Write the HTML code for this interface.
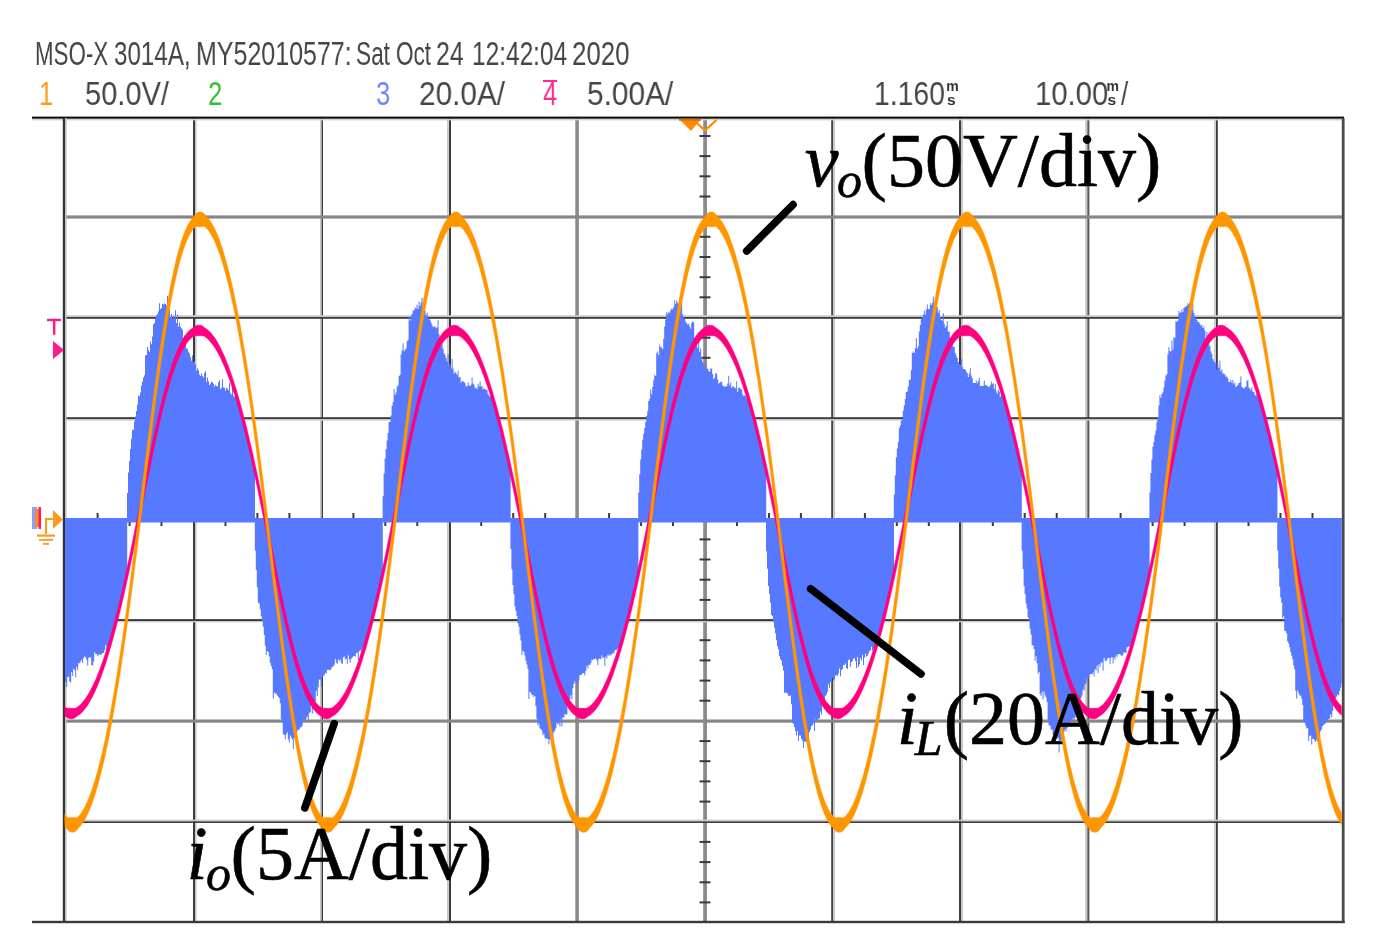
<!DOCTYPE html>
<html><head><meta charset="utf-8"><title>Scope capture</title>
<style>
html,body{margin:0;padding:0;background:#fff;}
body{width:1374px;height:951px;position:relative;overflow:hidden;font-family:"Liberation Sans",sans-serif;}
.hd{position:absolute;will-change:transform;white-space:nowrap;font-family:"Liberation Sans",sans-serif;font-size:34px;line-height:1;color:#454545;transform-origin:0 0;letter-spacing:0;}
svg{position:absolute;left:0;top:0;}
.lab{font-family:"Liberation Serif",serif;fill:#000;}
</style></head>
<body>
<div class="hd" style="left:34.73px;top:35.5px;transform:scaleX(0.6570)">MSO-X</div>
<div class="hd" style="left:114.39px;top:35.5px;transform:scaleX(0.7106)">3014A,</div>
<div class="hd" style="left:196.20px;top:35.5px;transform:scaleX(0.7350)">MY52010577:</div>
<div class="hd" style="left:355.97px;top:35.5px;transform:scaleX(0.6653)">Sat</div>
<div class="hd" style="left:395.58px;top:35.5px;transform:scaleX(0.6608)">Oct</div>
<div class="hd" style="left:436.14px;top:35.5px;transform:scaleX(0.7314)">24</div>
<div class="hd" style="left:471.54px;top:35.5px;transform:scaleX(0.7188)">12:42:04</div>
<div class="hd" style="left:572.28px;top:35.5px;transform:scaleX(0.7611)">2020</div>
<div class="hd" style="left:38.90px;top:75.8px;transform:scaleX(0.7500);color:#ff9a1a">1</div>
<div class="hd" style="left:85.09px;top:75.8px;transform:scaleX(0.8542)">50.0V/</div>
<div class="hd" style="left:207.88px;top:75.8px;transform:scaleX(0.7500);color:#2ec02e">2</div>
<div class="hd" style="left:375.75px;top:75.8px;transform:scaleX(0.7500);color:#6a86ff">3</div>
<div class="hd" style="left:419.25px;top:75.8px;transform:scaleX(0.8750)">20.0A/</div>
<div class="hd" style="left:543.17px;top:75.8px;transform:scaleX(0.7500);color:#ff2a90">4</div>
<div class="hd" style="left:586.94px;top:75.8px;transform:scaleX(0.8781)">5.00A/</div>
<div class="hd" style="left:874.40px;top:75.8px;transform:scaleX(0.8333)">1.160</div>
<div class="hd" style="left:1034.72px;top:75.8px;transform:scaleX(0.8605)">10.00</div>
<div class="hd" style="left:1121.42px;top:75.8px;transform:scaleX(0.7500)">/</div>

<svg width="1374" height="951" viewBox="0 0 1374 951">
<g id="grid">
<rect x="193" y="118" width="2" height="804" fill="#3c3c3c"/>
<rect x="195" y="118" width="1.6" height="804" fill="#c8c8c8"/>
<rect x="321.4" y="118" width="1.6" height="804" fill="#3c3c3c"/>
<rect x="320" y="118" width="1.4" height="804" fill="#c8c8c8"/>
<rect x="449" y="118" width="2" height="804" fill="#3c3c3c"/>
<rect x="447" y="118" width="1.8" height="804" fill="#c8c8c8"/>
<rect x="831.2" y="118" width="2" height="804" fill="#444"/>
<rect x="833.2" y="118" width="1.8" height="804" fill="#c8c8c8"/>
<rect x="959" y="118" width="2" height="804" fill="#3c3c3c"/>
<rect x="961" y="118" width="2" height="804" fill="#c8c8c8"/>
<rect x="1087.2" y="118" width="2.2" height="804" fill="#5a5a5a"/>
<rect x="1085.2" y="118" width="2" height="804" fill="#c8c8c8"/>
<rect x="1216" y="118" width="1.8" height="804" fill="#3c3c3c"/>
<rect x="1214" y="118" width="1.8" height="804" fill="#c8c8c8"/>
<rect x="575.3" y="118" width="3.6" height="804" fill="#8a8a8a"/>
<rect x="703.2" y="118" width="3.8" height="804" fill="#8c8c8c"/>
<rect x="64" y="215.4" width="1279" height="3.2" fill="#878787"/>
<rect x="64" y="317" width="1279" height="1.8" fill="#3c3c3c"/>
<rect x="64" y="315.2" width="1279" height="1.8" fill="#cacaca"/>
<rect x="64" y="417.2" width="1279" height="1.8" fill="#3c3c3c"/>
<rect x="64" y="419" width="1279" height="1.6" fill="#cacaca"/>
<rect x="64" y="518.6" width="1279" height="2" fill="#6a6a6a"/>
<rect x="64" y="619.1" width="1279" height="1.9" fill="#3c3c3c"/>
<rect x="64" y="621" width="1279" height="1.3" fill="#cacaca"/>
<rect x="64" y="719.5" width="1279" height="3.2" fill="#878787"/>
<rect x="64" y="821.2" width="1279" height="1.8" fill="#3c3c3c"/>
<rect x="64" y="819.6" width="1279" height="1.6" fill="#cacaca"/>
<rect x="32" y="116.6" width="1312" height="2.2" fill="#0c0c0c"/>
<rect x="32" y="118.8" width="1312" height="1.6" fill="#d0d0d0"/>
<rect x="62.8" y="118" width="2.2" height="805" fill="#333"/>
<rect x="65" y="118" width="1.6" height="805" fill="#c0c0c0"/>
<rect x="1341.8" y="118" width="2.8" height="805" fill="#4a4a4a"/>
<rect x="32" y="920.8" width="1312.6" height="2.4" fill="#3a3a3a"/>
<rect x="699.5" y="135" width="11" height="2" fill="#3a3a3a"/>
<rect x="699.5" y="155.1" width="11" height="2" fill="#3a3a3a"/>
<rect x="699.5" y="175.3" width="11" height="2" fill="#3a3a3a"/>
<rect x="699.5" y="195.5" width="11" height="2" fill="#3a3a3a"/>
<rect x="699.5" y="235.8" width="11" height="2" fill="#3a3a3a"/>
<rect x="699.5" y="256" width="11" height="2" fill="#3a3a3a"/>
<rect x="699.5" y="276.2" width="11" height="2" fill="#3a3a3a"/>
<rect x="699.5" y="296.3" width="11" height="2" fill="#3a3a3a"/>
<rect x="699.5" y="336.7" width="11" height="2" fill="#3a3a3a"/>
<rect x="699.5" y="356.8" width="11" height="2" fill="#3a3a3a"/>
<rect x="699.5" y="377" width="11" height="2" fill="#3a3a3a"/>
<rect x="699.5" y="397.2" width="11" height="2" fill="#3a3a3a"/>
<rect x="699.5" y="437.5" width="11" height="2" fill="#3a3a3a"/>
<rect x="699.5" y="457.7" width="11" height="2" fill="#3a3a3a"/>
<rect x="699.5" y="477.9" width="11" height="2" fill="#3a3a3a"/>
<rect x="699.5" y="498" width="11" height="2" fill="#3a3a3a"/>
<rect x="699.5" y="538.4" width="11" height="2" fill="#3a3a3a"/>
<rect x="699.5" y="558.5" width="11" height="2" fill="#3a3a3a"/>
<rect x="699.5" y="578.7" width="11" height="2" fill="#3a3a3a"/>
<rect x="699.5" y="598.9" width="11" height="2" fill="#3a3a3a"/>
<rect x="699.5" y="639.2" width="11" height="2" fill="#3a3a3a"/>
<rect x="699.5" y="659.4" width="11" height="2" fill="#3a3a3a"/>
<rect x="699.5" y="679.6" width="11" height="2" fill="#3a3a3a"/>
<rect x="699.5" y="699.7" width="11" height="2" fill="#3a3a3a"/>
<rect x="699.5" y="740.1" width="11" height="2" fill="#3a3a3a"/>
<rect x="699.5" y="760.2" width="11" height="2" fill="#3a3a3a"/>
<rect x="699.5" y="780.4" width="11" height="2" fill="#3a3a3a"/>
<rect x="699.5" y="800.6" width="11" height="2" fill="#3a3a3a"/>
<rect x="699.5" y="840.9" width="11" height="2" fill="#3a3a3a"/>
<rect x="699.5" y="861.1" width="11" height="2" fill="#3a3a3a"/>
<rect x="699.5" y="881.3" width="11" height="2" fill="#3a3a3a"/>
<rect x="699.5" y="901.4" width="11" height="2" fill="#3a3a3a"/>
<rect x="96.6" y="513" width="2" height="13" fill="#3a3a3a"/>
<rect x="128.6" y="513" width="2" height="13" fill="#3a3a3a"/>
<rect x="160.5" y="513" width="2" height="13" fill="#3a3a3a"/>
<rect x="224.5" y="513" width="2" height="13" fill="#3a3a3a"/>
<rect x="256.4" y="513" width="2" height="13" fill="#3a3a3a"/>
<rect x="288.4" y="513" width="2" height="13" fill="#3a3a3a"/>
<rect x="352.4" y="513" width="2" height="13" fill="#3a3a3a"/>
<rect x="384.3" y="513" width="2" height="13" fill="#3a3a3a"/>
<rect x="416.3" y="513" width="2" height="13" fill="#3a3a3a"/>
<rect x="480.2" y="513" width="2" height="13" fill="#3a3a3a"/>
<rect x="512.2" y="513" width="2" height="13" fill="#3a3a3a"/>
<rect x="544.2" y="513" width="2" height="13" fill="#3a3a3a"/>
<rect x="608.1" y="513" width="2" height="13" fill="#3a3a3a"/>
<rect x="640.1" y="513" width="2" height="13" fill="#3a3a3a"/>
<rect x="672" y="513" width="2" height="13" fill="#3a3a3a"/>
<rect x="736" y="513" width="2" height="13" fill="#3a3a3a"/>
<rect x="768" y="513" width="2" height="13" fill="#3a3a3a"/>
<rect x="799.9" y="513" width="2" height="13" fill="#3a3a3a"/>
<rect x="863.9" y="513" width="2" height="13" fill="#3a3a3a"/>
<rect x="895.8" y="513" width="2" height="13" fill="#3a3a3a"/>
<rect x="927.8" y="513" width="2" height="13" fill="#3a3a3a"/>
<rect x="991.8" y="513" width="2" height="13" fill="#3a3a3a"/>
<rect x="1023.7" y="513" width="2" height="13" fill="#3a3a3a"/>
<rect x="1055.7" y="513" width="2" height="13" fill="#3a3a3a"/>
<rect x="1119.6" y="513" width="2" height="13" fill="#3a3a3a"/>
<rect x="1151.6" y="513" width="2" height="13" fill="#3a3a3a"/>
<rect x="1183.6" y="513" width="2" height="13" fill="#3a3a3a"/>
<rect x="1247.5" y="513" width="2" height="13" fill="#3a3a3a"/>
<rect x="1279.5" y="513" width="2" height="13" fill="#3a3a3a"/>
<rect x="1311.5" y="513" width="2" height="13" fill="#3a3a3a"/>
</g>
<g id="blue" fill="#5679ff">
<path d="M65 522 L65 550.7 L65 550.7 L65 572.1 L65 572.1 L65 584.9 L65 584.9 L65 594 L65 594 L65 603.9 L65 603.9 L65 611.7 L65 611.7 L65 617.5 L65 617.5 L65 622.9 L65 622.9 L65 624 L65 624 L65 639.9 L65 639.9 L65 643.2 L65 643.2 L65 648.8 L65 648.8 L65 650.2 L65 650.2 L65 649.5 L65 649.5 L65 656.2 L65 656.2 L65 663.9 L65 663.9 L65 663.7 L65 663.7 L65 669.1 L65 669.1 L65 690.5 L65 690.5 L65 692.5 L65 692.5 L65 695.2 L65 695.2 L65 693.6 L65 693.6 L65 696.4 L65 696.4 L65 697.4 L65 697.4 L65 697 L65 697 L65 706.7 L65 706.7 L65 725.5 L65 725.5 L65 722.5 L65 722.5 L65 726.2 L65 726.2 L65 736.8 L65 736.8 L65 732.3 L65 732.3 L65 732.3 L65 732.3 L65 734.7 L65 734.7 L65 735 L65 735 L65 735.5 L65 735.5 L65 736.7 L65 736.7 L65 741 L65 741 L65 737.9 L65 737.9 L65 747.8 L65 747.8 L65 742.1 L65 742.1 L65 739.6 L65 739.6 L65 735.2 L65 735.2 L65 731.5 L65 731.5 L65 730.2 L65 730.2 L65 729 L65 729 L65 732.8 L65 732.8 L65 727.9 L65 727.9 L65 725.2 L65 725.2 L65 724.3 L65 724.3 L65 724.7 L65 724.7 L65 720.9 L65 720.9 L65 718.9 L65 718.9 L65 717.3 L65 717.3 L65 716.1 L65 716.1 L65 715.2 L65 715.2 L65 713.7 L65 713.7 L65 707.7 L65 707.7 L65 702.7 L65 702.7 L65 700.2 L65 700.2 L65 697.9 L65 697.9 L65 694.7 L65 694.7 L65 690.6 L65 690.6 L65 688.7 L65 688.7 L65 687.9 L65 687.9 L65 682.5 L65 682.5 L65 687.6 L65.2 687.6 L65.2 681.9 L66.2 681.9 L66.2 687 L67.2 687 L67.2 677.1 L68.2 677.1 L68.2 676.5 L69.2 676.5 L69.2 681.6 L70.2 681.6 L70.2 682.4 L71.2 682.4 L71.2 672.1 L72.2 672.1 L72.2 675.9 L73.2 675.9 L73.2 668.7 L74.2 668.7 L74.2 670 L75.2 670 L75.2 677.2 L76.2 677.2 L76.2 666.8 L77.2 666.8 L77.2 669.7 L78.2 669.7 L78.2 662.7 L79.2 662.7 L79.2 663.4 L80.2 663.4 L80.2 661.4 L81.2 661.4 L81.2 659.7 L82.2 659.7 L82.2 662.9 L83.2 662.9 L83.2 657.9 L84.2 657.9 L84.2 656.3 L85.2 656.3 L85.2 657.4 L86.2 657.4 L86.2 659.8 L87.2 659.8 L87.2 665.6 L88.2 665.6 L88.2 658.1 L89.2 658.1 L89.2 657 L90.2 657 L90.2 657.8 L91.2 657.8 L91.2 665.6 L92.2 665.6 L92.2 665 L93.2 665 L93.2 661.4 L94.2 661.4 L94.2 652.1 L95.2 652.1 L95.2 654.3 L96.2 654.3 L96.2 654 L97.2 654 L97.2 655.9 L98.2 655.9 L98.2 654.7 L99.2 654.7 L99.2 653.9 L100.2 653.9 L100.2 655 L101.2 655 L101.2 654.2 L102.2 654.2 L102.2 652.8 L103.2 652.8 L103.2 652.9 L104.2 652.9 L104.2 650.1 L105.2 650.1 L105.2 644.9 L106.2 644.9 L106.2 650.6 L107.2 650.6 L107.2 646.7 L108.2 646.7 L108.2 645.7 L109.2 645.7 L109.2 642.8 L110.2 642.8 L110.2 639.7 L111.2 639.7 L111.2 635.7 L112.2 635.7 L112.2 632.1 L113.2 632.1 L113.2 628.7 L114.2 628.7 L114.2 624.4 L115.2 624.4 L115.2 620.1 L116.2 620.1 L116.2 617.4 L117.2 617.4 L117.2 613.6 L118.2 613.6 L118.2 609.4 L119.2 609.4 L119.2 605 L120.2 605 L120.2 601.1 L121.2 601.1 L121.2 596.5 L122.2 596.5 L122.2 592.3 L123.2 592.3 L123.2 587.1 L124.2 587.1 L124.2 583.9 L125.2 583.9 L125.2 579.3 L126.2 579.3 L126.2 573.8 L127.2 573.8 L127.2 522 L127.2 518 L65 518 Z"/>
<path d="M127 522 L127 493 L128 493 L128 472.5 L129 472.5 L129 461.1 L130 461.1 L130 449 L131 449 L131 438.7 L132 438.7 L132 429.5 L133 429.5 L133 429.8 L134 429.8 L134 421.2 L135 421.2 L135 416.4 L136 416.4 L136 410.9 L137 410.9 L137 404.5 L138 404.5 L138 395.4 L139 395.4 L139 396.2 L140 396.2 L140 392.5 L141 392.5 L141 385.5 L142 385.5 L142 381.4 L143 381.4 L143 377.6 L144 377.6 L144 375.2 L145 375.2 L145 355.2 L146 355.2 L146 354.9 L147 354.9 L147 346.9 L148 346.9 L148 349.9 L149 349.9 L149 352.1 L150 352.1 L150 341.6 L151 341.6 L151 344.2 L152 344.2 L152 336.6 L153 336.6 L153 324.2 L154 324.2 L154 322.9 L155 322.9 L155 317.9 L156 317.9 L156 315.6 L157 315.6 L157 314 L158 314 L158 311.3 L159 311.3 L159 303.2 L160 303.2 L160 309.1 L161 309.1 L161 307.9 L162 307.9 L162 303.8 L163 303.8 L163 304.6 L164 304.6 L164 303.6 L165 303.6 L165 303.9 L166 303.9 L166 305.8 L167 305.8 L167 296.1 L168 296.1 L168 306.8 L169 306.8 L169 308.9 L170 308.9 L170 317 L171 317 L171 314.1 L172 314.1 L172 318.7 L173 318.7 L173 315.9 L174 315.9 L174 318.6 L175 318.6 L175 310.2 L176 310.2 L176 322.9 L177 322.9 L177 314.5 L178 314.5 L178 326.4 L179 326.4 L179 322.6 L180 322.6 L180 326.5 L181 326.5 L181 328.2 L182 328.2 L182 329.7 L183 329.7 L183 337.8 L184 337.8 L184 335.4 L185 335.4 L185 344.1 L186 344.1 L186 348.6 L187 348.6 L187 348.8 L188 348.8 L188 351.8 L189 351.8 L189 353.5 L190 353.5 L190 357 L191 357 L191 360.8 L192 360.8 L192 355.3 L193 355.3 L193 361.9 L194 361.9 L194 361.4 L195 361.4 L195 364.5 L196 364.5 L196 370.8 L197 370.8 L197 368.2 L198 368.2 L198 370.2 L199 370.2 L199 374.6 L200 374.6 L200 376.1 L201 376.1 L201 373.8 L202 373.8 L202 375.9 L203 375.9 L203 377.5 L204 377.5 L204 372.9 L205 372.9 L205 371.3 L206 371.3 L206 381.7 L207 381.7 L207 377.5 L208 377.5 L208 381.3 L209 381.3 L209 384.9 L210 384.9 L210 383.4 L211 383.4 L211 381.8 L212 381.8 L212 382.3 L213 382.3 L213 383.8 L214 383.8 L214 386.4 L215 386.4 L215 384.7 L216 384.7 L216 385.9 L217 385.9 L217 386.6 L218 386.6 L218 382.3 L219 382.3 L219 380 L220 380 L220 389.2 L221 389.2 L221 387.8 L222 387.8 L222 379.3 L223 379.3 L223 387.6 L224 387.6 L224 387.8 L225 387.8 L225 390.8 L226 390.8 L226 387.7 L227 387.7 L227 388.5 L228 388.5 L228 390.3 L229 390.3 L229 382.8 L230 382.8 L230 393.5 L231 393.5 L231 394.5 L232 394.5 L232 385.9 L233 385.9 L233 395.8 L234 395.8 L234 396.9 L235 396.9 L235 395.1 L236 395.1 L236 398 L237 398 L237 400.8 L238 400.8 L238 404.9 L239 404.9 L239 407.8 L240 407.8 L240 411.7 L241 411.7 L241 415.9 L242 415.9 L242 419.1 L243 419.1 L243 423.4 L244 423.4 L244 426.8 L245 426.8 L245 431 L246 431 L246 434.5 L247 434.5 L247 438.9 L248 438.9 L248 443 L249 443 L249 447.5 L250 447.5 L250 452.9 L251 452.9 L251 455.9 L252 455.9 L252 460.8 L253 460.8 L253 465.3 L254 465.3 L254 470.2 L255 470.2 L255 522 L255 522.6 L127 522.6 Z"/>
<path d="M254.8 522 L254.8 550.4 L255.8 550.4 L255.8 570 L256.8 570 L256.8 587.2 L257.8 587.2 L257.8 602.7 L258.8 602.7 L258.8 603.6 L259.8 603.6 L259.8 609.2 L260.8 609.2 L260.8 616.3 L261.8 616.3 L261.8 621.2 L262.8 621.2 L262.8 626.7 L263.8 626.7 L263.8 634.9 L264.8 634.9 L264.8 645.7 L265.8 645.7 L265.8 655.1 L266.8 655.1 L266.8 651 L267.8 651 L267.8 651.9 L268.8 651.9 L268.8 656.4 L269.8 656.4 L269.8 662.7 L270.8 662.7 L270.8 665.9 L271.8 665.9 L271.8 669.2 L272.8 669.2 L272.8 698.8 L273.8 698.8 L273.8 692.6 L274.8 692.6 L274.8 694 L275.8 694 L275.8 693.2 L276.8 693.2 L276.8 695.5 L277.8 695.5 L277.8 696.7 L278.8 696.7 L278.8 697.9 L279.8 697.9 L279.8 703.3 L280.8 703.3 L280.8 719 L281.8 719 L281.8 722.4 L282.8 722.4 L282.8 734.3 L283.8 734.3 L283.8 735.1 L284.8 735.1 L284.8 739.6 L285.8 739.6 L285.8 734.2 L286.8 734.2 L286.8 732.2 L287.8 732.2 L287.8 739.5 L288.8 739.5 L288.8 742.6 L289.8 742.6 L289.8 735.4 L290.8 735.4 L290.8 737.4 L291.8 737.4 L291.8 739.3 L292.8 739.3 L292.8 749.1 L293.8 749.1 L293.8 737.8 L294.8 737.8 L294.8 738.7 L295.8 738.7 L295.8 734.9 L296.8 734.9 L296.8 731.3 L297.8 731.3 L297.8 729.6 L298.8 729.6 L298.8 729.5 L299.8 729.5 L299.8 727.2 L300.8 727.2 L300.8 727.6 L301.8 727.6 L301.8 725.4 L302.8 725.4 L302.8 720.3 L303.8 720.3 L303.8 721.3 L304.8 721.3 L304.8 720.3 L305.8 720.3 L305.8 718.4 L306.8 718.4 L306.8 716.6 L307.8 716.6 L307.8 721.4 L308.8 721.4 L308.8 713.2 L309.8 713.2 L309.8 712.1 L310.8 712.1 L310.8 705.4 L311.8 705.4 L311.8 713.7 L312.8 713.7 L312.8 704.1 L313.8 704.1 L313.8 706.4 L314.8 706.4 L314.8 701.5 L315.8 701.5 L315.8 690.7 L316.8 690.7 L316.8 696.1 L317.8 696.1 L317.8 687.2 L318.8 687.2 L318.8 679.6 L319.8 679.6 L319.8 679.8 L320.8 679.8 L320.8 686.7 L321.8 686.7 L321.8 677.2 L322.8 677.2 L322.8 675.9 L323.8 675.9 L323.8 675.2 L324.8 675.2 L324.8 672.9 L325.8 672.9 L325.8 673.6 L326.8 673.6 L326.8 669.9 L327.8 669.9 L327.8 669.5 L328.8 669.5 L328.8 670.5 L329.8 670.5 L329.8 669.9 L330.8 669.9 L330.8 668.4 L331.8 668.4 L331.8 666.8 L332.8 666.8 L332.8 666.4 L333.8 666.4 L333.8 664.8 L334.8 664.8 L334.8 659.1 L335.8 659.1 L335.8 662.6 L336.8 662.6 L336.8 664.1 L337.8 664.1 L337.8 659.3 L338.8 659.3 L338.8 660.9 L339.8 660.9 L339.8 659.6 L340.8 659.6 L340.8 663.1 L341.8 663.1 L341.8 663.9 L342.8 663.9 L342.8 657.5 L343.8 657.5 L343.8 656.6 L344.8 656.6 L344.8 659.6 L345.8 659.6 L345.8 658.4 L346.8 658.4 L346.8 664.1 L347.8 664.1 L347.8 655.2 L348.8 655.2 L348.8 659.2 L349.8 659.2 L349.8 662.8 L350.8 662.8 L350.8 658.7 L351.8 658.7 L351.8 657.7 L352.8 657.7 L352.8 656.3 L353.8 656.3 L353.8 655.9 L354.8 655.9 L354.8 656.8 L355.8 656.8 L355.8 653.3 L356.8 653.3 L356.8 652.4 L357.8 652.4 L357.8 659.9 L358.8 659.9 L358.8 651.3 L359.8 651.3 L359.8 650 L360.8 650 L360.8 657.5 L361.8 657.5 L361.8 648.5 L362.8 648.5 L362.8 647.8 L363.8 647.8 L363.8 646.5 L364.8 646.5 L364.8 642.1 L365.8 642.1 L365.8 639.5 L366.8 639.5 L366.8 636.2 L367.8 636.2 L367.8 632.6 L368.8 632.6 L368.8 628.7 L369.8 628.7 L369.8 624.9 L370.8 624.9 L370.8 621.4 L371.8 621.4 L371.8 616.8 L372.8 616.8 L372.8 613.2 L373.8 613.2 L373.8 608.4 L374.8 608.4 L374.8 604.8 L375.8 604.8 L375.8 601.4 L376.8 601.4 L376.8 596.3 L377.8 596.3 L377.8 592.7 L378.8 592.7 L378.8 586.6 L379.8 586.6 L379.8 584.1 L380.8 584.1 L380.8 579.4 L381.8 579.4 L381.8 574.1 L382.8 574.1 L382.8 522 L382.8 518 L254.8 518 Z"/>
<path d="M382.6 522 L382.6 496.3 L383.6 496.3 L383.6 473.4 L384.6 473.4 L384.6 458.5 L385.6 458.5 L385.6 449.3 L386.6 449.3 L386.6 440.4 L387.6 440.4 L387.6 433.1 L388.6 433.1 L388.6 421.9 L389.6 421.9 L389.6 421.8 L390.6 421.8 L390.6 415.4 L391.6 415.4 L391.6 405.8 L392.6 405.8 L392.6 402.2 L393.6 402.2 L393.6 388.9 L394.6 388.9 L394.6 394.9 L395.6 394.9 L395.6 392.4 L396.6 392.4 L396.6 386.8 L397.6 386.8 L397.6 385.4 L398.6 385.4 L398.6 376.1 L399.6 376.1 L399.6 374.8 L400.6 374.8 L400.6 354.5 L401.6 354.5 L401.6 350.6 L402.6 350.6 L402.6 343.2 L403.6 343.2 L403.6 351.3 L404.6 351.3 L404.6 349.4 L405.6 349.4 L405.6 348.5 L406.6 348.5 L406.6 341.3 L407.6 341.3 L407.6 339.8 L408.6 339.8 L408.6 316.9 L409.6 316.9 L409.6 320.4 L410.6 320.4 L410.6 316 L411.6 316 L411.6 313.9 L412.6 313.9 L412.6 310.6 L413.6 310.6 L413.6 310.2 L414.6 310.2 L414.6 307.4 L415.6 307.4 L415.6 308.6 L416.6 308.6 L416.6 304.8 L417.6 304.8 L417.6 308.9 L418.6 308.9 L418.6 301.7 L419.6 301.7 L419.6 305.9 L420.6 305.9 L420.6 302.6 L421.6 302.6 L421.6 297.9 L422.6 297.9 L422.6 306.6 L423.6 306.6 L423.6 304.1 L424.6 304.1 L424.6 311.1 L425.6 311.1 L425.6 315.3 L426.6 315.3 L426.6 312.7 L427.6 312.7 L427.6 317.9 L428.6 317.9 L428.6 318.5 L429.6 318.5 L429.6 319.7 L430.6 319.7 L430.6 322.6 L431.6 322.6 L431.6 324.8 L432.6 324.8 L432.6 327.1 L433.6 327.1 L433.6 326.8 L434.6 326.8 L434.6 326.3 L435.6 326.3 L435.6 328.3 L436.6 328.3 L436.6 327.3 L437.6 327.3 L437.6 319.9 L438.6 319.9 L438.6 334.3 L439.6 334.3 L439.6 340.2 L440.6 340.2 L440.6 345.4 L441.6 345.4 L441.6 339.8 L442.6 339.8 L442.6 348.7 L443.6 348.7 L443.6 352.9 L444.6 352.9 L444.6 354.9 L445.6 354.9 L445.6 358.1 L446.6 358.1 L446.6 361.4 L447.6 361.4 L447.6 353.9 L448.6 353.9 L448.6 365.1 L449.6 365.1 L449.6 364.2 L450.6 364.2 L450.6 368.4 L451.6 368.4 L451.6 359 L452.6 359 L452.6 368.6 L453.6 368.6 L453.6 373.6 L454.6 373.6 L454.6 371.8 L455.6 371.8 L455.6 373.1 L456.6 373.1 L456.6 374.9 L457.6 374.9 L457.6 371 L458.6 371 L458.6 377.5 L459.6 377.5 L459.6 376.7 L460.6 376.7 L460.6 382.8 L461.6 382.8 L461.6 381.1 L462.6 381.1 L462.6 381.5 L463.6 381.5 L463.6 382 L464.6 382 L464.6 383.3 L465.6 383.3 L465.6 386.6 L466.6 386.6 L466.6 386.2 L467.6 386.2 L467.6 382.3 L468.6 382.3 L468.6 385.2 L469.6 385.2 L469.6 386.1 L470.6 386.1 L470.6 384.4 L471.6 384.4 L471.6 377.4 L472.6 377.4 L472.6 383.4 L473.6 383.4 L473.6 384.7 L474.6 384.7 L474.6 388.3 L475.6 388.3 L475.6 387.6 L476.6 387.6 L476.6 388.9 L477.6 388.9 L477.6 383.8 L478.6 383.8 L478.6 386.6 L479.6 386.6 L479.6 381.5 L480.6 381.5 L480.6 386.4 L481.6 386.4 L481.6 386.3 L482.6 386.3 L482.6 389.4 L483.6 389.4 L483.6 387.9 L484.6 387.9 L484.6 389.2 L485.6 389.2 L485.6 390.1 L486.6 390.1 L486.6 389.7 L487.6 389.7 L487.6 393.9 L488.6 393.9 L488.6 395.6 L489.6 395.6 L489.6 397 L490.6 397 L490.6 396 L491.6 396 L491.6 397.5 L492.6 397.5 L492.6 401.6 L493.6 401.6 L493.6 404.3 L494.6 404.3 L494.6 408.2 L495.6 408.2 L495.6 412 L496.6 412 L496.6 416.6 L497.6 416.6 L497.6 419.6 L498.6 419.6 L498.6 423.3 L499.6 423.3 L499.6 426.8 L500.6 426.8 L500.6 431.8 L501.6 431.8 L501.6 435.7 L502.6 435.7 L502.6 438.8 L503.6 438.8 L503.6 442.9 L504.6 442.9 L504.6 447.1 L505.6 447.1 L505.6 451.2 L506.6 451.2 L506.6 456.9 L507.6 456.9 L507.6 461.7 L508.6 461.7 L508.6 464.6 L509.6 464.6 L509.6 469.4 L510.6 469.4 L510.6 522 L510.6 522.6 L382.6 522.6 Z"/>
<path d="M510.4 522 L510.4 548.9 L511.4 548.9 L511.4 569.6 L512.4 569.6 L512.4 585.1 L513.4 585.1 L513.4 594.1 L514.4 594.1 L514.4 606.2 L515.4 606.2 L515.4 610.7 L516.4 610.7 L516.4 616.1 L517.4 616.1 L517.4 623.2 L518.4 623.2 L518.4 626.6 L519.4 626.6 L519.4 634.5 L520.4 634.5 L520.4 640.5 L521.4 640.5 L521.4 655.3 L522.4 655.3 L522.4 650.7 L523.4 650.7 L523.4 652.1 L524.4 652.1 L524.4 655.5 L525.4 655.5 L525.4 660.7 L526.4 660.7 L526.4 664.5 L527.4 664.5 L527.4 668.7 L528.4 668.7 L528.4 699 L529.4 699 L529.4 691.7 L530.4 691.7 L530.4 692.7 L531.4 692.7 L531.4 695.3 L532.4 695.3 L532.4 694.9 L533.4 694.9 L533.4 697 L534.4 697 L534.4 696 L535.4 696 L535.4 706 L536.4 706 L536.4 718.8 L537.4 718.8 L537.4 725.6 L538.4 725.6 L538.4 723.5 L539.4 723.5 L539.4 728.2 L540.4 728.2 L540.4 729.1 L541.4 729.1 L541.4 730.6 L542.4 730.6 L542.4 735.3 L543.4 735.3 L543.4 733.6 L544.4 733.6 L544.4 737.8 L545.4 737.8 L545.4 738.5 L546.4 738.5 L546.4 739.1 L547.4 739.1 L547.4 739.1 L548.4 739.1 L548.4 744.2 L549.4 744.2 L549.4 739.3 L550.4 739.3 L550.4 739.4 L551.4 739.4 L551.4 745.4 L552.4 745.4 L552.4 741.7 L553.4 741.7 L553.4 732.2 L554.4 732.2 L554.4 730.6 L555.4 730.6 L555.4 728.2 L556.4 728.2 L556.4 722.5 L557.4 722.5 L557.4 724.6 L558.4 724.6 L558.4 722.8 L559.4 722.8 L559.4 726.2 L560.4 726.2 L560.4 719.6 L561.4 719.6 L561.4 726.4 L562.4 726.4 L562.4 717.2 L563.4 717.2 L563.4 717.7 L564.4 717.7 L564.4 714.3 L565.4 714.3 L565.4 714.5 L566.4 714.5 L566.4 714.4 L567.4 714.4 L567.4 703.5 L568.4 703.5 L568.4 700.2 L569.4 700.2 L569.4 699.3 L570.4 699.3 L570.4 695.3 L571.4 695.3 L571.4 699.6 L572.4 699.6 L572.4 688.2 L573.4 688.2 L573.4 683.9 L574.4 683.9 L574.4 681.2 L575.4 681.2 L575.4 683 L576.4 683 L576.4 684 L577.4 684 L577.4 676.3 L578.4 676.3 L578.4 680.4 L579.4 680.4 L579.4 675.3 L580.4 675.3 L580.4 675.1 L581.4 675.1 L581.4 674.3 L582.4 674.3 L582.4 673.1 L583.4 673.1 L583.4 673.1 L584.4 673.1 L584.4 675.4 L585.4 675.4 L585.4 670.7 L586.4 670.7 L586.4 666.1 L587.4 666.1 L587.4 668.4 L588.4 668.4 L588.4 664.8 L589.4 664.8 L589.4 664.9 L590.4 664.9 L590.4 663 L591.4 663 L591.4 659.6 L592.4 659.6 L592.4 660.3 L593.4 660.3 L593.4 659 L594.4 659 L594.4 659 L595.4 659 L595.4 658.2 L596.4 658.2 L596.4 660.5 L597.4 660.5 L597.4 665.3 L598.4 665.3 L598.4 659 L599.4 659 L599.4 658.4 L600.4 658.4 L600.4 659.2 L601.4 659.2 L601.4 655.4 L602.4 655.4 L602.4 658 L603.4 658 L603.4 657.6 L604.4 657.6 L604.4 666 L605.4 666 L605.4 656.6 L606.4 656.6 L606.4 658.5 L607.4 658.5 L607.4 654.4 L608.4 654.4 L608.4 656 L609.4 656 L609.4 654.2 L610.4 654.2 L610.4 655.5 L611.4 655.5 L611.4 654.3 L612.4 654.3 L612.4 652.8 L613.4 652.8 L613.4 653.8 L614.4 653.8 L614.4 650.4 L615.4 650.4 L615.4 649.8 L616.4 649.8 L616.4 650.1 L617.4 650.1 L617.4 647.9 L618.4 647.9 L618.4 647.7 L619.4 647.7 L619.4 646.6 L620.4 646.6 L620.4 642.7 L621.4 642.7 L621.4 639.8 L622.4 639.8 L622.4 635.1 L623.4 635.1 L623.4 632.7 L624.4 632.7 L624.4 629.1 L625.4 629.1 L625.4 625.3 L626.4 625.3 L626.4 621.4 L627.4 621.4 L627.4 616.5 L628.4 616.5 L628.4 613.5 L629.4 613.5 L629.4 609.1 L630.4 609.1 L630.4 604.9 L631.4 604.9 L631.4 601.4 L632.4 601.4 L632.4 597.2 L633.4 597.2 L633.4 592.1 L634.4 592.1 L634.4 587.3 L635.4 587.3 L635.4 583.7 L636.4 583.7 L636.4 579.1 L637.4 579.1 L637.4 574.7 L638.4 574.7 L638.4 522 L638.4 518 L510.4 518 Z"/>
<path d="M638.2 522 L638.2 492.5 L639.2 492.5 L639.2 474.2 L640.2 474.2 L640.2 459.5 L641.2 459.5 L641.2 449.4 L642.2 449.4 L642.2 439.8 L643.2 439.8 L643.2 434.1 L644.2 434.1 L644.2 428 L645.2 428 L645.2 422 L646.2 422 L646.2 415.7 L647.2 415.7 L647.2 411.2 L648.2 411.2 L648.2 401.1 L649.2 401.1 L649.2 398.7 L650.2 398.7 L650.2 389.6 L651.2 389.6 L651.2 394.3 L652.2 394.3 L652.2 387 L653.2 387 L653.2 380.3 L654.2 380.3 L654.2 374.8 L655.2 374.8 L655.2 376 L656.2 376 L656.2 353.2 L657.2 353.2 L657.2 351.4 L658.2 351.4 L658.2 355.3 L659.2 355.3 L659.2 344.4 L660.2 344.4 L660.2 346.9 L661.2 346.9 L661.2 347.5 L662.2 347.5 L662.2 349.2 L663.2 349.2 L663.2 338.8 L664.2 338.8 L664.2 326.4 L665.2 326.4 L665.2 319.4 L666.2 319.4 L666.2 312.2 L667.2 312.2 L667.2 314.2 L668.2 314.2 L668.2 311.8 L669.2 311.8 L669.2 312.7 L670.2 312.7 L670.2 310.1 L671.2 310.1 L671.2 308.5 L672.2 308.5 L672.2 309.3 L673.2 309.3 L673.2 307 L674.2 307 L674.2 300.3 L675.2 300.3 L675.2 303.9 L676.2 303.9 L676.2 300.4 L677.2 300.4 L677.2 302.7 L678.2 302.7 L678.2 304.2 L679.2 304.2 L679.2 309.6 L680.2 309.6 L680.2 302.9 L681.2 302.9 L681.2 302.5 L682.2 302.5 L682.2 314.3 L683.2 314.3 L683.2 317.7 L684.2 317.7 L684.2 319 L685.2 319 L685.2 321.8 L686.2 321.8 L686.2 323 L687.2 323 L687.2 324.4 L688.2 324.4 L688.2 323.7 L689.2 323.7 L689.2 326.6 L690.2 326.6 L690.2 328.7 L691.2 328.7 L691.2 323 L692.2 323 L692.2 321.2 L693.2 321.2 L693.2 322.4 L694.2 322.4 L694.2 338 L695.2 338 L695.2 341.9 L696.2 341.9 L696.2 344.5 L697.2 344.5 L697.2 347.8 L698.2 347.8 L698.2 339.2 L699.2 339.2 L699.2 352.1 L700.2 352.1 L700.2 348.4 L701.2 348.4 L701.2 357.1 L702.2 357.1 L702.2 362.1 L703.2 362.1 L703.2 364.3 L704.2 364.3 L704.2 363.9 L705.2 363.9 L705.2 367.3 L706.2 367.3 L706.2 367.7 L707.2 367.7 L707.2 368.9 L708.2 368.9 L708.2 370.8 L709.2 370.8 L709.2 371.9 L710.2 371.9 L710.2 368.4 L711.2 368.4 L711.2 368.7 L712.2 368.7 L712.2 373.9 L713.2 373.9 L713.2 379.2 L714.2 379.2 L714.2 377.4 L715.2 377.4 L715.2 372.9 L716.2 372.9 L716.2 374 L717.2 374 L717.2 379.5 L718.2 379.5 L718.2 383.4 L719.2 383.4 L719.2 382.8 L720.2 382.8 L720.2 381.9 L721.2 381.9 L721.2 381.5 L722.2 381.5 L722.2 385.5 L723.2 385.5 L723.2 386.3 L724.2 386.3 L724.2 386.8 L725.2 386.8 L725.2 386.3 L726.2 386.3 L726.2 386.2 L727.2 386.2 L727.2 383.4 L728.2 383.4 L728.2 375.7 L729.2 375.7 L729.2 385.6 L730.2 385.6 L730.2 382.4 L731.2 382.4 L731.2 387.8 L732.2 387.8 L732.2 386.2 L733.2 386.2 L733.2 386.7 L734.2 386.7 L734.2 387.4 L735.2 387.4 L735.2 388.3 L736.2 388.3 L736.2 381.3 L737.2 381.3 L737.2 392.1 L738.2 392.1 L738.2 387.7 L739.2 387.7 L739.2 387.4 L740.2 387.4 L740.2 389.1 L741.2 389.1 L741.2 389.7 L742.2 389.7 L742.2 394.3 L743.2 394.3 L743.2 396.1 L744.2 396.1 L744.2 395.2 L745.2 395.2 L745.2 395.9 L746.2 395.9 L746.2 398.7 L747.2 398.7 L747.2 397.9 L748.2 397.9 L748.2 401.6 L749.2 401.6 L749.2 404.4 L750.2 404.4 L750.2 407.9 L751.2 407.9 L751.2 411.7 L752.2 411.7 L752.2 416.2 L753.2 416.2 L753.2 419.3 L754.2 419.3 L754.2 422.5 L755.2 422.5 L755.2 427 L756.2 427 L756.2 430.6 L757.2 430.6 L757.2 434.8 L758.2 434.8 L758.2 438.5 L759.2 438.5 L759.2 443 L760.2 443 L760.2 446.8 L761.2 446.8 L761.2 451.8 L762.2 451.8 L762.2 455.8 L763.2 455.8 L763.2 460.3 L764.2 460.3 L764.2 465.8 L765.2 465.8 L765.2 469 L766.2 469 L766.2 522 L766.2 522.6 L638.2 522.6 Z"/>
<path d="M766 522 L766 551.3 L767 551.3 L767 568.7 L768 568.7 L768 586.1 L769 586.1 L769 594.1 L770 594.1 L770 602.7 L771 602.7 L771 615 L772 615 L772 615.9 L773 615.9 L773 622 L774 622 L774 627.8 L775 627.8 L775 633.6 L776 633.6 L776 640.3 L777 640.3 L777 646.1 L778 646.1 L778 649.6 L779 649.6 L779 655.9 L780 655.9 L780 659.1 L781 659.1 L781 660.8 L782 660.8 L782 665.7 L783 665.7 L783 670.8 L784 670.8 L784 693 L785 693 L785 692.3 L786 692.3 L786 693.1 L787 693.1 L787 693.7 L788 693.7 L788 695.8 L789 695.8 L789 696.1 L790 696.1 L790 695.4 L791 695.4 L791 704.2 L792 704.2 L792 722.8 L793 722.8 L793 724 L794 724 L794 727.2 L795 727.2 L795 731.3 L796 731.3 L796 735.5 L797 735.5 L797 731.2 L798 731.2 L798 740.9 L799 740.9 L799 735.5 L800 735.5 L800 735.6 L801 735.6 L801 739.1 L802 739.1 L802 740.5 L803 740.5 L803 748 L804 748 L804 741.5 L805 741.5 L805 741.8 L806 741.8 L806 741.5 L807 741.5 L807 739.4 L808 739.4 L808 737.9 L809 737.9 L809 732.1 L810 732.1 L810 729.4 L811 729.4 L811 725.8 L812 725.8 L812 725.6 L813 725.6 L813 723 L814 723 L814 730.9 L815 730.9 L815 719.4 L816 719.4 L816 720.7 L817 720.7 L817 720.4 L818 720.4 L818 718.8 L819 718.8 L819 718.6 L820 718.6 L820 711.6 L821 711.6 L821 714.7 L822 714.7 L822 705.8 L823 705.8 L823 704.1 L824 704.1 L824 702.4 L825 702.4 L825 696.1 L826 696.1 L826 694.5 L827 694.5 L827 691.7 L828 691.7 L828 684.2 L829 684.2 L829 687.7 L830 687.7 L830 682.1 L831 682.1 L831 681.9 L832 681.9 L832 677.8 L833 677.8 L833 680.7 L834 680.7 L834 679.4 L835 679.4 L835 675.4 L836 675.4 L836 675.2 L837 675.2 L837 676 L838 676 L838 673.5 L839 673.5 L839 668.5 L840 668.5 L840 676.3 L841 676.3 L841 670.1 L842 670.1 L842 669 L843 669 L843 664.9 L844 664.9 L844 665.1 L845 665.1 L845 663.5 L846 663.5 L846 668 L847 668 L847 669 L848 669 L848 660.1 L849 660.1 L849 659.5 L850 659.5 L850 667 L851 667 L851 662 L852 662 L852 660.9 L853 660.9 L853 658.6 L854 658.6 L854 658.3 L855 658.3 L855 661.3 L856 661.3 L856 668.1 L857 668.1 L857 656.9 L858 656.9 L858 666.9 L859 666.9 L859 664.2 L860 664.2 L860 658 L861 658 L861 660.5 L862 660.5 L862 654.7 L863 654.7 L863 665.1 L864 665.1 L864 657.7 L865 657.7 L865 653.7 L866 653.7 L866 656.8 L867 656.8 L867 655.7 L868 655.7 L868 653.6 L869 653.6 L869 651 L870 651 L870 650.5 L871 650.5 L871 646.7 L872 646.7 L872 650.4 L873 650.4 L873 648.2 L874 648.2 L874 646.9 L875 646.9 L875 645.6 L876 645.6 L876 642.5 L877 642.5 L877 638.7 L878 638.7 L878 634.5 L879 634.5 L879 631.5 L880 631.5 L880 628.9 L881 628.9 L881 624.8 L882 624.8 L882 621.3 L883 621.3 L883 616.7 L884 616.7 L884 612 L885 612 L885 609.1 L886 609.1 L886 605.6 L887 605.6 L887 601.3 L888 601.3 L888 596.9 L889 596.9 L889 592.5 L890 592.5 L890 588 L891 588 L891 583.2 L892 583.2 L892 579.5 L893 579.5 L893 574.5 L894 574.5 L894 522 L894 518 L766 518 Z"/>
<path d="M893.8 522 L893.8 494.6 L894.8 494.6 L894.8 475.2 L895.8 475.2 L895.8 457.3 L896.8 457.3 L896.8 448.5 L897.8 448.5 L897.8 442 L898.8 442 L898.8 428.3 L899.8 428.3 L899.8 425.4 L900.8 425.4 L900.8 420.9 L901.8 420.9 L901.8 419.5 L902.8 419.5 L902.8 410.5 L903.8 410.5 L903.8 405.2 L904.8 405.2 L904.8 398.9 L905.8 398.9 L905.8 391.9 L906.8 391.9 L906.8 391.4 L907.8 391.4 L907.8 386.5 L908.8 386.5 L908.8 380 L909.8 380 L909.8 379.6 L910.8 379.6 L910.8 370 L911.8 370 L911.8 352.9 L912.8 352.9 L912.8 351.4 L913.8 351.4 L913.8 353.1 L914.8 353.1 L914.8 348.2 L915.8 348.2 L915.8 338.1 L916.8 338.1 L916.8 348.5 L917.8 348.5 L917.8 346.3 L918.8 346.3 L918.8 331.6 L919.8 331.6 L919.8 325.1 L920.8 325.1 L920.8 318.7 L921.8 318.7 L921.8 317.4 L922.8 317.4 L922.8 314.7 L923.8 314.7 L923.8 310.7 L924.8 310.7 L924.8 314.4 L925.8 314.4 L925.8 309.4 L926.8 309.4 L926.8 304.4 L927.8 304.4 L927.8 309.1 L928.8 309.1 L928.8 309.3 L929.8 309.3 L929.8 303.3 L930.8 303.3 L930.8 305.3 L931.8 305.3 L931.8 302.9 L932.8 302.9 L932.8 296.6 L933.8 296.6 L933.8 302.8 L934.8 302.8 L934.8 308.9 L935.8 308.9 L935.8 307.1 L936.8 307.1 L936.8 306.9 L937.8 306.9 L937.8 312.8 L938.8 312.8 L938.8 309.8 L939.8 309.8 L939.8 316.9 L940.8 316.9 L940.8 319.9 L941.8 319.9 L941.8 320.8 L942.8 320.8 L942.8 313.2 L943.8 313.2 L943.8 323.7 L944.8 323.7 L944.8 327.8 L945.8 327.8 L945.8 326 L946.8 326 L946.8 321.1 L947.8 321.1 L947.8 332.1 L948.8 332.1 L948.8 331.2 L949.8 331.2 L949.8 338.3 L950.8 338.3 L950.8 338.8 L951.8 338.8 L951.8 342.4 L952.8 342.4 L952.8 346.8 L953.8 346.8 L953.8 347 L954.8 347 L954.8 353 L955.8 353 L955.8 355.5 L956.8 355.5 L956.8 358.1 L957.8 358.1 L957.8 362.1 L958.8 362.1 L958.8 364.3 L959.8 364.3 L959.8 365.1 L960.8 365.1 L960.8 358.7 L961.8 358.7 L961.8 367.2 L962.8 367.2 L962.8 368.9 L963.8 368.9 L963.8 368.9 L964.8 368.9 L964.8 369.8 L965.8 369.8 L965.8 371.4 L966.8 371.4 L966.8 372.9 L967.8 372.9 L967.8 376.9 L968.8 376.9 L968.8 373.6 L969.8 373.6 L969.8 367.9 L970.8 367.9 L970.8 375.4 L971.8 375.4 L971.8 378.3 L972.8 378.3 L972.8 382.9 L973.8 382.9 L973.8 382.9 L974.8 382.9 L974.8 382.9 L975.8 382.9 L975.8 380.6 L976.8 380.6 L976.8 383.3 L977.8 383.3 L977.8 381 L978.8 381 L978.8 377.4 L979.8 377.4 L979.8 386.3 L980.8 386.3 L980.8 385.7 L981.8 385.7 L981.8 386.1 L982.8 386.1 L982.8 385.7 L983.8 385.7 L983.8 380.5 L984.8 380.5 L984.8 385.3 L985.8 385.3 L985.8 385 L986.8 385 L986.8 385.9 L987.8 385.9 L987.8 386.7 L988.8 386.7 L988.8 387 L989.8 387 L989.8 385.2 L990.8 385.2 L990.8 381.5 L991.8 381.5 L991.8 384.2 L992.8 384.2 L992.8 383 L993.8 383 L993.8 388.8 L994.8 388.8 L994.8 384 L995.8 384 L995.8 391.2 L996.8 391.2 L996.8 393.4 L997.8 393.4 L997.8 389.8 L998.8 389.8 L998.8 391.5 L999.8 391.5 L999.8 396.7 L1000.8 396.7 L1000.8 388.7 L1001.8 388.7 L1001.8 396.9 L1002.8 396.9 L1002.8 398.7 L1003.8 398.7 L1003.8 402.3 L1004.8 402.3 L1004.8 404.2 L1005.8 404.2 L1005.8 407.9 L1006.8 407.9 L1006.8 412.7 L1007.8 412.7 L1007.8 415.8 L1008.8 415.8 L1008.8 419.3 L1009.8 419.3 L1009.8 422.4 L1010.8 422.4 L1010.8 426.8 L1011.8 426.8 L1011.8 430.7 L1012.8 430.7 L1012.8 434.7 L1013.8 434.7 L1013.8 438.5 L1014.8 438.5 L1014.8 442.8 L1015.8 442.8 L1015.8 447.2 L1016.8 447.2 L1016.8 451.6 L1017.8 451.6 L1017.8 456.9 L1018.8 456.9 L1018.8 460.2 L1019.8 460.2 L1019.8 464.4 L1020.8 464.4 L1020.8 469.4 L1021.8 469.4 L1021.8 522 L1021.8 522.6 L893.8 522.6 Z"/>
<path d="M1021.6 522 L1021.6 550.6 L1022.6 550.6 L1022.6 569.1 L1023.6 569.1 L1023.6 586.2 L1024.6 586.2 L1024.6 594.1 L1025.6 594.1 L1025.6 603.4 L1026.6 603.4 L1026.6 608.4 L1027.6 608.4 L1027.6 617.2 L1028.6 617.2 L1028.6 620.2 L1029.6 620.2 L1029.6 628.7 L1030.6 628.7 L1030.6 634.4 L1031.6 634.4 L1031.6 644.9 L1032.6 644.9 L1032.6 645.7 L1033.6 645.7 L1033.6 649.1 L1034.6 649.1 L1034.6 660.7 L1035.6 660.7 L1035.6 656.3 L1036.6 656.3 L1036.6 663.2 L1037.6 663.2 L1037.6 673.8 L1038.6 673.8 L1038.6 671.7 L1039.6 671.7 L1039.6 694.1 L1040.6 694.1 L1040.6 696.1 L1041.6 696.1 L1041.6 691.8 L1042.6 691.8 L1042.6 699.4 L1043.6 699.4 L1043.6 691.4 L1044.6 691.4 L1044.6 695.6 L1045.6 695.6 L1045.6 697.5 L1046.6 697.5 L1046.6 702 L1047.6 702 L1047.6 719.9 L1048.6 719.9 L1048.6 725.2 L1049.6 725.2 L1049.6 725.8 L1050.6 725.8 L1050.6 729.5 L1051.6 729.5 L1051.6 729.5 L1052.6 729.5 L1052.6 734.8 L1053.6 734.8 L1053.6 734.7 L1054.6 734.7 L1054.6 732.6 L1055.6 732.6 L1055.6 735.9 L1056.6 735.9 L1056.6 738.4 L1057.6 738.4 L1057.6 737.7 L1058.6 737.7 L1058.6 752.6 L1059.6 752.6 L1059.6 740.6 L1060.6 740.6 L1060.6 743.1 L1061.6 743.1 L1061.6 739.3 L1062.6 739.3 L1062.6 735.2 L1063.6 735.2 L1063.6 732.1 L1064.6 732.1 L1064.6 729.3 L1065.6 729.3 L1065.6 731.2 L1066.6 731.2 L1066.6 728 L1067.6 728 L1067.6 726.5 L1068.6 726.5 L1068.6 723.4 L1069.6 723.4 L1069.6 720.7 L1070.6 720.7 L1070.6 720 L1071.6 720 L1071.6 720.6 L1072.6 720.6 L1072.6 718.2 L1073.6 718.2 L1073.6 722.1 L1074.6 722.1 L1074.6 717.6 L1075.6 717.6 L1075.6 713.3 L1076.6 713.3 L1076.6 713.5 L1077.6 713.5 L1077.6 707.2 L1078.6 707.2 L1078.6 698.3 L1079.6 698.3 L1079.6 701.5 L1080.6 701.5 L1080.6 697.9 L1081.6 697.9 L1081.6 695.2 L1082.6 695.2 L1082.6 689.5 L1083.6 689.5 L1083.6 690.7 L1084.6 690.7 L1084.6 684.8 L1085.6 684.8 L1085.6 682.9 L1086.6 682.9 L1086.6 678.8 L1087.6 678.8 L1087.6 679.3 L1088.6 679.3 L1088.6 676.3 L1089.6 676.3 L1089.6 673.9 L1090.6 673.9 L1090.6 673.9 L1091.6 673.9 L1091.6 674.2 L1092.6 674.2 L1092.6 672.5 L1093.6 672.5 L1093.6 676.6 L1094.6 676.6 L1094.6 668.9 L1095.6 668.9 L1095.6 670.8 L1096.6 670.8 L1096.6 665.8 L1097.6 665.8 L1097.6 673.2 L1098.6 673.2 L1098.6 664.3 L1099.6 664.3 L1099.6 666.7 L1100.6 666.7 L1100.6 662.5 L1101.6 662.5 L1101.6 662.5 L1102.6 662.5 L1102.6 670.8 L1103.6 670.8 L1103.6 657.7 L1104.6 657.7 L1104.6 660.4 L1105.6 660.4 L1105.6 661.5 L1106.6 661.5 L1106.6 659.6 L1107.6 659.6 L1107.6 657.8 L1108.6 657.8 L1108.6 657.9 L1109.6 657.9 L1109.6 664.3 L1110.6 664.3 L1110.6 657.5 L1111.6 657.5 L1111.6 657.2 L1112.6 657.2 L1112.6 663.5 L1113.6 663.5 L1113.6 657.4 L1114.6 657.4 L1114.6 659.7 L1115.6 659.7 L1115.6 655.6 L1116.6 655.6 L1116.6 657.2 L1117.6 657.2 L1117.6 654 L1118.6 654 L1118.6 653.9 L1119.6 653.9 L1119.6 654.3 L1120.6 654.3 L1120.6 655.5 L1121.6 655.5 L1121.6 656.2 L1122.6 656.2 L1122.6 654.6 L1123.6 654.6 L1123.6 652.1 L1124.6 652.1 L1124.6 652.9 L1125.6 652.9 L1125.6 652.8 L1126.6 652.8 L1126.6 647.4 L1127.6 647.4 L1127.6 647.1 L1128.6 647.1 L1128.6 646.3 L1129.6 646.3 L1129.6 646.1 L1130.6 646.1 L1130.6 646 L1131.6 646 L1131.6 642.7 L1132.6 642.7 L1132.6 639.4 L1133.6 639.4 L1133.6 635.7 L1134.6 635.7 L1134.6 630.2 L1135.6 630.2 L1135.6 628.1 L1136.6 628.1 L1136.6 625.3 L1137.6 625.3 L1137.6 621.4 L1138.6 621.4 L1138.6 617.3 L1139.6 617.3 L1139.6 612.4 L1140.6 612.4 L1140.6 608.3 L1141.6 608.3 L1141.6 603.6 L1142.6 603.6 L1142.6 600.7 L1143.6 600.7 L1143.6 595.8 L1144.6 595.8 L1144.6 592.5 L1145.6 592.5 L1145.6 587 L1146.6 587 L1146.6 584 L1147.6 584 L1147.6 578.7 L1148.6 578.7 L1148.6 575 L1149.6 575 L1149.6 522 L1149.6 518 L1021.6 518 Z"/>
<path d="M1149.4 522 L1149.4 492.6 L1150.4 492.6 L1150.4 472.9 L1151.4 472.9 L1151.4 459.6 L1152.4 459.6 L1152.4 446.7 L1153.4 446.7 L1153.4 441.7 L1154.4 441.7 L1154.4 435.1 L1155.4 435.1 L1155.4 430.5 L1156.4 430.5 L1156.4 422 L1157.4 422 L1157.4 417.6 L1158.4 417.6 L1158.4 405.4 L1159.4 405.4 L1159.4 395.2 L1160.4 395.2 L1160.4 397.7 L1161.4 397.7 L1161.4 394 L1162.4 394 L1162.4 392.2 L1163.4 392.2 L1163.4 387.3 L1164.4 387.3 L1164.4 380.4 L1165.4 380.4 L1165.4 375.7 L1166.4 375.7 L1166.4 374.2 L1167.4 374.2 L1167.4 354.2 L1168.4 354.2 L1168.4 347.3 L1169.4 347.3 L1169.4 351.1 L1170.4 351.1 L1170.4 351.6 L1171.4 351.6 L1171.4 340.3 L1172.4 340.3 L1172.4 349.4 L1173.4 349.4 L1173.4 337.3 L1174.4 337.3 L1174.4 338.1 L1175.4 338.1 L1175.4 321.3 L1176.4 321.3 L1176.4 321.8 L1177.4 321.8 L1177.4 320.4 L1178.4 320.4 L1178.4 311 L1179.4 311 L1179.4 313.1 L1180.4 313.1 L1180.4 312.2 L1181.4 312.2 L1181.4 309.5 L1182.4 309.5 L1182.4 311.9 L1183.4 311.9 L1183.4 308 L1184.4 308 L1184.4 307 L1185.4 307 L1185.4 306.5 L1186.4 306.5 L1186.4 306 L1187.4 306 L1187.4 303.2 L1188.4 303.2 L1188.4 304.3 L1189.4 304.3 L1189.4 302.2 L1190.4 302.2 L1190.4 309.6 L1191.4 309.6 L1191.4 310.6 L1192.4 310.6 L1192.4 304.1 L1193.4 304.1 L1193.4 313.1 L1194.4 313.1 L1194.4 316.2 L1195.4 316.2 L1195.4 318.3 L1196.4 318.3 L1196.4 319.9 L1197.4 319.9 L1197.4 322.1 L1198.4 322.1 L1198.4 322.1 L1199.4 322.1 L1199.4 324 L1200.4 324 L1200.4 325.8 L1201.4 325.8 L1201.4 324.7 L1202.4 324.7 L1202.4 328.1 L1203.4 328.1 L1203.4 326.4 L1204.4 326.4 L1204.4 330.4 L1205.4 330.4 L1205.4 339.2 L1206.4 339.2 L1206.4 332 L1207.4 332 L1207.4 345.1 L1208.4 345.1 L1208.4 343.7 L1209.4 343.7 L1209.4 346.3 L1210.4 346.3 L1210.4 351.3 L1211.4 351.3 L1211.4 354 L1212.4 354 L1212.4 358.9 L1213.4 358.9 L1213.4 361.2 L1214.4 361.2 L1214.4 362 L1215.4 362 L1215.4 363.5 L1216.4 363.5 L1216.4 369.7 L1217.4 369.7 L1217.4 364.3 L1218.4 364.3 L1218.4 367.8 L1219.4 367.8 L1219.4 360.7 L1220.4 360.7 L1220.4 371.6 L1221.4 371.6 L1221.4 369.3 L1222.4 369.3 L1222.4 373.5 L1223.4 373.5 L1223.4 373.4 L1224.4 373.4 L1224.4 374.5 L1225.4 374.5 L1225.4 376.8 L1226.4 376.8 L1226.4 376.5 L1227.4 376.5 L1227.4 378.6 L1228.4 378.6 L1228.4 381.9 L1229.4 381.9 L1229.4 381.9 L1230.4 381.9 L1230.4 379.9 L1231.4 379.9 L1231.4 382.7 L1232.4 382.7 L1232.4 380 L1233.4 380 L1233.4 384.4 L1234.4 384.4 L1234.4 382.6 L1235.4 382.6 L1235.4 387 L1236.4 387 L1236.4 386 L1237.4 386 L1237.4 384.7 L1238.4 384.7 L1238.4 383.1 L1239.4 383.1 L1239.4 382.6 L1240.4 382.6 L1240.4 376.3 L1241.4 376.3 L1241.4 387 L1242.4 387 L1242.4 387.8 L1243.4 387.8 L1243.4 388.6 L1244.4 388.6 L1244.4 387.5 L1245.4 387.5 L1245.4 386.4 L1246.4 386.4 L1246.4 381.1 L1247.4 381.1 L1247.4 380 L1248.4 380 L1248.4 387.5 L1249.4 387.5 L1249.4 388.5 L1250.4 388.5 L1250.4 390.2 L1251.4 390.2 L1251.4 387.6 L1252.4 387.6 L1252.4 391.7 L1253.4 391.7 L1253.4 392 L1254.4 392 L1254.4 394.6 L1255.4 394.6 L1255.4 395.8 L1256.4 395.8 L1256.4 394.2 L1257.4 394.2 L1257.4 397.2 L1258.4 397.2 L1258.4 397.7 L1259.4 397.7 L1259.4 401.2 L1260.4 401.2 L1260.4 404.6 L1261.4 404.6 L1261.4 408.1 L1262.4 408.1 L1262.4 411.7 L1263.4 411.7 L1263.4 415.7 L1264.4 415.7 L1264.4 418.8 L1265.4 418.8 L1265.4 422.7 L1266.4 422.7 L1266.4 426.6 L1267.4 426.6 L1267.4 431.2 L1268.4 431.2 L1268.4 434.4 L1269.4 434.4 L1269.4 439.7 L1270.4 439.7 L1270.4 442.9 L1271.4 442.9 L1271.4 447.5 L1272.4 447.5 L1272.4 452 L1273.4 452 L1273.4 456 L1274.4 456 L1274.4 460.2 L1275.4 460.2 L1275.4 466.4 L1276.4 466.4 L1276.4 470.1 L1277.4 470.1 L1277.4 522 L1277.4 522.6 L1149.4 522.6 Z"/>
<path d="M1277.2 522 L1277.2 550.4 L1278.2 550.4 L1278.2 568.4 L1279.2 568.4 L1279.2 586.8 L1280.2 586.8 L1280.2 597.6 L1281.2 597.6 L1281.2 602.8 L1282.2 602.8 L1282.2 618.1 L1283.2 618.1 L1283.2 616.2 L1284.2 616.2 L1284.2 630.8 L1285.2 630.8 L1285.2 631.3 L1286.2 631.3 L1286.2 633.5 L1287.2 633.5 L1287.2 641.6 L1288.2 641.6 L1288.2 643.5 L1289.2 643.5 L1289.2 647.3 L1290.2 647.3 L1290.2 652.2 L1291.2 652.2 L1291.2 655.7 L1292.2 655.7 L1292.2 659.3 L1293.2 659.3 L1293.2 665.6 L1294.2 665.6 L1294.2 669.5 L1295.2 669.5 L1295.2 690.7 L1296.2 690.7 L1296.2 698.8 L1297.2 698.8 L1297.2 690.6 L1298.2 690.6 L1298.2 692.9 L1299.2 692.9 L1299.2 695.5 L1300.2 695.5 L1300.2 695.6 L1301.2 695.6 L1301.2 698.6 L1302.2 698.6 L1302.2 704.9 L1303.2 704.9 L1303.2 722.1 L1304.2 722.1 L1304.2 722.8 L1305.2 722.8 L1305.2 725.5 L1306.2 725.5 L1306.2 728.4 L1307.2 728.4 L1307.2 728 L1308.2 728 L1308.2 741 L1309.2 741 L1309.2 736.1 L1310.2 736.1 L1310.2 735.4 L1311.2 735.4 L1311.2 744.6 L1312.2 744.6 L1312.2 738.7 L1313.2 738.7 L1313.2 738.9 L1314.2 738.9 L1314.2 740.5 L1315.2 740.5 L1315.2 742.1 L1316.2 742.1 L1316.2 739.8 L1317.2 739.8 L1317.2 741.6 L1318.2 741.6 L1318.2 735.8 L1319.2 735.8 L1319.2 736.8 L1320.2 736.8 L1320.2 731 L1321.2 731 L1321.2 729.1 L1322.2 729.1 L1322.2 726.1 L1323.2 726.1 L1323.2 724.8 L1324.2 724.8 L1324.2 723.9 L1325.2 723.9 L1325.2 723.1 L1326.2 723.1 L1326.2 721.8 L1327.2 721.8 L1327.2 720.6 L1328.2 720.6 L1328.2 719.1 L1329.2 719.1 L1329.2 718.6 L1330.2 718.6 L1330.2 714.3 L1331.2 714.3 L1331.2 717.4 L1332.2 717.4 L1332.2 711 L1333.2 711 L1333.2 705.9 L1334.2 705.9 L1334.2 700.7 L1335.2 700.7 L1335.2 698.3 L1336.2 698.3 L1336.2 696.4 L1337.2 696.4 L1337.2 694.4 L1338.2 694.4 L1338.2 695.2 L1339.2 695.2 L1339.2 691 L1340.2 691 L1340.2 687.7 L1341.2 687.7 L1341.2 683.3 L1341.8 683.3 L1341.8 684.7 L1341.8 684.7 L1341.8 679.1 L1341.8 679.1 L1341.8 676.9 L1341.8 676.9 L1341.8 677.8 L1341.8 677.8 L1341.8 673.3 L1341.8 673.3 L1341.8 674.3 L1341.8 674.3 L1341.8 675.7 L1341.8 675.7 L1341.8 669.9 L1341.8 669.9 L1341.8 676.3 L1341.8 676.3 L1341.8 669.6 L1341.8 669.6 L1341.8 678 L1341.8 678 L1341.8 667.4 L1341.8 667.4 L1341.8 667.6 L1341.8 667.6 L1341.8 663.4 L1341.8 663.4 L1341.8 664.2 L1341.8 664.2 L1341.8 662.8 L1341.8 662.8 L1341.8 661.3 L1341.8 661.3 L1341.8 666.8 L1341.8 666.8 L1341.8 661.6 L1341.8 661.6 L1341.8 659.7 L1341.8 659.7 L1341.8 660 L1341.8 660 L1341.8 661 L1341.8 661 L1341.8 659.1 L1341.8 659.1 L1341.8 656.1 L1341.8 656.1 L1341.8 659.3 L1341.8 659.3 L1341.8 658.1 L1341.8 658.1 L1341.8 660 L1341.8 660 L1341.8 656.5 L1341.8 656.5 L1341.8 654.5 L1341.8 654.5 L1341.8 660.9 L1341.8 660.9 L1341.8 658.5 L1341.8 658.5 L1341.8 656.3 L1341.8 656.3 L1341.8 664.9 L1341.8 664.9 L1341.8 659.4 L1341.8 659.4 L1341.8 655.2 L1341.8 655.2 L1341.8 654.2 L1341.8 654.2 L1341.8 654.3 L1341.8 654.3 L1341.8 655.7 L1341.8 655.7 L1341.8 650.8 L1341.8 650.8 L1341.8 654.2 L1341.8 654.2 L1341.8 651.6 L1341.8 651.6 L1341.8 650.5 L1341.8 650.5 L1341.8 648.1 L1341.8 648.1 L1341.8 648 L1341.8 648 L1341.8 645.8 L1341.8 645.8 L1341.8 643.2 L1341.8 643.2 L1341.8 638.5 L1341.8 638.5 L1341.8 636 L1341.8 636 L1341.8 631.3 L1341.8 631.3 L1341.8 628.8 L1341.8 628.8 L1341.8 625.1 L1341.8 625.1 L1341.8 621 L1341.8 621 L1341.8 617 L1341.8 617 L1341.8 613.7 L1341.8 613.7 L1341.8 609.7 L1341.8 609.7 L1341.8 604.9 L1341.8 604.9 L1341.8 600.7 L1341.8 600.7 L1341.8 596.9 L1341.8 596.9 L1341.8 591.8 L1341.8 591.8 L1341.8 587 L1341.8 587 L1341.8 582.4 L1341.8 582.4 L1341.8 579.1 L1341.8 579.1 L1341.8 574.1 L1341.8 574.1 L1341.8 522 L1341.8 518 L1277.2 518 Z"/>
</g>
<path fill="#ff0080" fill-opacity="0.45" d="M64.5 706.3 L65.5 707 L66.5 707.6 L67.5 707.8 L68.5 707.7 L69.5 707.7 L70.5 707.7 L71.5 707.7 L72.5 707.7 L73.5 707.7 L74.5 707.8 L75.5 707.7 L76.5 707.1 L77.5 706.4 L78.5 705.7 L79.5 704.8 L80.5 703.8 L81.5 702.8 L82.5 701.6 L83.5 700.4 L84.5 699.1 L85.5 697.7 L86.5 696.2 L87.5 694.6 L88.5 692.9 L89.5 691.1 L90.5 689.2 L91.5 687.3 L92.5 685.3 L93.5 683.2 L94.5 681 L95.5 678.7 L96.5 676.3 L97.5 673.9 L98.5 671.3 L99.5 668.7 L100.5 666 L101.5 663.2 L102.5 660.3 L103.5 657.4 L104.5 654.3 L105.5 651.2 L106.5 648 L107.5 644.7 L108.5 641.4 L109.5 637.9 L110.5 634.4 L111.5 630.8 L112.5 627.1 L113.5 623.3 L114.5 619.5 L115.5 615.6 L116.5 611.6 L117.5 607.5 L118.5 603.4 L119.5 599.2 L120.5 594.9 L121.5 590.6 L122.5 586.2 L123.5 581.7 L124.5 577.1 L125.5 572.6 L126.5 567.9 L127.5 563.2 L128.5 558.5 L129.5 553.7 L130.5 548.8 L131.5 543.9 L132.5 539 L133.5 534.1 L134.5 529.1 L135.5 524.1 L136.5 519.1 L137.5 514 L138.5 509 L139.5 503.9 L140.5 498.9 L141.5 493.8 L142.5 488.8 L143.5 483.7 L144.5 478.7 L145.5 473.7 L146.5 468.7 L147.5 463.7 L148.5 458.8 L149.5 453.9 L150.5 449.1 L151.5 444.3 L152.5 439.5 L153.5 434.9 L154.5 430.2 L155.5 425.7 L156.5 421.2 L157.5 416.7 L158.5 412.4 L159.5 408.1 L160.5 404 L161.5 399.9 L162.5 395.9 L163.5 392 L164.5 388.2 L165.5 384.5 L166.5 380.9 L167.5 377.4 L168.5 374 L169.5 370.7 L170.5 367.6 L171.5 364.5 L172.5 361.6 L173.5 358.8 L174.5 356.1 L175.5 353.5 L176.5 351 L177.5 348.7 L178.5 346.5 L179.5 344.4 L180.5 342.4 L181.5 340.5 L182.5 338.8 L183.5 337.2 L184.5 335.7 L185.5 334.3 L186.5 333 L187.5 331.8 L188.5 330.8 L189.5 329.9 L190.5 329 L191.5 328.3 L192.5 327.7 L193.5 326.8 L194.5 326 L195.5 325.4 L196.5 325 L197.5 324.8 L198.5 324.7 L199.5 324.7 L200.5 324.8 L201.5 325.1 L202.5 325.6 L203.5 326.3 L204.5 327.1 L205.5 327.8 L206.5 328.4 L207.5 329.2 L208.5 330 L209.5 330.9 L210.5 331.9 L211.5 333 L212.5 334.2 L213.5 335.4 L214.5 336.8 L215.5 338.3 L216.5 339.8 L217.5 341.4 L218.5 343.2 L219.5 345 L220.5 346.9 L221.5 348.8 L222.5 350.9 L223.5 353.1 L224.5 355.3 L225.5 357.7 L226.5 360.1 L227.5 362.6 L228.5 365.2 L229.5 367.8 L230.5 370.6 L231.5 373.4 L232.5 376.3 L233.5 379.3 L234.5 382.4 L235.5 385.5 L236.5 388.8 L237.5 392.1 L238.5 395.5 L239.5 398.9 L240.5 402.5 L241.5 406.1 L242.5 409.8 L243.5 413.6 L244.5 417.4 L245.5 421.3 L246.5 425.3 L247.5 429.3 L248.5 433.4 L249.5 437.6 L250.5 441.9 L251.5 446.2 L252.5 450.6 L253.5 455 L254.5 459.5 L255.5 464 L256.5 468.6 L257.5 473.3 L258.5 478 L259.5 482.8 L260.5 487.6 L261.5 492.4 L262.5 497.3 L263.5 502.2 L264.5 507.1 L265.5 512.1 L266.5 517.1 L267.5 522.1 L268.5 527.1 L269.5 532.2 L270.5 537.2 L271.5 542.3 L272.5 547.3 L273.5 552.4 L274.5 557.4 L275.5 562.4 L276.5 567.4 L277.5 572.4 L278.5 577.3 L279.5 582.2 L280.5 587.1 L281.5 591.9 L282.5 596.7 L283.5 601.4 L284.5 606 L285.5 610.6 L286.5 615.1 L287.5 619.5 L288.5 623.8 L289.5 628.1 L290.5 632.3 L291.5 636.3 L292.5 640.3 L293.5 644.2 L294.5 648 L295.5 651.7 L296.5 655.2 L297.5 658.7 L298.5 662.1 L299.5 665.3 L300.5 668.4 L301.5 671.5 L302.5 674.4 L303.5 677.1 L304.5 679.8 L305.5 682.4 L306.5 684.8 L307.5 687.1 L308.5 689.3 L309.5 691.4 L310.5 693.4 L311.5 695.2 L312.5 696.9 L313.5 698.6 L314.5 700.1 L315.5 701.4 L316.5 702.7 L317.5 703.8 L318.5 704.8 L319.5 705.8 L320.5 706.6 L321.5 707.3 L322.5 707.8 L323.5 707.8 L324.5 707.7 L325.5 707.7 L326.5 707.7 L327.5 707.7 L328.5 707.7 L329.5 707.8 L330.5 707.8 L331.5 707.5 L332.5 706.9 L333.5 706.1 L334.5 705.3 L335.5 704.4 L336.5 703.4 L337.5 702.3 L338.5 701.2 L339.5 699.9 L340.5 698.5 L341.5 697.1 L342.5 695.5 L343.5 693.9 L344.5 692.2 L345.5 690.4 L346.5 688.5 L347.5 686.5 L348.5 684.4 L349.5 682.3 L350.5 680.1 L351.5 677.7 L352.5 675.3 L353.5 672.8 L354.5 670.3 L355.5 667.6 L356.5 664.9 L357.5 662.1 L358.5 659.2 L359.5 656.2 L360.5 653.1 L361.5 650 L362.5 646.7 L363.5 643.4 L364.5 640 L365.5 636.5 L366.5 633 L367.5 629.3 L368.5 625.6 L369.5 621.8 L370.5 617.9 L371.5 614 L372.5 610 L373.5 605.9 L374.5 601.7 L375.5 597.5 L376.5 593.2 L377.5 588.8 L378.5 584.4 L379.5 579.9 L380.5 575.3 L381.5 570.7 L382.5 566 L383.5 561.3 L384.5 556.5 L385.5 551.7 L386.5 546.9 L387.5 542 L388.5 537.1 L389.5 532.1 L390.5 527.1 L391.5 522.1 L392.5 517.1 L393.5 512 L394.5 507 L395.5 501.9 L396.5 496.9 L397.5 491.8 L398.5 486.8 L399.5 481.7 L400.5 476.7 L401.5 471.7 L402.5 466.7 L403.5 461.8 L404.5 456.9 L405.5 452 L406.5 447.2 L407.5 442.4 L408.5 437.7 L409.5 433 L410.5 428.4 L411.5 423.9 L412.5 419.4 L413.5 415 L414.5 410.7 L415.5 406.5 L416.5 402.3 L417.5 398.3 L418.5 394.3 L419.5 390.4 L420.5 386.7 L421.5 383 L422.5 379.5 L423.5 376 L424.5 372.7 L425.5 369.4 L426.5 366.3 L427.5 363.3 L428.5 360.4 L429.5 357.7 L430.5 355 L431.5 352.5 L432.5 350.1 L433.5 347.8 L434.5 345.6 L435.5 343.6 L436.5 341.6 L437.5 339.8 L438.5 338.2 L439.5 336.6 L440.5 335.1 L441.5 333.8 L442.5 332.5 L443.5 331.4 L444.5 330.4 L445.5 329.5 L446.5 328.7 L447.5 328 L448.5 327.4 L449.5 326.5 L450.5 325.8 L451.5 325.2 L452.5 324.9 L453.5 324.7 L454.5 324.7 L455.5 324.7 L456.5 324.9 L457.5 325.3 L458.5 325.8 L459.5 326.6 L460.5 327.5 L461.5 328.1 L462.5 328.7 L463.5 329.5 L464.5 330.3 L465.5 331.3 L466.5 332.3 L467.5 333.4 L468.5 334.7 L469.5 336 L470.5 337.4 L471.5 338.9 L472.5 340.4 L473.5 342.1 L474.5 343.9 L475.5 345.7 L476.5 347.6 L477.5 349.7 L478.5 351.8 L479.5 354 L480.5 356.2 L481.5 358.6 L482.5 361.1 L483.5 363.6 L484.5 366.2 L485.5 368.9 L486.5 371.7 L487.5 374.6 L488.5 377.5 L489.5 380.5 L490.5 383.6 L491.5 386.8 L492.5 390.1 L493.5 393.4 L494.5 396.9 L495.5 400.3 L496.5 403.9 L497.5 407.6 L498.5 411.3 L499.5 415.1 L500.5 418.9 L501.5 422.9 L502.5 426.9 L503.5 431 L504.5 435.1 L505.5 439.3 L506.5 443.6 L507.5 447.9 L508.5 452.3 L509.5 456.8 L510.5 461.3 L511.5 465.9 L512.5 470.5 L513.5 475.2 L514.5 479.9 L515.5 484.7 L516.5 489.5 L517.5 494.3 L518.5 499.2 L519.5 504.2 L520.5 509.1 L521.5 514.1 L522.5 519.1 L523.5 524.1 L524.5 529.1 L525.5 534.2 L526.5 539.3 L527.5 544.3 L528.5 549.4 L529.5 554.4 L530.5 559.4 L531.5 564.4 L532.5 569.4 L533.5 574.4 L534.5 579.3 L535.5 584.2 L536.5 589 L537.5 593.8 L538.5 598.5 L539.5 603.2 L540.5 607.8 L541.5 612.4 L542.5 616.8 L543.5 621.2 L544.5 625.5 L545.5 629.8 L546.5 633.9 L547.5 637.9 L548.5 641.9 L549.5 645.7 L550.5 649.5 L551.5 653.1 L552.5 656.6 L553.5 660.1 L554.5 663.4 L555.5 666.6 L556.5 669.7 L557.5 672.6 L558.5 675.5 L559.5 678.2 L560.5 680.8 L561.5 683.3 L562.5 685.7 L563.5 688 L564.5 690.2 L565.5 692.2 L566.5 694.1 L567.5 695.9 L568.5 697.6 L569.5 699.2 L570.5 700.6 L571.5 701.9 L572.5 703.1 L573.5 704.2 L574.5 705.2 L575.5 706.1 L576.5 706.9 L577.5 707.5 L578.5 707.8 L579.5 707.7 L580.5 707.7 L581.5 707.7 L582.5 707.7 L583.5 707.7 L584.5 707.7 L585.5 707.8 L586.5 707.8 L587.5 707.2 L588.5 706.6 L589.5 705.8 L590.5 705 L591.5 704 L592.5 703 L593.5 701.9 L594.5 700.7 L595.5 699.4 L596.5 698 L597.5 696.5 L598.5 694.9 L599.5 693.2 L600.5 691.5 L601.5 689.6 L602.5 687.7 L603.5 685.7 L604.5 683.6 L605.5 681.4 L606.5 679.1 L607.5 676.8 L608.5 674.4 L609.5 671.8 L610.5 669.2 L611.5 666.5 L612.5 663.8 L613.5 660.9 L614.5 658 L615.5 655 L616.5 651.9 L617.5 648.7 L618.5 645.4 L619.5 642 L620.5 638.6 L621.5 635.1 L622.5 631.5 L623.5 627.8 L624.5 624.1 L625.5 620.3 L626.5 616.4 L627.5 612.4 L628.5 608.3 L629.5 604.2 L630.5 600 L631.5 595.8 L632.5 591.4 L633.5 587 L634.5 582.6 L635.5 578.1 L636.5 573.5 L637.5 568.8 L638.5 564.2 L639.5 559.4 L640.5 554.6 L641.5 549.8 L642.5 544.9 L643.5 540 L644.5 535.1 L645.5 530.1 L646.5 525.1 L647.5 520.1 L648.5 515.1 L649.5 510 L650.5 505 L651.5 499.9 L652.5 494.8 L653.5 489.8 L654.5 484.7 L655.5 479.7 L656.5 474.7 L657.5 469.7 L658.5 464.7 L659.5 459.8 L660.5 454.9 L661.5 450.1 L662.5 445.2 L663.5 440.5 L664.5 435.8 L665.5 431.1 L666.5 426.6 L667.5 422.1 L668.5 417.6 L669.5 413.3 L670.5 409 L671.5 404.8 L672.5 400.7 L673.5 396.7 L674.5 392.7 L675.5 388.9 L676.5 385.2 L677.5 381.6 L678.5 378.1 L679.5 374.7 L680.5 371.4 L681.5 368.2 L682.5 365.1 L683.5 362.2 L684.5 359.3 L685.5 356.6 L686.5 354 L687.5 351.5 L688.5 349.2 L689.5 346.9 L690.5 344.8 L691.5 342.8 L692.5 340.9 L693.5 339.2 L694.5 337.5 L695.5 336 L696.5 334.6 L697.5 333.3 L698.5 332.1 L699.5 331 L700.5 330 L701.5 329.2 L702.5 328.4 L703.5 327.8 L704.5 327 L705.5 326.2 L706.5 325.5 L707.5 325.1 L708.5 324.8 L709.5 324.7 L710.5 324.7 L711.5 324.8 L712.5 325.1 L713.5 325.5 L714.5 326.1 L715.5 326.9 L716.5 327.7 L717.5 328.3 L718.5 329 L719.5 329.8 L720.5 330.7 L721.5 331.7 L722.5 332.7 L723.5 333.9 L724.5 335.2 L725.5 336.5 L726.5 338 L727.5 339.5 L728.5 341.1 L729.5 342.8 L730.5 344.6 L731.5 346.5 L732.5 348.4 L733.5 350.5 L734.5 352.6 L735.5 354.9 L736.5 357.2 L737.5 359.6 L738.5 362.1 L739.5 364.6 L740.5 367.3 L741.5 370 L742.5 372.8 L743.5 375.7 L744.5 378.7 L745.5 381.8 L746.5 384.9 L747.5 388.1 L748.5 391.4 L749.5 394.8 L750.5 398.2 L751.5 401.8 L752.5 405.4 L753.5 409 L754.5 412.8 L755.5 416.6 L756.5 420.5 L757.5 424.5 L758.5 428.5 L759.5 432.6 L760.5 436.8 L761.5 441 L762.5 445.3 L763.5 449.7 L764.5 454.1 L765.5 458.6 L766.5 463.1 L767.5 467.7 L768.5 472.4 L769.5 477.1 L770.5 481.8 L771.5 486.6 L772.5 491.4 L773.5 496.3 L774.5 501.2 L775.5 506.1 L776.5 511.1 L777.5 516.1 L778.5 521.1 L779.5 526.1 L780.5 531.2 L781.5 536.2 L782.5 541.3 L783.5 546.3 L784.5 551.4 L785.5 556.4 L786.5 561.4 L787.5 566.4 L788.5 571.4 L789.5 576.4 L790.5 581.3 L791.5 586.1 L792.5 590.9 L793.5 595.7 L794.5 600.4 L795.5 605.1 L796.5 609.7 L797.5 614.2 L798.5 618.6 L799.5 623 L800.5 627.2 L801.5 631.4 L802.5 635.5 L803.5 639.5 L804.5 643.4 L805.5 647.2 L806.5 650.9 L807.5 654.5 L808.5 658 L809.5 661.4 L810.5 664.7 L811.5 667.8 L812.5 670.9 L813.5 673.8 L814.5 676.6 L815.5 679.3 L816.5 681.9 L817.5 684.3 L818.5 686.7 L819.5 688.9 L820.5 691 L821.5 693 L822.5 694.8 L823.5 696.6 L824.5 698.2 L825.5 699.8 L826.5 701.2 L827.5 702.4 L828.5 703.6 L829.5 704.7 L830.5 705.6 L831.5 706.4 L832.5 707.1 L833.5 707.7 L834.5 707.8 L835.5 707.7 L836.5 707.7 L837.5 707.7 L838.5 707.7 L839.5 707.7 L840.5 707.7 L841.5 707.8 L842.5 707.6 L843.5 707 L844.5 706.3 L845.5 705.5 L846.5 704.6 L847.5 703.6 L848.5 702.6 L849.5 701.4 L850.5 700.1 L851.5 698.8 L852.5 697.4 L853.5 695.8 L854.5 694.2 L855.5 692.5 L856.5 690.7 L857.5 688.9 L858.5 686.9 L859.5 684.9 L860.5 682.7 L861.5 680.5 L862.5 678.2 L863.5 675.8 L864.5 673.4 L865.5 670.8 L866.5 668.2 L867.5 665.4 L868.5 662.6 L869.5 659.8 L870.5 656.8 L871.5 653.7 L872.5 650.6 L873.5 647.4 L874.5 644.1 L875.5 640.7 L876.5 637.2 L877.5 633.7 L878.5 630.1 L879.5 626.4 L880.5 622.6 L881.5 618.7 L882.5 614.8 L883.5 610.8 L884.5 606.7 L885.5 602.6 L886.5 598.3 L887.5 594 L888.5 589.7 L889.5 585.3 L890.5 580.8 L891.5 576.2 L892.5 571.6 L893.5 567 L894.5 562.3 L895.5 557.5 L896.5 552.7 L897.5 547.9 L898.5 543 L899.5 538 L900.5 533.1 L901.5 528.1 L902.5 523.1 L903.5 518.1 L904.5 513 L905.5 508 L906.5 502.9 L907.5 497.9 L908.5 492.8 L909.5 487.8 L910.5 482.7 L911.5 477.7 L912.5 472.7 L913.5 467.7 L914.5 462.8 L915.5 457.8 L916.5 453 L917.5 448.1 L918.5 443.3 L919.5 438.6 L920.5 433.9 L921.5 429.3 L922.5 424.8 L923.5 420.3 L924.5 415.9 L925.5 411.5 L926.5 407.3 L927.5 403.1 L928.5 399.1 L929.5 395.1 L930.5 391.2 L931.5 387.4 L932.5 383.7 L933.5 380.2 L934.5 376.7 L935.5 373.3 L936.5 370.1 L937.5 366.9 L938.5 363.9 L939.5 361 L940.5 358.2 L941.5 355.5 L942.5 353 L943.5 350.6 L944.5 348.2 L945.5 346 L946.5 344 L947.5 342 L948.5 340.2 L949.5 338.5 L950.5 336.9 L951.5 335.4 L952.5 334 L953.5 332.8 L954.5 331.6 L955.5 330.6 L956.5 329.7 L957.5 328.9 L958.5 328.2 L959.5 327.6 L960.5 326.6 L961.5 325.9 L962.5 325.3 L963.5 324.9 L964.5 324.7 L965.5 324.7 L966.5 324.7 L967.5 324.9 L968.5 325.2 L969.5 325.7 L970.5 326.4 L971.5 327.3 L972.5 327.9 L973.5 328.6 L974.5 329.3 L975.5 330.2 L976.5 331.1 L977.5 332.1 L978.5 333.2 L979.5 334.4 L980.5 335.7 L981.5 337.1 L982.5 338.6 L983.5 340.1 L984.5 341.8 L985.5 343.5 L986.5 345.3 L987.5 347.2 L988.5 349.3 L989.5 351.3 L990.5 353.5 L991.5 355.8 L992.5 358.1 L993.5 360.6 L994.5 363.1 L995.5 365.7 L996.5 368.4 L997.5 371.1 L998.5 374 L999.5 376.9 L1000.5 379.9 L1001.5 383 L1002.5 386.2 L1003.5 389.4 L1004.5 392.8 L1005.5 396.2 L1006.5 399.6 L1007.5 403.2 L1008.5 406.8 L1009.5 410.5 L1010.5 414.3 L1011.5 418.2 L1012.5 422.1 L1013.5 426.1 L1014.5 430.1 L1015.5 434.3 L1016.5 438.5 L1017.5 442.7 L1018.5 447.1 L1019.5 451.4 L1020.5 455.9 L1021.5 460.4 L1022.5 465 L1023.5 469.6 L1024.5 474.2 L1025.5 479 L1026.5 483.7 L1027.5 488.5 L1028.5 493.4 L1029.5 498.2 L1030.5 503.2 L1031.5 508.1 L1032.5 513.1 L1033.5 518.1 L1034.5 523.1 L1035.5 528.1 L1036.5 533.2 L1037.5 538.2 L1038.5 543.3 L1039.5 548.3 L1040.5 553.4 L1041.5 558.4 L1042.5 563.4 L1043.5 568.4 L1044.5 573.4 L1045.5 578.3 L1046.5 583.2 L1047.5 588.1 L1048.5 592.9 L1049.5 597.6 L1050.5 602.3 L1051.5 606.9 L1052.5 611.5 L1053.5 616 L1054.5 620.4 L1055.5 624.7 L1056.5 628.9 L1057.5 633.1 L1058.5 637.1 L1059.5 641.1 L1060.5 645 L1061.5 648.7 L1062.5 652.4 L1063.5 655.9 L1064.5 659.4 L1065.5 662.7 L1066.5 665.9 L1067.5 669.1 L1068.5 672 L1069.5 674.9 L1070.5 677.7 L1071.5 680.3 L1072.5 682.9 L1073.5 685.3 L1074.5 687.6 L1075.5 689.7 L1076.5 691.8 L1077.5 693.7 L1078.5 695.6 L1079.5 697.3 L1080.5 698.9 L1081.5 700.3 L1082.5 701.7 L1083.5 702.9 L1084.5 704 L1085.5 705 L1086.5 705.9 L1087.5 706.7 L1088.5 707.4 L1089.5 707.8 L1090.5 707.8 L1091.5 707.7 L1092.5 707.7 L1093.5 707.7 L1094.5 707.7 L1095.5 707.7 L1096.5 707.8 L1097.5 707.8 L1098.5 707.4 L1099.5 706.7 L1100.5 706 L1101.5 705.2 L1102.5 704.2 L1103.5 703.2 L1104.5 702.1 L1105.5 700.9 L1106.5 699.6 L1107.5 698.2 L1108.5 696.8 L1109.5 695.2 L1110.5 693.6 L1111.5 691.8 L1112.5 690 L1113.5 688.1 L1114.5 686.1 L1115.5 684 L1116.5 681.8 L1117.5 679.6 L1118.5 677.3 L1119.5 674.8 L1120.5 672.3 L1121.5 669.8 L1122.5 667.1 L1123.5 664.3 L1124.5 661.5 L1125.5 658.6 L1126.5 655.6 L1127.5 652.5 L1128.5 649.3 L1129.5 646.1 L1130.5 642.7 L1131.5 639.3 L1132.5 635.8 L1133.5 632.2 L1134.5 628.6 L1135.5 624.9 L1136.5 621 L1137.5 617.2 L1138.5 613.2 L1139.5 609.2 L1140.5 605.1 L1141.5 600.9 L1142.5 596.6 L1143.5 592.3 L1144.5 587.9 L1145.5 583.5 L1146.5 579 L1147.5 574.4 L1148.5 569.8 L1149.5 565.1 L1150.5 560.4 L1151.5 555.6 L1152.5 550.8 L1153.5 545.9 L1154.5 541 L1155.5 536.1 L1156.5 531.1 L1157.5 526.1 L1158.5 521.1 L1159.5 516.1 L1160.5 511 L1161.5 506 L1162.5 500.9 L1163.5 495.8 L1164.5 490.8 L1165.5 485.7 L1166.5 480.7 L1167.5 475.7 L1168.5 470.7 L1169.5 465.7 L1170.5 460.8 L1171.5 455.9 L1172.5 451 L1173.5 446.2 L1174.5 441.4 L1175.5 436.7 L1176.5 432.1 L1177.5 427.5 L1178.5 423 L1179.5 418.5 L1180.5 414.1 L1181.5 409.8 L1182.5 405.6 L1183.5 401.5 L1184.5 397.5 L1185.5 393.5 L1186.5 389.7 L1187.5 385.9 L1188.5 382.3 L1189.5 378.8 L1190.5 375.3 L1191.5 372 L1192.5 368.8 L1193.5 365.7 L1194.5 362.7 L1195.5 359.9 L1196.5 357.1 L1197.5 354.5 L1198.5 352 L1199.5 349.6 L1200.5 347.3 L1201.5 345.2 L1202.5 343.2 L1203.5 341.3 L1204.5 339.5 L1205.5 337.8 L1206.5 336.3 L1207.5 334.8 L1208.5 333.5 L1209.5 332.3 L1210.5 331.2 L1211.5 330.2 L1212.5 329.3 L1213.5 328.6 L1214.5 327.9 L1215.5 327.2 L1216.5 326.3 L1217.5 325.6 L1218.5 325.2 L1219.5 324.8 L1220.5 324.7 L1221.5 324.7 L1222.5 324.8 L1223.5 325 L1224.5 325.4 L1225.5 326 L1226.5 326.7 L1227.5 327.6 L1228.5 328.2 L1229.5 328.9 L1230.5 329.6 L1231.5 330.5 L1232.5 331.5 L1233.5 332.5 L1234.5 333.7 L1235.5 334.9 L1236.5 336.2 L1237.5 337.7 L1238.5 339.2 L1239.5 340.8 L1240.5 342.5 L1241.5 344.2 L1242.5 346.1 L1243.5 348 L1244.5 350.1 L1245.5 352.2 L1246.5 354.4 L1247.5 356.7 L1248.5 359.1 L1249.5 361.6 L1250.5 364.1 L1251.5 366.7 L1252.5 369.5 L1253.5 372.3 L1254.5 375.1 L1255.5 378.1 L1256.5 381.2 L1257.5 384.3 L1258.5 387.5 L1259.5 390.8 L1260.5 394.1 L1261.5 397.5 L1262.5 401.1 L1263.5 404.6 L1264.5 408.3 L1265.5 412 L1266.5 415.8 L1267.5 419.7 L1268.5 423.7 L1269.5 427.7 L1270.5 431.8 L1271.5 435.9 L1272.5 440.2 L1273.5 444.5 L1274.5 448.8 L1275.5 453.2 L1276.5 457.7 L1277.5 462.2 L1278.5 466.8 L1279.5 471.4 L1280.5 476.1 L1281.5 480.9 L1282.5 485.6 L1283.5 490.5 L1284.5 495.3 L1285.5 500.2 L1286.5 505.1 L1287.5 510.1 L1288.5 515.1 L1289.5 520.1 L1290.5 525.1 L1291.5 530.2 L1292.5 535.2 L1293.5 540.3 L1294.5 545.3 L1295.5 550.4 L1296.5 555.4 L1297.5 560.4 L1298.5 565.4 L1299.5 570.4 L1300.5 575.4 L1301.5 580.3 L1302.5 585.2 L1303.5 590 L1304.5 594.8 L1305.5 599.5 L1306.5 604.1 L1307.5 608.7 L1308.5 613.3 L1309.5 617.7 L1310.5 622.1 L1311.5 626.4 L1312.5 630.6 L1313.5 634.7 L1314.5 638.7 L1315.5 642.7 L1316.5 646.5 L1317.5 650.2 L1318.5 653.8 L1319.5 657.3 L1320.5 660.7 L1321.5 664 L1322.5 667.2 L1323.5 670.3 L1324.5 673.2 L1325.5 676 L1326.5 678.8 L1327.5 681.4 L1328.5 683.8 L1329.5 686.2 L1330.5 688.4 L1331.5 690.6 L1332.5 692.6 L1333.5 694.5 L1334.5 696.3 L1335.5 697.9 L1336.5 699.5 L1337.5 700.9 L1338.5 702.2 L1339.5 703.4 L1340.5 704.4 L1341.5 705.4 L1341.8 715.7 L1340.8 715 L1339.8 714.2 L1338.8 713.3 L1337.8 712.2 L1336.8 711.1 L1335.8 709.8 L1334.8 708.4 L1333.8 706.9 L1332.8 705.3 L1331.8 703.5 L1330.8 701.7 L1329.8 699.7 L1328.8 697.6 L1327.8 695.4 L1326.8 693.1 L1325.8 690.6 L1324.8 688.1 L1323.8 685.4 L1322.8 682.6 L1321.8 679.6 L1320.8 676.6 L1319.8 673.4 L1318.8 670.2 L1317.8 666.8 L1316.8 663.3 L1315.8 659.7 L1314.8 656 L1313.8 652.2 L1312.8 648.3 L1311.8 644.3 L1310.8 640.2 L1309.8 636.1 L1308.8 631.8 L1307.8 627.5 L1306.8 623.1 L1305.8 618.6 L1304.8 614 L1303.8 609.4 L1302.8 604.7 L1301.8 600 L1300.8 595.2 L1299.8 590.3 L1298.8 585.4 L1297.8 580.5 L1296.8 575.5 L1295.8 570.6 L1294.8 565.6 L1293.8 560.5 L1292.8 555.5 L1291.8 550.4 L1290.8 545.4 L1289.8 540.3 L1288.8 535.3 L1287.8 530.2 L1286.8 525.2 L1285.8 520.1 L1284.8 515.1 L1283.8 510.2 L1282.8 505.2 L1281.8 500.3 L1280.8 495.4 L1279.8 490.6 L1278.8 485.8 L1277.8 481 L1276.8 476.3 L1275.8 471.7 L1274.8 467.1 L1273.8 462.5 L1272.8 458.1 L1271.8 453.7 L1270.8 449.3 L1269.8 445 L1268.8 440.8 L1267.8 436.7 L1266.8 432.6 L1265.8 428.6 L1264.8 424.7 L1263.8 420.8 L1262.8 417.1 L1261.8 413.4 L1260.8 409.8 L1259.8 406.3 L1258.8 402.8 L1257.8 399.4 L1256.8 396.1 L1255.8 392.9 L1254.8 389.8 L1253.8 386.8 L1252.8 383.8 L1251.8 380.9 L1250.8 378.1 L1249.8 375.4 L1248.8 372.8 L1247.8 370.3 L1246.8 367.8 L1245.8 365.4 L1244.8 363.2 L1243.8 361 L1242.8 358.8 L1241.8 356.8 L1240.8 354.9 L1239.8 353 L1238.8 351.2 L1237.8 349.5 L1236.8 347.9 L1235.8 346.4 L1234.8 345 L1233.8 343.7 L1232.8 342.4 L1231.8 341.3 L1230.8 340.2 L1229.8 339.2 L1228.8 338.4 L1227.8 337.6 L1226.8 336.9 L1225.8 336.3 L1224.8 336.2 L1223.8 336.3 L1222.8 336.3 L1221.8 336.3 L1220.8 336.3 L1219.8 336.3 L1218.8 336.3 L1217.8 336.2 L1216.8 336.3 L1215.8 337 L1214.8 337.7 L1213.8 338.5 L1212.8 339.5 L1211.8 340.6 L1210.8 341.8 L1209.8 343 L1208.8 344.5 L1207.8 346 L1206.8 347.7 L1205.8 349.4 L1204.8 351.3 L1203.8 353.3 L1202.8 355.4 L1201.8 357.7 L1200.8 360 L1199.8 362.5 L1198.8 365.1 L1197.8 367.8 L1196.8 370.6 L1195.8 373.6 L1194.8 376.6 L1193.8 379.8 L1192.8 383.1 L1191.8 386.5 L1190.8 390 L1189.8 393.6 L1188.8 397.3 L1187.8 401.1 L1186.8 405.1 L1185.8 409.1 L1184.8 413.2 L1183.8 417.4 L1182.8 421.7 L1181.8 426.1 L1180.8 430.5 L1179.8 435 L1178.8 439.6 L1177.8 444.3 L1176.8 449 L1175.8 453.8 L1174.8 458.6 L1173.8 463.5 L1172.8 468.4 L1171.8 473.3 L1170.8 478.3 L1169.8 483.3 L1168.8 488.3 L1167.8 493.4 L1166.8 498.4 L1165.8 503.5 L1164.8 508.5 L1163.8 513.6 L1162.8 518.6 L1161.8 523.7 L1160.8 528.7 L1159.8 533.7 L1158.8 538.6 L1157.8 543.5 L1156.8 548.4 L1155.8 553.3 L1154.8 558.1 L1153.8 562.9 L1152.8 567.6 L1151.8 572.3 L1150.8 577 L1149.8 581.6 L1148.8 586.1 L1147.8 590.6 L1146.8 595 L1145.8 599.3 L1144.8 603.6 L1143.8 607.8 L1142.8 612 L1141.8 616.1 L1140.8 620.1 L1139.8 624.1 L1138.8 628 L1137.8 631.8 L1136.8 635.5 L1135.8 639.2 L1134.8 642.8 L1133.8 646.3 L1132.8 649.7 L1131.8 653.1 L1130.8 656.4 L1129.8 659.6 L1128.8 662.7 L1127.8 665.7 L1126.8 668.7 L1125.8 671.6 L1124.8 674.4 L1123.8 677.1 L1122.8 679.8 L1121.8 682.3 L1120.8 684.8 L1119.8 687.2 L1118.8 689.5 L1117.8 691.7 L1116.8 693.8 L1115.8 695.9 L1114.8 697.8 L1113.8 699.7 L1112.8 701.5 L1111.8 703.1 L1110.8 704.7 L1109.8 706.2 L1108.8 707.7 L1107.8 709 L1106.8 710.3 L1105.8 711.4 L1104.8 712.5 L1103.8 713.4 L1102.8 714.3 L1101.8 715.1 L1100.8 715.8 L1099.8 716.4 L1098.8 717.2 L1097.8 718 L1096.8 718.6 L1095.8 719 L1094.8 719.2 L1093.8 719.3 L1092.8 719.3 L1091.8 719.2 L1090.8 718.9 L1089.8 718.4 L1088.8 717.7 L1087.8 716.9 L1086.8 716.1 L1085.8 715.5 L1084.8 714.7 L1083.8 713.8 L1082.8 712.9 L1081.8 711.8 L1080.8 710.6 L1079.8 709.2 L1078.8 707.8 L1077.8 706.2 L1076.8 704.6 L1075.8 702.8 L1074.8 700.9 L1073.8 698.9 L1072.8 696.8 L1071.8 694.5 L1070.8 692.1 L1069.8 689.6 L1068.8 687 L1067.8 684.3 L1066.8 681.4 L1065.8 678.4 L1064.8 675.3 L1063.8 672.1 L1062.8 668.8 L1061.8 665.4 L1060.8 661.9 L1059.8 658.3 L1058.8 654.5 L1057.8 650.7 L1056.8 646.7 L1055.8 642.7 L1054.8 638.6 L1053.8 634.4 L1052.8 630.1 L1051.8 625.7 L1050.8 621.3 L1049.8 616.8 L1048.8 612.2 L1047.8 607.5 L1046.8 602.8 L1045.8 598 L1044.8 593.2 L1043.8 588.4 L1042.8 583.5 L1041.8 578.5 L1040.8 573.6 L1039.8 568.6 L1038.8 563.5 L1037.8 558.5 L1036.8 553.5 L1035.8 548.4 L1034.8 543.3 L1033.8 538.3 L1032.8 533.2 L1031.8 528.2 L1030.8 523.2 L1029.8 518.1 L1028.8 513.1 L1027.8 508.2 L1026.8 503.2 L1025.8 498.3 L1024.8 493.5 L1023.8 488.6 L1022.8 483.9 L1021.8 479.1 L1020.8 474.5 L1019.8 469.8 L1018.8 465.3 L1017.8 460.7 L1016.8 456.3 L1015.8 451.9 L1014.8 447.6 L1013.8 443.3 L1012.8 439.2 L1011.8 435 L1010.8 431 L1009.8 427 L1008.8 423.1 L1007.8 419.3 L1006.8 415.6 L1005.8 411.9 L1004.8 408.4 L1003.8 404.9 L1002.8 401.4 L1001.8 398.1 L1000.8 394.8 L999.8 391.7 L998.8 388.6 L997.8 385.6 L996.8 382.7 L995.8 379.8 L994.8 377.1 L993.8 374.4 L992.8 371.8 L991.8 369.3 L990.8 366.9 L989.8 364.5 L988.8 362.3 L987.8 360.1 L986.8 358 L985.8 356 L984.8 354.1 L983.8 352.3 L982.8 350.5 L981.8 348.9 L980.8 347.3 L979.8 345.8 L978.8 344.4 L977.8 343.2 L976.8 342 L975.8 340.8 L974.8 339.8 L973.8 338.9 L972.8 338 L971.8 337.3 L970.8 336.7 L969.8 336.2 L968.8 336.2 L967.8 336.3 L966.8 336.3 L965.8 336.3 L964.8 336.3 L963.8 336.3 L962.8 336.2 L961.8 336.2 L960.8 336.6 L959.8 337.2 L958.8 338 L957.8 338.9 L956.8 339.9 L955.8 341 L954.8 342.3 L953.8 343.6 L952.8 345.1 L951.8 346.7 L950.8 348.4 L949.8 350.2 L948.8 352.1 L947.8 354.2 L946.8 356.3 L945.8 358.6 L944.8 361 L943.8 363.5 L942.8 366.2 L941.8 368.9 L940.8 371.8 L939.8 374.8 L938.8 377.9 L937.8 381.1 L936.8 384.4 L935.8 387.9 L934.8 391.4 L933.8 395.1 L932.8 398.8 L931.8 402.7 L930.8 406.7 L929.8 410.7 L928.8 414.9 L927.8 419.1 L926.8 423.4 L925.8 427.8 L924.8 432.3 L923.8 436.9 L922.8 441.5 L921.8 446.2 L920.8 450.9 L919.8 455.7 L918.8 460.5 L917.8 465.4 L916.8 470.4 L915.8 475.3 L914.8 480.3 L913.8 485.3 L912.8 490.4 L911.8 495.4 L910.8 500.5 L909.8 505.5 L908.8 510.6 L907.8 515.6 L906.8 520.6 L905.8 525.7 L904.8 530.7 L903.8 535.6 L902.8 540.6 L901.8 545.5 L900.8 550.4 L899.8 555.2 L898.8 560 L897.8 564.8 L896.8 569.5 L895.8 574.2 L894.8 578.8 L893.8 583.4 L892.8 587.9 L891.8 592.3 L890.8 596.7 L889.8 601.1 L888.8 605.3 L887.8 609.5 L886.8 613.6 L885.8 617.7 L884.8 621.7 L883.8 625.6 L882.8 629.5 L881.8 633.3 L880.8 637 L879.8 640.6 L878.8 644.2 L877.8 647.7 L876.8 651.1 L875.8 654.4 L874.8 657.7 L873.8 660.8 L872.8 663.9 L871.8 666.9 L870.8 669.9 L869.8 672.7 L868.8 675.5 L867.8 678.2 L866.8 680.8 L865.8 683.3 L864.8 685.7 L863.8 688.1 L862.8 690.4 L861.8 692.6 L860.8 694.6 L859.8 696.7 L858.8 698.6 L857.8 700.4 L856.8 702.1 L855.8 703.8 L854.8 705.4 L853.8 706.8 L852.8 708.2 L851.8 709.5 L850.8 710.7 L849.8 711.9 L848.8 712.9 L847.8 713.8 L846.8 714.6 L845.8 715.4 L844.8 716 L843.8 716.7 L842.8 717.5 L841.8 718.2 L840.8 718.8 L839.8 719.1 L838.8 719.3 L837.8 719.3 L836.8 719.3 L835.8 719.1 L834.8 718.7 L833.8 718.1 L832.8 717.4 L831.8 716.5 L830.8 715.9 L829.8 715.2 L828.8 714.4 L827.8 713.5 L826.8 712.4 L825.8 711.3 L824.8 710 L823.8 708.7 L822.8 707.2 L821.8 705.6 L820.8 703.9 L819.8 702.1 L818.8 700.1 L817.8 698.1 L816.8 695.9 L815.8 693.6 L814.8 691.1 L813.8 688.6 L812.8 685.9 L811.8 683.1 L810.8 680.2 L809.8 677.2 L808.8 674.1 L807.8 670.8 L806.8 667.5 L805.8 664 L804.8 660.4 L803.8 656.8 L802.8 653 L801.8 649.1 L800.8 645.1 L799.8 641.1 L798.8 636.9 L797.8 632.7 L796.8 628.4 L795.8 623.9 L794.8 619.5 L793.8 614.9 L792.8 610.3 L791.8 605.6 L790.8 600.9 L789.8 596.1 L788.8 591.3 L787.8 586.4 L786.8 581.5 L785.8 576.5 L784.8 571.6 L783.8 566.6 L782.8 561.5 L781.8 556.5 L780.8 551.4 L779.8 546.4 L778.8 541.3 L777.8 536.3 L776.8 531.2 L775.8 526.2 L774.8 521.1 L773.8 516.1 L772.8 511.2 L771.8 506.2 L770.8 501.3 L769.8 496.4 L768.8 491.5 L767.8 486.7 L766.8 482 L765.8 477.3 L764.8 472.6 L763.8 468 L762.8 463.4 L761.8 459 L760.8 454.5 L759.8 450.2 L758.8 445.9 L757.8 441.7 L756.8 437.5 L755.8 433.4 L754.8 429.4 L753.8 425.5 L752.8 421.6 L751.8 417.8 L750.8 414.1 L749.8 410.5 L748.8 407 L747.8 403.5 L746.8 400.1 L745.8 396.8 L744.8 393.6 L743.8 390.4 L742.8 387.4 L741.8 384.4 L740.8 381.5 L739.8 378.7 L738.8 376 L737.8 373.3 L736.8 370.8 L735.8 368.3 L734.8 365.9 L733.8 363.6 L732.8 361.4 L731.8 359.3 L730.8 357.2 L729.8 355.2 L728.8 353.4 L727.8 351.6 L726.8 349.9 L725.8 348.2 L724.8 346.7 L723.8 345.3 L722.8 343.9 L721.8 342.7 L720.8 341.5 L719.8 340.4 L718.8 339.4 L717.8 338.5 L716.8 337.7 L715.8 337 L714.8 336.4 L713.8 336.2 L712.8 336.3 L711.8 336.3 L710.8 336.3 L709.8 336.3 L708.8 336.3 L707.8 336.3 L706.8 336.2 L705.8 336.2 L704.8 336.8 L703.8 337.5 L702.8 338.4 L701.8 339.3 L700.8 340.4 L699.8 341.5 L698.8 342.8 L697.8 344.2 L696.8 345.7 L695.8 347.3 L694.8 349.1 L693.8 350.9 L692.8 352.9 L691.8 355 L690.8 357.2 L689.8 359.6 L688.8 362 L687.8 364.6 L686.8 367.3 L685.8 370.1 L684.8 373 L683.8 376 L682.8 379.2 L681.8 382.4 L680.8 385.8 L679.8 389.3 L678.8 392.9 L677.8 396.6 L676.8 400.4 L675.8 404.3 L674.8 408.3 L673.8 412.4 L672.8 416.5 L671.8 420.8 L670.8 425.2 L669.8 429.6 L668.8 434.1 L667.8 438.7 L666.8 443.3 L665.8 448 L664.8 452.8 L663.8 457.6 L662.8 462.5 L661.8 467.4 L660.8 472.3 L659.8 477.3 L658.8 482.3 L657.8 487.3 L656.8 492.4 L655.8 497.4 L654.8 502.5 L653.8 507.5 L652.8 512.6 L651.8 517.6 L650.8 522.7 L649.8 527.7 L648.8 532.7 L647.8 537.6 L646.8 542.6 L645.8 547.5 L644.8 552.3 L643.8 557.2 L642.8 562 L641.8 566.7 L640.8 571.4 L639.8 576 L638.8 580.6 L637.8 585.2 L636.8 589.7 L635.8 594.1 L634.8 598.5 L633.8 602.8 L632.8 607 L631.8 611.2 L630.8 615.3 L629.8 619.3 L628.8 623.3 L627.8 627.2 L626.8 631 L625.8 634.8 L624.8 638.4 L623.8 642.1 L622.8 645.6 L621.8 649 L620.8 652.4 L619.8 655.7 L618.8 658.9 L617.8 662.1 L616.8 665.1 L615.8 668.1 L614.8 671 L613.8 673.8 L612.8 676.6 L611.8 679.2 L610.8 681.8 L609.8 684.3 L608.8 686.7 L607.8 689 L606.8 691.3 L605.8 693.4 L604.8 695.5 L603.8 697.4 L602.8 699.3 L601.8 701.1 L600.8 702.8 L599.8 704.4 L598.8 706 L597.8 707.4 L596.8 708.8 L595.8 710 L594.8 711.2 L593.8 712.3 L592.8 713.3 L591.8 714.1 L590.8 714.9 L589.8 715.7 L588.8 716.3 L587.8 717 L586.8 717.8 L585.8 718.5 L584.8 718.9 L583.8 719.2 L582.8 719.3 L581.8 719.3 L580.8 719.2 L579.8 718.9 L578.8 718.5 L577.8 717.9 L576.8 717 L575.8 716.2 L574.8 715.6 L573.8 714.9 L572.8 714 L571.8 713.1 L570.8 712 L569.8 710.8 L568.8 709.5 L567.8 708.1 L566.8 706.6 L565.8 704.9 L564.8 703.2 L563.8 701.3 L562.8 699.3 L561.8 697.2 L560.8 695 L559.8 692.6 L558.8 690.1 L557.8 687.5 L556.8 684.8 L555.8 682 L554.8 679 L553.8 676 L552.8 672.8 L551.8 669.5 L550.8 666.1 L549.8 662.6 L548.8 659 L547.8 655.3 L546.8 651.5 L545.8 647.5 L544.8 643.5 L543.8 639.4 L542.8 635.2 L541.8 631 L540.8 626.6 L539.8 622.2 L538.8 617.7 L537.8 613.1 L536.8 608.4 L535.8 603.8 L534.8 599 L533.8 594.2 L532.8 589.3 L531.8 584.4 L530.8 579.5 L529.8 574.6 L528.8 569.6 L527.8 564.5 L526.8 559.5 L525.8 554.5 L524.8 549.4 L523.8 544.4 L522.8 539.3 L521.8 534.2 L520.8 529.2 L519.8 524.2 L518.8 519.1 L517.8 514.1 L516.8 509.2 L515.8 504.2 L514.8 499.3 L513.8 494.4 L512.8 489.6 L511.8 484.8 L510.8 480.1 L509.8 475.4 L508.8 470.7 L507.8 466.2 L506.8 461.6 L505.8 457.2 L504.8 452.8 L503.8 448.4 L502.8 444.2 L501.8 440 L500.8 435.9 L499.8 431.8 L498.8 427.8 L497.8 423.9 L496.8 420.1 L495.8 416.3 L494.8 412.7 L493.8 409.1 L492.8 405.6 L491.8 402.1 L490.8 398.8 L489.8 395.5 L488.8 392.3 L487.8 389.2 L486.8 386.2 L485.8 383.2 L484.8 380.4 L483.8 377.6 L482.8 374.9 L481.8 372.3 L480.8 369.8 L479.8 367.3 L478.8 365 L477.8 362.7 L476.8 360.5 L475.8 358.4 L474.8 356.4 L473.8 354.5 L472.8 352.6 L471.8 350.9 L470.8 349.2 L469.8 347.6 L468.8 346.1 L467.8 344.7 L466.8 343.4 L465.8 342.2 L464.8 341.1 L463.8 340 L462.8 339.1 L461.8 338.2 L460.8 337.5 L459.8 336.8 L458.8 336.2 L457.8 336.2 L456.8 336.3 L455.8 336.3 L454.8 336.3 L453.8 336.3 L452.8 336.3 L451.8 336.3 L450.8 336.2 L449.8 336.5 L448.8 337.1 L447.8 337.9 L446.8 338.7 L445.8 339.7 L444.8 340.8 L443.8 342 L442.8 343.3 L441.8 344.8 L440.8 346.3 L439.8 348 L438.8 349.8 L437.8 351.7 L436.8 353.7 L435.8 355.9 L434.8 358.1 L433.8 360.5 L432.8 363 L431.8 365.6 L430.8 368.4 L429.8 371.2 L428.8 374.2 L427.8 377.3 L426.8 380.5 L425.8 383.8 L424.8 387.2 L423.8 390.7 L422.8 394.3 L421.8 398.1 L420.8 401.9 L419.8 405.9 L418.8 409.9 L417.8 414 L416.8 418.2 L415.8 422.6 L414.8 426.9 L413.8 431.4 L412.8 435.9 L411.8 440.5 L410.8 445.2 L409.8 449.9 L408.8 454.7 L407.8 459.6 L406.8 464.5 L405.8 469.4 L404.8 474.3 L403.8 479.3 L402.8 484.3 L401.8 489.3 L400.8 494.4 L399.8 499.4 L398.8 504.5 L397.8 509.6 L396.8 514.6 L395.8 519.6 L394.8 524.7 L393.8 529.7 L392.8 534.6 L391.8 539.6 L390.8 544.5 L389.8 549.4 L388.8 554.3 L387.8 559.1 L386.8 563.9 L385.8 568.6 L384.8 573.3 L383.8 577.9 L382.8 582.5 L381.8 587 L380.8 591.4 L379.8 595.8 L378.8 600.2 L377.8 604.5 L376.8 608.7 L375.8 612.8 L374.8 616.9 L373.8 620.9 L372.8 624.9 L371.8 628.7 L370.8 632.5 L369.8 636.2 L368.8 639.9 L367.8 643.5 L366.8 647 L365.8 650.4 L364.8 653.7 L363.8 657 L362.8 660.2 L361.8 663.3 L360.8 666.3 L359.8 669.3 L358.8 672.2 L357.8 674.9 L356.8 677.7 L355.8 680.3 L354.8 682.8 L353.8 685.3 L352.8 687.6 L351.8 689.9 L350.8 692.1 L349.8 694.2 L348.8 696.3 L347.8 698.2 L346.8 700 L345.8 701.8 L344.8 703.5 L343.8 705.1 L342.8 706.5 L341.8 708 L340.8 709.3 L339.8 710.5 L338.8 711.6 L337.8 712.7 L336.8 713.6 L335.8 714.5 L334.8 715.2 L333.8 715.9 L332.8 716.5 L331.8 717.4 L330.8 718.1 L329.8 718.7 L328.8 719 L327.8 719.3 L326.8 719.3 L325.8 719.3 L324.8 719.1 L323.8 718.8 L322.8 718.3 L321.8 717.6 L320.8 716.7 L319.8 716 L318.8 715.3 L317.8 714.5 L316.8 713.6 L315.8 712.6 L314.8 711.5 L313.8 710.3 L312.8 708.9 L311.8 707.5 L310.8 705.9 L309.8 704.2 L308.8 702.4 L307.8 700.5 L306.8 698.5 L305.8 696.3 L304.8 694 L303.8 691.6 L302.8 689.1 L301.8 686.5 L300.8 683.7 L299.8 680.8 L298.8 677.8 L297.8 674.7 L296.8 671.5 L295.8 668.2 L294.8 664.7 L293.8 661.2 L292.8 657.5 L291.8 653.8 L290.8 649.9 L289.8 645.9 L288.8 641.9 L287.8 637.8 L286.8 633.5 L285.8 629.2 L284.8 624.8 L283.8 620.4 L282.8 615.8 L281.8 611.2 L280.8 606.6 L279.8 601.9 L278.8 597.1 L277.8 592.3 L276.8 587.4 L275.8 582.5 L274.8 577.5 L273.8 572.6 L272.8 567.6 L271.8 562.5 L270.8 557.5 L269.8 552.5 L268.8 547.4 L267.8 542.3 L266.8 537.3 L265.8 532.2 L264.8 527.2 L263.8 522.2 L262.8 517.1 L261.8 512.2 L260.8 507.2 L259.8 502.3 L258.8 497.4 L257.8 492.5 L256.8 487.7 L255.8 482.9 L254.8 478.2 L253.8 473.5 L252.8 468.9 L251.8 464.3 L250.8 459.9 L249.8 455.4 L248.8 451 L247.8 446.7 L246.8 442.5 L245.8 438.3 L244.8 434.2 L243.8 430.2 L242.8 426.3 L241.8 422.4 L240.8 418.6 L239.8 414.9 L238.8 411.2 L237.8 407.7 L236.8 404.2 L235.8 400.8 L234.8 397.4 L233.8 394.2 L232.8 391.1 L231.8 388 L230.8 385 L229.8 382.1 L228.8 379.3 L227.8 376.5 L226.8 373.9 L225.8 371.3 L224.8 368.8 L223.8 366.4 L222.8 364.1 L221.8 361.8 L220.8 359.7 L219.8 357.6 L218.8 355.6 L217.8 353.7 L216.8 351.9 L215.8 350.2 L214.8 348.5 L213.8 347 L212.8 345.5 L211.8 344.2 L210.8 342.9 L209.8 341.7 L208.8 340.6 L207.8 339.6 L206.8 338.7 L205.8 337.9 L204.8 337.2 L203.8 336.6 L202.8 336.2 L201.8 336.2 L200.8 336.3 L199.8 336.3 L198.8 336.3 L197.8 336.3 L196.8 336.3 L195.8 336.2 L194.8 336.2 L193.8 336.7 L192.8 337.4 L191.8 338.2 L190.8 339.1 L189.8 340.1 L188.8 341.3 L187.8 342.5 L186.8 343.9 L185.8 345.4 L184.8 347 L183.8 348.7 L182.8 350.6 L181.8 352.5 L180.8 354.6 L179.8 356.8 L178.8 359.1 L177.8 361.5 L176.8 364.1 L175.8 366.7 L174.8 369.5 L173.8 372.4 L172.8 375.4 L171.8 378.5 L170.8 381.8 L169.8 385.1 L168.8 388.6 L167.8 392.1 L166.8 395.8 L165.8 399.6 L164.8 403.5 L163.8 407.5 L162.8 411.5 L161.8 415.7 L160.8 420 L159.8 424.3 L158.8 428.7 L157.8 433.2 L156.8 437.8 L155.8 442.4 L154.8 447.1 L153.8 451.9 L152.8 456.7 L151.8 461.5 L150.8 466.4 L149.8 471.3 L148.8 476.3 L147.8 481.3 L146.8 486.3 L145.8 491.4 L144.8 496.4 L143.8 501.5 L142.8 506.5 L141.8 511.6 L140.8 516.6 L139.8 521.6 L138.8 526.7 L137.8 531.7 L136.8 536.6 L135.8 541.6 L134.8 546.5 L133.8 551.4 L132.8 556.2 L131.8 561 L130.8 565.8 L129.8 570.5 L128.8 575.1 L127.8 579.7 L126.8 584.3 L125.8 588.8 L124.8 593.2 L123.8 597.6 L122.8 601.9 L121.8 606.2 L120.8 610.3 L119.8 614.5 L118.8 618.5 L117.8 622.5 L116.8 626.4 L115.8 630.3 L114.8 634 L113.8 637.7 L112.8 641.3 L111.8 644.9 L110.8 648.4 L109.8 651.7 L108.8 655.1 L107.8 658.3 L106.8 661.5 L105.8 664.5 L104.8 667.5 L103.8 670.4 L102.8 673.3 L101.8 676 L100.8 678.7 L99.8 681.3 L98.8 683.8 L97.8 686.2 L96.8 688.6 L95.8 690.8 L94.8 693 L93.8 695.1 L92.8 697 L91.8 698.9 L90.8 700.8 L89.8 702.5 L88.8 704.1 L87.8 705.7 L86.8 707.1 L85.8 708.5 L84.8 709.8 L83.8 711 L82.8 712.1 L81.8 713.1 L80.8 714 L79.8 714.8 L78.8 715.5 L77.8 716.1 L76.8 716.9 L75.8 717.7 L74.8 718.4 L73.8 718.8 L72.8 719.2 L71.8 719.3 L70.8 719.3 L69.8 719.2 L68.8 719 L67.8 718.6 L66.8 718 L65.8 717.2 L64.8 716.4 Z"/>
<path id="pink" fill="#ff0080" d="M64.5 706.8 L65.5 707.5 L66.5 708.1 L67.5 708.2 L68.5 708.2 L69.5 708.2 L70.5 708.2 L71.5 708.2 L72.5 708.2 L73.5 708.2 L74.5 708.2 L75.5 708.2 L76.5 707.6 L77.5 707 L78.5 706.2 L79.5 705.4 L80.5 704.5 L81.5 703.5 L82.5 702.3 L83.5 701.1 L84.5 699.8 L85.5 698.4 L86.5 697 L87.5 695.4 L88.5 693.8 L89.5 692 L90.5 690.2 L91.5 688.3 L92.5 686.3 L93.5 684.3 L94.5 682.1 L95.5 679.9 L96.5 677.5 L97.5 675.1 L98.5 672.6 L99.5 670.1 L100.5 667.4 L101.5 664.6 L102.5 661.8 L103.5 658.9 L104.5 655.9 L105.5 652.8 L106.5 649.7 L107.5 646.4 L108.5 643.1 L109.5 639.7 L110.5 636.2 L111.5 632.6 L112.5 629 L113.5 625.3 L114.5 621.5 L115.5 617.6 L116.5 613.6 L117.5 609.6 L118.5 605.5 L119.5 601.3 L120.5 597.1 L121.5 592.8 L122.5 588.4 L123.5 584 L124.5 579.5 L125.5 574.9 L126.5 570.3 L127.5 565.6 L128.5 560.9 L129.5 556.1 L130.5 551.3 L131.5 546.4 L132.5 541.5 L133.5 536.6 L134.5 531.6 L135.5 526.6 L136.5 521.6 L137.5 516.6 L138.5 511.6 L139.5 506.5 L140.5 501.5 L141.5 496.4 L142.5 491.3 L143.5 486.3 L144.5 481.2 L145.5 476.2 L146.5 471.2 L147.5 466.3 L148.5 461.3 L149.5 456.4 L150.5 451.5 L151.5 446.7 L152.5 441.9 L153.5 437.2 L154.5 432.6 L155.5 428 L156.5 423.4 L157.5 419 L158.5 414.6 L159.5 410.3 L160.5 406.1 L161.5 401.9 L162.5 397.9 L163.5 393.9 L164.5 390.1 L165.5 386.3 L166.5 382.7 L167.5 379.1 L168.5 375.7 L169.5 372.4 L170.5 369.2 L171.5 366.1 L172.5 363.1 L173.5 360.2 L174.5 357.4 L175.5 354.8 L176.5 352.3 L177.5 349.9 L178.5 347.6 L179.5 345.5 L180.5 343.4 L181.5 341.5 L182.5 339.7 L183.5 338 L184.5 336.5 L185.5 335 L186.5 333.7 L187.5 332.5 L188.5 331.4 L189.5 330.5 L190.5 329.6 L191.5 328.8 L192.5 328.2 L193.5 327.4 L194.5 326.6 L195.5 325.9 L196.5 325.5 L197.5 325.2 L198.5 325.2 L199.5 325.2 L200.5 325.3 L201.5 325.6 L202.5 326.1 L203.5 326.8 L204.5 327.7 L205.5 328.3 L206.5 329 L207.5 329.7 L208.5 330.6 L209.5 331.5 L210.5 332.5 L211.5 333.7 L212.5 334.9 L213.5 336.2 L214.5 337.6 L215.5 339.1 L216.5 340.6 L217.5 342.3 L218.5 344.1 L219.5 345.9 L220.5 347.9 L221.5 349.9 L222.5 352 L223.5 354.2 L224.5 356.5 L225.5 358.9 L226.5 361.4 L227.5 363.9 L228.5 366.5 L229.5 369.2 L230.5 372 L231.5 374.9 L232.5 377.8 L233.5 380.9 L234.5 384 L235.5 387.2 L236.5 390.5 L237.5 393.8 L238.5 397.2 L239.5 400.7 L240.5 404.3 L241.5 408 L242.5 411.7 L243.5 415.5 L244.5 419.4 L245.5 423.3 L246.5 427.3 L247.5 431.4 L248.5 435.6 L249.5 439.8 L250.5 444.1 L251.5 448.4 L252.5 452.8 L253.5 457.3 L254.5 461.8 L255.5 466.4 L256.5 471 L257.5 475.7 L258.5 480.4 L259.5 485.2 L260.5 490 L261.5 494.9 L262.5 499.8 L263.5 504.7 L264.5 509.6 L265.5 514.6 L266.5 519.6 L267.5 524.7 L268.5 529.7 L269.5 534.7 L270.5 539.8 L271.5 544.8 L272.5 549.9 L273.5 554.9 L274.5 560 L275.5 565 L276.5 570 L277.5 574.9 L278.5 579.8 L279.5 584.7 L280.5 589.5 L281.5 594.3 L282.5 599.1 L283.5 603.7 L284.5 608.3 L285.5 612.9 L286.5 617.3 L287.5 621.7 L288.5 626 L289.5 630.2 L290.5 634.3 L291.5 638.4 L292.5 642.3 L293.5 646.1 L294.5 649.9 L295.5 653.5 L296.5 657 L297.5 660.4 L298.5 663.7 L299.5 666.9 L300.5 670 L301.5 673 L302.5 675.8 L303.5 678.5 L304.5 681.1 L305.5 683.6 L306.5 686 L307.5 688.3 L308.5 690.4 L309.5 692.4 L310.5 694.3 L311.5 696.1 L312.5 697.8 L313.5 699.4 L314.5 700.8 L315.5 702.1 L316.5 703.4 L317.5 704.5 L318.5 705.5 L319.5 706.4 L320.5 707.1 L321.5 707.8 L322.5 708.3 L323.5 708.2 L324.5 708.2 L325.5 708.2 L326.5 708.2 L327.5 708.2 L328.5 708.2 L329.5 708.2 L330.5 708.3 L331.5 708 L332.5 707.4 L333.5 706.7 L334.5 705.9 L335.5 705.1 L336.5 704.1 L337.5 703 L338.5 701.9 L339.5 700.6 L340.5 699.3 L341.5 697.9 L342.5 696.4 L343.5 694.8 L344.5 693.1 L345.5 691.3 L346.5 689.5 L347.5 687.5 L348.5 685.5 L349.5 683.4 L350.5 681.2 L351.5 678.9 L352.5 676.6 L353.5 674.1 L354.5 671.6 L355.5 669 L356.5 666.3 L357.5 663.5 L358.5 660.7 L359.5 657.7 L360.5 654.7 L361.5 651.6 L362.5 648.4 L363.5 645.1 L364.5 641.7 L365.5 638.3 L366.5 634.8 L367.5 631.2 L368.5 627.5 L369.5 623.8 L370.5 619.9 L371.5 616 L372.5 612 L373.5 608 L374.5 603.8 L375.5 599.6 L376.5 595.4 L377.5 591 L378.5 586.6 L379.5 582.2 L380.5 577.6 L381.5 573.1 L382.5 568.4 L383.5 563.7 L384.5 559 L385.5 554.2 L386.5 549.4 L387.5 544.5 L388.5 539.6 L389.5 534.6 L390.5 529.6 L391.5 524.6 L392.5 519.6 L393.5 514.6 L394.5 509.5 L395.5 504.5 L396.5 499.4 L397.5 494.4 L398.5 489.3 L399.5 484.3 L400.5 479.2 L401.5 474.2 L402.5 469.2 L403.5 464.3 L404.5 459.3 L405.5 454.5 L406.5 449.6 L407.5 444.8 L408.5 440.1 L409.5 435.4 L410.5 430.7 L411.5 426.1 L412.5 421.6 L413.5 417.2 L414.5 412.9 L415.5 408.6 L416.5 404.4 L417.5 400.3 L418.5 396.3 L419.5 392.4 L420.5 388.6 L421.5 384.9 L422.5 381.3 L423.5 377.8 L424.5 374.4 L425.5 371.1 L426.5 367.9 L427.5 364.8 L428.5 361.9 L429.5 359.1 L430.5 356.4 L431.5 353.8 L432.5 351.3 L433.5 349 L434.5 346.7 L435.5 344.6 L436.5 342.6 L437.5 340.8 L438.5 339 L439.5 337.4 L440.5 335.9 L441.5 334.5 L442.5 333.2 L443.5 332.1 L444.5 331 L445.5 330.1 L446.5 329.3 L447.5 328.6 L448.5 328 L449.5 327.1 L450.5 326.3 L451.5 325.7 L452.5 325.4 L453.5 325.2 L454.5 325.2 L455.5 325.2 L456.5 325.4 L457.5 325.8 L458.5 326.4 L459.5 327.2 L460.5 328 L461.5 328.6 L462.5 329.3 L463.5 330.1 L464.5 331 L465.5 331.9 L466.5 333 L467.5 334.1 L468.5 335.4 L469.5 336.7 L470.5 338.2 L471.5 339.7 L472.5 341.3 L473.5 343 L474.5 344.8 L475.5 346.7 L476.5 348.7 L477.5 350.7 L478.5 352.9 L479.5 355.1 L480.5 357.5 L481.5 359.9 L482.5 362.4 L483.5 364.9 L484.5 367.6 L485.5 370.3 L486.5 373.2 L487.5 376.1 L488.5 379.1 L489.5 382.1 L490.5 385.3 L491.5 388.5 L492.5 391.8 L493.5 395.2 L494.5 398.6 L495.5 402.2 L496.5 405.8 L497.5 409.5 L498.5 413.2 L499.5 417 L500.5 420.9 L501.5 424.9 L502.5 429 L503.5 433.1 L504.5 437.2 L505.5 441.5 L506.5 445.8 L507.5 450.2 L508.5 454.6 L509.5 459.1 L510.5 463.6 L511.5 468.2 L512.5 472.9 L513.5 477.6 L514.5 482.3 L515.5 487.1 L516.5 491.9 L517.5 496.8 L518.5 501.7 L519.5 506.7 L520.5 511.6 L521.5 516.6 L522.5 521.6 L523.5 526.7 L524.5 531.7 L525.5 536.8 L526.5 541.8 L527.5 546.9 L528.5 551.9 L529.5 557 L530.5 562 L531.5 567 L532.5 571.9 L533.5 576.9 L534.5 581.8 L535.5 586.6 L536.5 591.5 L537.5 596.2 L538.5 600.9 L539.5 605.6 L540.5 610.1 L541.5 614.7 L542.5 619.1 L543.5 623.4 L544.5 627.7 L545.5 631.9 L546.5 636 L547.5 640 L548.5 643.9 L549.5 647.7 L550.5 651.3 L551.5 654.9 L552.5 658.4 L553.5 661.8 L554.5 665 L555.5 668.2 L556.5 671.2 L557.5 674.1 L558.5 676.9 L559.5 679.6 L560.5 682.1 L561.5 684.6 L562.5 686.9 L563.5 689.1 L564.5 691.2 L565.5 693.2 L566.5 695.1 L567.5 696.8 L568.5 698.4 L569.5 700 L570.5 701.4 L571.5 702.6 L572.5 703.8 L573.5 704.9 L574.5 705.8 L575.5 706.7 L576.5 707.4 L577.5 708 L578.5 708.2 L579.5 708.2 L580.5 708.2 L581.5 708.2 L582.5 708.2 L583.5 708.2 L584.5 708.2 L585.5 708.2 L586.5 708.3 L587.5 707.8 L588.5 707.1 L589.5 706.4 L590.5 705.6 L591.5 704.7 L592.5 703.7 L593.5 702.6 L594.5 701.4 L595.5 700.1 L596.5 698.7 L597.5 697.3 L598.5 695.7 L599.5 694.1 L600.5 692.4 L601.5 690.6 L602.5 688.7 L603.5 686.7 L604.5 684.7 L605.5 682.5 L606.5 680.3 L607.5 678 L608.5 675.6 L609.5 673.1 L610.5 670.6 L611.5 667.9 L612.5 665.2 L613.5 662.4 L614.5 659.5 L615.5 656.5 L616.5 653.5 L617.5 650.3 L618.5 647.1 L619.5 643.8 L620.5 640.4 L621.5 636.9 L622.5 633.4 L623.5 629.7 L624.5 626 L625.5 622.2 L626.5 618.4 L627.5 614.4 L628.5 610.4 L629.5 606.3 L630.5 602.2 L631.5 597.9 L632.5 593.6 L633.5 589.3 L634.5 584.9 L635.5 580.4 L636.5 575.8 L637.5 571.2 L638.5 566.5 L639.5 561.8 L640.5 557.1 L641.5 552.3 L642.5 547.4 L643.5 542.5 L644.5 537.6 L645.5 532.6 L646.5 527.6 L647.5 522.6 L648.5 517.6 L649.5 512.6 L650.5 507.5 L651.5 502.5 L652.5 497.4 L653.5 492.3 L654.5 487.3 L655.5 482.3 L656.5 477.2 L657.5 472.2 L658.5 467.2 L659.5 462.3 L660.5 457.4 L661.5 452.5 L662.5 447.7 L663.5 442.9 L664.5 438.2 L665.5 433.5 L666.5 428.9 L667.5 424.3 L668.5 419.9 L669.5 415.5 L670.5 411.1 L671.5 406.9 L672.5 402.8 L673.5 398.7 L674.5 394.7 L675.5 390.9 L676.5 387.1 L677.5 383.4 L678.5 379.8 L679.5 376.4 L680.5 373 L681.5 369.8 L682.5 366.7 L683.5 363.7 L684.5 360.8 L685.5 358 L686.5 355.3 L687.5 352.8 L688.5 350.4 L689.5 348.1 L690.5 345.9 L691.5 343.8 L692.5 341.9 L693.5 340.1 L694.5 338.4 L695.5 336.8 L696.5 335.3 L697.5 334 L698.5 332.8 L699.5 331.7 L700.5 330.7 L701.5 329.8 L702.5 329 L703.5 328.3 L704.5 327.6 L705.5 326.7 L706.5 326 L707.5 325.6 L708.5 325.3 L709.5 325.2 L710.5 325.2 L711.5 325.3 L712.5 325.5 L713.5 326 L714.5 326.7 L715.5 327.5 L716.5 328.2 L717.5 328.9 L718.5 329.6 L719.5 330.4 L720.5 331.3 L721.5 332.3 L722.5 333.4 L723.5 334.6 L724.5 335.9 L725.5 337.3 L726.5 338.8 L727.5 340.3 L728.5 342 L729.5 343.7 L730.5 345.6 L731.5 347.5 L732.5 349.5 L733.5 351.6 L734.5 353.8 L735.5 356.1 L736.5 358.4 L737.5 360.9 L738.5 363.4 L739.5 366 L740.5 368.7 L741.5 371.5 L742.5 374.3 L743.5 377.3 L744.5 380.3 L745.5 383.4 L746.5 386.5 L747.5 389.8 L748.5 393.1 L749.5 396.5 L750.5 400 L751.5 403.6 L752.5 407.2 L753.5 410.9 L754.5 414.7 L755.5 418.6 L756.5 422.5 L757.5 426.5 L758.5 430.6 L759.5 434.7 L760.5 438.9 L761.5 443.2 L762.5 447.5 L763.5 451.9 L764.5 456.4 L765.5 460.9 L766.5 465.5 L767.5 470.1 L768.5 474.7 L769.5 479.5 L770.5 484.2 L771.5 489 L772.5 493.9 L773.5 498.8 L774.5 503.7 L775.5 508.6 L776.5 513.6 L777.5 518.6 L778.5 523.6 L779.5 528.7 L780.5 533.7 L781.5 538.8 L782.5 543.8 L783.5 548.9 L784.5 553.9 L785.5 559 L786.5 564 L787.5 569 L788.5 573.9 L789.5 578.9 L790.5 583.7 L791.5 588.6 L792.5 593.4 L793.5 598.1 L794.5 602.8 L795.5 607.4 L796.5 612 L797.5 616.4 L798.5 620.8 L799.5 625.2 L800.5 629.4 L801.5 633.5 L802.5 637.6 L803.5 641.5 L804.5 645.4 L805.5 649.1 L806.5 652.8 L807.5 656.3 L808.5 659.8 L809.5 663.1 L810.5 666.3 L811.5 669.4 L812.5 672.4 L813.5 675.2 L814.5 678 L815.5 680.6 L816.5 683.1 L817.5 685.5 L818.5 687.8 L819.5 690 L820.5 692 L821.5 694 L822.5 695.8 L823.5 697.5 L824.5 699.1 L825.5 700.5 L826.5 701.9 L827.5 703.1 L828.5 704.3 L829.5 705.3 L830.5 706.2 L831.5 707 L832.5 707.7 L833.5 708.2 L834.5 708.2 L835.5 708.2 L836.5 708.2 L837.5 708.2 L838.5 708.2 L839.5 708.2 L840.5 708.2 L841.5 708.2 L842.5 708.1 L843.5 707.5 L844.5 706.9 L845.5 706.1 L846.5 705.2 L847.5 704.3 L848.5 703.2 L849.5 702.1 L850.5 700.9 L851.5 699.6 L852.5 698.1 L853.5 696.7 L854.5 695.1 L855.5 693.4 L856.5 691.7 L857.5 689.8 L858.5 687.9 L859.5 685.9 L860.5 683.8 L861.5 681.7 L862.5 679.4 L863.5 677.1 L864.5 674.6 L865.5 672.1 L866.5 669.5 L867.5 666.9 L868.5 664.1 L869.5 661.2 L870.5 658.3 L871.5 655.3 L872.5 652.2 L873.5 649 L874.5 645.8 L875.5 642.4 L876.5 639 L877.5 635.5 L878.5 631.9 L879.5 628.3 L880.5 624.5 L881.5 620.7 L882.5 616.8 L883.5 612.8 L884.5 608.8 L885.5 604.7 L886.5 600.5 L887.5 596.2 L888.5 591.9 L889.5 587.5 L890.5 583.1 L891.5 578.6 L892.5 574 L893.5 569.3 L894.5 564.7 L895.5 559.9 L896.5 555.1 L897.5 550.3 L898.5 545.5 L899.5 540.5 L900.5 535.6 L901.5 530.6 L902.5 525.6 L903.5 520.6 L904.5 515.6 L905.5 510.6 L906.5 505.5 L907.5 500.4 L908.5 495.4 L909.5 490.3 L910.5 485.3 L911.5 480.2 L912.5 475.2 L913.5 470.2 L914.5 465.3 L915.5 460.3 L916.5 455.4 L917.5 450.6 L918.5 445.8 L919.5 441 L920.5 436.3 L921.5 431.6 L922.5 427.1 L923.5 422.5 L924.5 418.1 L925.5 413.7 L926.5 409.4 L927.5 405.2 L928.5 401.1 L929.5 397.1 L930.5 393.2 L931.5 389.3 L932.5 385.6 L933.5 382 L934.5 378.4 L935.5 375 L936.5 371.7 L937.5 368.5 L938.5 365.4 L939.5 362.5 L940.5 359.6 L941.5 356.9 L942.5 354.3 L943.5 351.8 L944.5 349.4 L945.5 347.2 L946.5 345 L947.5 343 L948.5 341.1 L949.5 339.4 L950.5 337.7 L951.5 336.2 L952.5 334.8 L953.5 333.5 L954.5 332.3 L955.5 331.2 L956.5 330.3 L957.5 329.4 L958.5 328.7 L959.5 328.1 L960.5 327.2 L961.5 326.4 L962.5 325.8 L963.5 325.4 L964.5 325.2 L965.5 325.2 L966.5 325.2 L967.5 325.4 L968.5 325.7 L969.5 326.3 L970.5 327 L971.5 327.9 L972.5 328.5 L973.5 329.1 L974.5 329.9 L975.5 330.8 L976.5 331.7 L977.5 332.8 L978.5 333.9 L979.5 335.1 L980.5 336.4 L981.5 337.9 L982.5 339.4 L983.5 341 L984.5 342.7 L985.5 344.4 L986.5 346.3 L987.5 348.3 L988.5 350.3 L989.5 352.5 L990.5 354.7 L991.5 357 L992.5 359.4 L993.5 361.9 L994.5 364.4 L995.5 367.1 L996.5 369.8 L997.5 372.6 L998.5 375.5 L999.5 378.4 L1000.5 381.5 L1001.5 384.6 L1002.5 387.8 L1003.5 391.1 L1004.5 394.5 L1005.5 397.9 L1006.5 401.4 L1007.5 405 L1008.5 408.7 L1009.5 412.5 L1010.5 416.3 L1011.5 420.2 L1012.5 424.1 L1013.5 428.1 L1014.5 432.2 L1015.5 436.4 L1016.5 440.6 L1017.5 444.9 L1018.5 449.3 L1019.5 453.7 L1020.5 458.2 L1021.5 462.7 L1022.5 467.3 L1023.5 471.9 L1024.5 476.6 L1025.5 481.4 L1026.5 486.1 L1027.5 491 L1028.5 495.8 L1029.5 500.7 L1030.5 505.7 L1031.5 510.6 L1032.5 515.6 L1033.5 520.6 L1034.5 525.7 L1035.5 530.7 L1036.5 535.8 L1037.5 540.8 L1038.5 545.9 L1039.5 550.9 L1040.5 555.9 L1041.5 561 L1042.5 566 L1043.5 571 L1044.5 575.9 L1045.5 580.8 L1046.5 585.7 L1047.5 590.5 L1048.5 595.3 L1049.5 600 L1050.5 604.6 L1051.5 609.2 L1052.5 613.8 L1053.5 618.2 L1054.5 622.6 L1055.5 626.9 L1056.5 631.1 L1057.5 635.2 L1058.5 639.2 L1059.5 643.1 L1060.5 646.9 L1061.5 650.6 L1062.5 654.2 L1063.5 657.7 L1064.5 661.1 L1065.5 664.4 L1066.5 667.6 L1067.5 670.6 L1068.5 673.5 L1069.5 676.4 L1070.5 679.1 L1071.5 681.6 L1072.5 684.1 L1073.5 686.5 L1074.5 688.7 L1075.5 690.8 L1076.5 692.8 L1077.5 694.7 L1078.5 696.5 L1079.5 698.1 L1080.5 699.7 L1081.5 701.1 L1082.5 702.4 L1083.5 703.6 L1084.5 704.7 L1085.5 705.7 L1086.5 706.5 L1087.5 707.3 L1088.5 707.9 L1089.5 708.3 L1090.5 708.2 L1091.5 708.2 L1092.5 708.2 L1093.5 708.2 L1094.5 708.2 L1095.5 708.2 L1096.5 708.2 L1097.5 708.3 L1098.5 707.9 L1099.5 707.3 L1100.5 706.6 L1101.5 705.8 L1102.5 704.9 L1103.5 703.9 L1104.5 702.8 L1105.5 701.6 L1106.5 700.4 L1107.5 699 L1108.5 697.6 L1109.5 696 L1110.5 694.4 L1111.5 692.7 L1112.5 691 L1113.5 689.1 L1114.5 687.1 L1115.5 685.1 L1116.5 683 L1117.5 680.8 L1118.5 678.5 L1119.5 676.1 L1120.5 673.6 L1121.5 671.1 L1122.5 668.5 L1123.5 665.8 L1124.5 663 L1125.5 660.1 L1126.5 657.1 L1127.5 654.1 L1128.5 650.9 L1129.5 647.7 L1130.5 644.4 L1131.5 641.1 L1132.5 637.6 L1133.5 634.1 L1134.5 630.5 L1135.5 626.8 L1136.5 623 L1137.5 619.2 L1138.5 615.2 L1139.5 611.2 L1140.5 607.2 L1141.5 603 L1142.5 598.8 L1143.5 594.5 L1144.5 590.2 L1145.5 585.7 L1146.5 581.3 L1147.5 576.7 L1148.5 572.1 L1149.5 567.5 L1150.5 562.8 L1151.5 558 L1152.5 553.2 L1153.5 548.4 L1154.5 543.5 L1155.5 538.6 L1156.5 533.6 L1157.5 528.6 L1158.5 523.6 L1159.5 518.6 L1160.5 513.6 L1161.5 508.5 L1162.5 503.5 L1163.5 498.4 L1164.5 493.4 L1165.5 488.3 L1166.5 483.3 L1167.5 478.2 L1168.5 473.2 L1169.5 468.2 L1170.5 463.3 L1171.5 458.4 L1172.5 453.5 L1173.5 448.6 L1174.5 443.8 L1175.5 439.1 L1176.5 434.4 L1177.5 429.8 L1178.5 425.2 L1179.5 420.8 L1180.5 416.3 L1181.5 412 L1182.5 407.8 L1183.5 403.6 L1184.5 399.5 L1185.5 395.5 L1186.5 391.6 L1187.5 387.8 L1188.5 384.1 L1189.5 380.5 L1190.5 377.1 L1191.5 373.7 L1192.5 370.4 L1193.5 367.3 L1194.5 364.2 L1195.5 361.3 L1196.5 358.5 L1197.5 355.8 L1198.5 353.3 L1199.5 350.8 L1200.5 348.5 L1201.5 346.3 L1202.5 344.2 L1203.5 342.2 L1204.5 340.4 L1205.5 338.7 L1206.5 337.1 L1207.5 335.6 L1208.5 334.2 L1209.5 333 L1210.5 331.9 L1211.5 330.9 L1212.5 329.9 L1213.5 329.1 L1214.5 328.4 L1215.5 327.8 L1216.5 326.9 L1217.5 326.2 L1218.5 325.6 L1219.5 325.3 L1220.5 325.2 L1221.5 325.2 L1222.5 325.2 L1223.5 325.5 L1224.5 325.9 L1225.5 326.5 L1226.5 327.3 L1227.5 328.1 L1228.5 328.7 L1229.5 329.4 L1230.5 330.2 L1231.5 331.1 L1232.5 332.1 L1233.5 333.2 L1234.5 334.4 L1235.5 335.6 L1236.5 337 L1237.5 338.5 L1238.5 340 L1239.5 341.6 L1240.5 343.4 L1241.5 345.2 L1242.5 347.1 L1243.5 349.1 L1244.5 351.2 L1245.5 353.3 L1246.5 355.6 L1247.5 357.9 L1248.5 360.4 L1249.5 362.9 L1250.5 365.5 L1251.5 368.1 L1252.5 370.9 L1253.5 373.7 L1254.5 376.7 L1255.5 379.7 L1256.5 382.7 L1257.5 385.9 L1258.5 389.1 L1259.5 392.5 L1260.5 395.9 L1261.5 399.3 L1262.5 402.9 L1263.5 406.5 L1264.5 410.2 L1265.5 414 L1266.5 417.8 L1267.5 421.7 L1268.5 425.7 L1269.5 429.8 L1270.5 433.9 L1271.5 438.1 L1272.5 442.3 L1273.5 446.7 L1274.5 451 L1275.5 455.5 L1276.5 460 L1277.5 464.5 L1278.5 469.1 L1279.5 473.8 L1280.5 478.5 L1281.5 483.3 L1282.5 488.1 L1283.5 492.9 L1284.5 497.8 L1285.5 502.7 L1286.5 507.7 L1287.5 512.6 L1288.5 517.6 L1289.5 522.6 L1290.5 527.7 L1291.5 532.7 L1292.5 537.8 L1293.5 542.8 L1294.5 547.9 L1295.5 552.9 L1296.5 558 L1297.5 563 L1298.5 568 L1299.5 572.9 L1300.5 577.9 L1301.5 582.8 L1302.5 587.6 L1303.5 592.4 L1304.5 597.2 L1305.5 601.9 L1306.5 606.5 L1307.5 611.1 L1308.5 615.5 L1309.5 620 L1310.5 624.3 L1311.5 628.5 L1312.5 632.7 L1313.5 636.8 L1314.5 640.7 L1315.5 644.6 L1316.5 648.4 L1317.5 652.1 L1318.5 655.6 L1319.5 659.1 L1320.5 662.4 L1321.5 665.7 L1322.5 668.8 L1323.5 671.8 L1324.5 674.7 L1325.5 677.5 L1326.5 680.1 L1327.5 682.6 L1328.5 685.1 L1329.5 687.4 L1330.5 689.6 L1331.5 691.6 L1332.5 693.6 L1333.5 695.4 L1334.5 697.1 L1335.5 698.7 L1336.5 700.2 L1337.5 701.6 L1338.5 702.9 L1339.5 704.1 L1340.5 705.1 L1341.5 706 L1341.8 715.2 L1340.8 714.4 L1339.8 713.6 L1338.8 712.6 L1337.8 711.5 L1336.8 710.3 L1335.8 709 L1334.8 707.6 L1333.8 706.1 L1332.8 704.4 L1331.8 702.6 L1330.8 700.7 L1329.8 698.7 L1328.8 696.5 L1327.8 694.2 L1326.8 691.8 L1325.8 689.3 L1324.8 686.7 L1323.8 683.9 L1322.8 681.1 L1321.8 678.1 L1320.8 675 L1319.8 671.8 L1318.8 668.5 L1317.8 665 L1316.8 661.5 L1315.8 657.8 L1314.8 654.1 L1313.8 650.2 L1312.8 646.3 L1311.8 642.3 L1310.8 638.1 L1309.8 633.9 L1308.8 629.6 L1307.8 625.2 L1306.8 620.8 L1305.8 616.3 L1304.8 611.7 L1303.8 607 L1302.8 602.3 L1301.8 597.5 L1300.8 592.7 L1299.8 587.8 L1298.8 582.9 L1297.8 578 L1296.8 573 L1295.8 568 L1294.8 563 L1293.8 558 L1292.8 552.9 L1291.8 547.9 L1290.8 542.8 L1289.8 537.7 L1288.8 532.7 L1287.8 527.6 L1286.8 522.6 L1285.8 517.6 L1284.8 512.6 L1283.8 507.6 L1282.8 502.7 L1281.8 497.8 L1280.8 493 L1279.8 488.1 L1278.8 483.4 L1277.8 478.6 L1276.8 474 L1275.8 469.3 L1274.8 464.8 L1273.8 460.3 L1272.8 455.8 L1271.8 451.4 L1270.8 447.1 L1269.8 442.9 L1268.8 438.7 L1267.8 434.6 L1266.8 430.6 L1265.8 426.6 L1264.8 422.7 L1263.8 418.9 L1262.8 415.2 L1261.8 411.5 L1260.8 408 L1259.8 404.5 L1258.8 401.1 L1257.8 397.7 L1256.8 394.5 L1255.8 391.3 L1254.8 388.2 L1253.8 385.2 L1252.8 382.3 L1251.8 379.5 L1250.8 376.7 L1249.8 374.1 L1248.8 371.5 L1247.8 369 L1246.8 366.6 L1245.8 364.3 L1244.8 362 L1243.8 359.8 L1242.8 357.8 L1241.8 355.8 L1240.8 353.9 L1239.8 352.1 L1238.8 350.3 L1237.8 348.7 L1236.8 347.1 L1235.8 345.6 L1234.8 344.2 L1233.8 342.9 L1232.8 341.7 L1231.8 340.6 L1230.8 339.6 L1229.8 338.6 L1228.8 337.8 L1227.8 337 L1226.8 336.4 L1225.8 335.8 L1224.8 335.8 L1223.8 335.8 L1222.8 335.8 L1221.8 335.8 L1220.8 335.8 L1219.8 335.8 L1218.8 335.8 L1217.8 335.8 L1216.8 335.8 L1215.8 336.4 L1214.8 337.1 L1213.8 337.9 L1212.8 338.8 L1211.8 339.9 L1210.8 341 L1209.8 342.3 L1208.8 343.7 L1207.8 345.2 L1206.8 346.8 L1205.8 348.5 L1204.8 350.3 L1203.8 352.3 L1202.8 354.3 L1201.8 356.5 L1200.8 358.8 L1199.8 361.2 L1198.8 363.8 L1197.8 366.4 L1196.8 369.2 L1195.8 372.1 L1194.8 375.1 L1193.8 378.2 L1192.8 381.4 L1191.8 384.7 L1190.8 388.2 L1189.8 391.8 L1188.8 395.4 L1187.8 399.2 L1186.8 403.1 L1185.8 407 L1184.8 411.1 L1183.8 415.2 L1182.8 419.5 L1181.8 423.8 L1180.8 428.2 L1179.8 432.7 L1178.8 437.3 L1177.8 441.9 L1176.8 446.6 L1175.8 451.3 L1174.8 456.1 L1173.8 461 L1172.8 465.9 L1171.8 470.8 L1170.8 475.8 L1169.8 480.8 L1168.8 485.8 L1167.8 490.8 L1166.8 495.9 L1165.8 500.9 L1164.8 506 L1163.8 511 L1162.8 516.1 L1161.8 521.1 L1160.8 526.1 L1159.8 531.1 L1158.8 536.1 L1157.8 541 L1156.8 546 L1155.8 550.8 L1154.8 555.7 L1153.8 560.5 L1152.8 565.2 L1151.8 570 L1150.8 574.6 L1149.8 579.2 L1148.8 583.8 L1147.8 588.3 L1146.8 592.7 L1145.8 597.1 L1144.8 601.4 L1143.8 605.7 L1142.8 609.9 L1141.8 614 L1140.8 618.1 L1139.8 622.1 L1138.8 626 L1137.8 629.8 L1136.8 633.6 L1135.8 637.3 L1134.8 640.9 L1133.8 644.5 L1132.8 648 L1131.8 651.4 L1130.8 654.7 L1129.8 657.9 L1128.8 661.1 L1127.8 664.2 L1126.8 667.2 L1125.8 670.1 L1124.8 673 L1123.8 675.7 L1122.8 678.4 L1121.8 681 L1120.8 683.5 L1119.8 685.9 L1118.8 688.3 L1117.8 690.6 L1116.8 692.7 L1115.8 694.8 L1114.8 696.8 L1113.8 698.7 L1112.8 700.5 L1111.8 702.3 L1110.8 703.9 L1109.8 705.5 L1108.8 706.9 L1107.8 708.3 L1106.8 709.6 L1105.8 710.7 L1104.8 711.8 L1103.8 712.8 L1102.8 713.7 L1101.8 714.5 L1100.8 715.2 L1099.8 715.9 L1098.8 716.6 L1097.8 717.4 L1096.8 718.1 L1095.8 718.5 L1094.8 718.8 L1093.8 718.8 L1092.8 718.8 L1091.8 718.7 L1090.8 718.4 L1089.8 717.9 L1088.8 717.2 L1087.8 716.2 L1086.8 715.6 L1085.8 714.9 L1084.8 714.1 L1083.8 713.2 L1082.8 712.2 L1081.8 711.1 L1080.8 709.8 L1079.8 708.5 L1078.8 707 L1077.8 705.4 L1076.8 703.7 L1075.8 701.8 L1074.8 699.9 L1073.8 697.8 L1072.8 695.6 L1071.8 693.3 L1070.8 690.8 L1069.8 688.3 L1068.8 685.6 L1067.8 682.8 L1066.8 679.9 L1065.8 676.9 L1064.8 673.7 L1063.8 670.5 L1062.8 667.1 L1061.8 663.6 L1060.8 660 L1059.8 656.4 L1058.8 652.6 L1057.8 648.7 L1056.8 644.7 L1055.8 640.6 L1054.8 636.5 L1053.8 632.2 L1052.8 627.9 L1051.8 623.5 L1050.8 619 L1049.8 614.4 L1048.8 609.8 L1047.8 605.1 L1046.8 600.4 L1045.8 595.6 L1044.8 590.8 L1043.8 585.9 L1042.8 581 L1041.8 576 L1040.8 571 L1039.8 566 L1038.8 561 L1037.8 555.9 L1036.8 550.9 L1035.8 545.8 L1034.8 540.8 L1033.8 535.7 L1032.8 530.7 L1031.8 525.6 L1030.8 520.6 L1029.8 515.6 L1028.8 510.6 L1027.8 505.7 L1026.8 500.8 L1025.8 495.9 L1024.8 491 L1023.8 486.2 L1022.8 481.5 L1021.8 476.8 L1020.8 472.1 L1019.8 467.5 L1018.8 463 L1017.8 458.5 L1016.8 454.1 L1015.8 449.7 L1014.8 445.4 L1013.8 441.2 L1012.8 437 L1011.8 433 L1010.8 429 L1009.8 425 L1008.8 421.2 L1007.8 417.4 L1006.8 413.7 L1005.8 410.1 L1004.8 406.6 L1003.8 403.1 L1002.8 399.7 L1001.8 396.4 L1000.8 393.2 L999.8 390.1 L998.8 387 L997.8 384.1 L996.8 381.2 L995.8 378.4 L994.8 375.7 L993.8 373 L992.8 370.5 L991.8 368 L990.8 365.6 L989.8 363.3 L988.8 361.1 L987.8 359 L986.8 357 L985.8 355 L984.8 353.1 L983.8 351.4 L982.8 349.7 L981.8 348 L980.8 346.5 L979.8 345.1 L978.8 343.7 L977.8 342.4 L976.8 341.3 L975.8 340.2 L974.8 339.2 L973.8 338.3 L972.8 337.5 L971.8 336.8 L970.8 336.1 L969.8 335.7 L968.8 335.8 L967.8 335.8 L966.8 335.8 L965.8 335.8 L964.8 335.8 L963.8 335.8 L962.8 335.8 L961.8 335.7 L960.8 336.1 L959.8 336.7 L958.8 337.4 L957.8 338.3 L956.8 339.3 L955.8 340.3 L954.8 341.5 L953.8 342.8 L952.8 344.3 L951.8 345.8 L950.8 347.5 L949.8 349.2 L948.8 351.1 L947.8 353.1 L946.8 355.2 L945.8 357.4 L944.8 359.8 L943.8 362.2 L942.8 364.8 L941.8 367.5 L940.8 370.3 L939.8 373.2 L938.8 376.3 L937.8 379.5 L936.8 382.7 L935.8 386.1 L934.8 389.6 L933.8 393.2 L932.8 396.9 L931.8 400.7 L930.8 404.6 L929.8 408.6 L928.8 412.7 L927.8 416.9 L926.8 421.2 L925.8 425.6 L924.8 430 L923.8 434.5 L922.8 439.1 L921.8 443.8 L920.8 448.5 L919.8 453.3 L918.8 458.1 L917.8 462.9 L916.8 467.9 L915.8 472.8 L914.8 477.8 L913.8 482.8 L912.8 487.8 L911.8 492.8 L910.8 497.9 L909.8 502.9 L908.8 508 L907.8 513 L906.8 518.1 L905.8 523.1 L904.8 528.1 L903.8 533.1 L902.8 538.1 L901.8 543 L900.8 547.9 L899.8 552.8 L898.8 557.6 L897.8 562.4 L896.8 567.1 L895.8 571.8 L894.8 576.5 L893.8 581.1 L892.8 585.6 L891.8 590.1 L890.8 594.5 L889.8 598.9 L888.8 603.2 L887.8 607.4 L886.8 611.6 L885.8 615.7 L884.8 619.7 L883.8 623.6 L882.8 627.5 L881.8 631.4 L880.8 635.1 L879.8 638.8 L878.8 642.4 L877.8 645.9 L876.8 649.3 L875.8 652.7 L874.8 656 L873.8 659.2 L872.8 662.3 L871.8 665.4 L870.8 668.4 L869.8 671.3 L868.8 674.1 L867.8 676.8 L866.8 679.5 L865.8 682 L864.8 684.5 L863.8 686.9 L862.8 689.2 L861.8 691.4 L860.8 693.6 L859.8 695.6 L858.8 697.6 L857.8 699.5 L856.8 701.3 L855.8 702.9 L854.8 704.6 L853.8 706.1 L852.8 707.5 L851.8 708.8 L850.8 710 L849.8 711.2 L848.8 712.2 L847.8 713.2 L846.8 714.1 L845.8 714.8 L844.8 715.5 L843.8 716.1 L842.8 717 L841.8 717.7 L840.8 718.3 L839.8 718.6 L838.8 718.8 L837.8 718.8 L836.8 718.8 L835.8 718.6 L834.8 718.2 L833.8 717.6 L832.8 716.8 L831.8 716 L830.8 715.3 L829.8 714.6 L828.8 713.8 L827.8 712.8 L826.8 711.8 L825.8 710.6 L824.8 709.3 L823.8 707.9 L822.8 706.4 L821.8 704.7 L820.8 703 L819.8 701.1 L818.8 699.1 L817.8 696.9 L816.8 694.7 L815.8 692.3 L814.8 689.8 L813.8 687.2 L812.8 684.5 L811.8 681.7 L810.8 678.7 L809.8 675.6 L808.8 672.4 L807.8 669.1 L806.8 665.7 L805.8 662.2 L804.8 658.6 L803.8 654.9 L802.8 651 L801.8 647.1 L800.8 643.1 L799.8 639 L798.8 634.8 L797.8 630.5 L796.8 626.1 L795.8 621.7 L794.8 617.2 L793.8 612.6 L792.8 607.9 L791.8 603.2 L790.8 598.5 L789.8 593.7 L788.8 588.8 L787.8 583.9 L786.8 579 L785.8 574 L784.8 569 L783.8 564 L782.8 559 L781.8 553.9 L780.8 548.9 L779.8 543.8 L778.8 538.8 L777.8 533.7 L776.8 528.7 L775.8 523.6 L774.8 518.6 L773.8 513.6 L772.8 508.6 L771.8 503.7 L770.8 498.8 L769.8 493.9 L768.8 489.1 L767.8 484.3 L766.8 479.6 L765.8 474.9 L764.8 470.3 L763.8 465.7 L762.8 461.2 L761.8 456.7 L760.8 452.3 L759.8 448 L758.8 443.7 L757.8 439.5 L756.8 435.4 L755.8 431.4 L754.8 427.4 L753.8 423.5 L752.8 419.7 L751.8 415.9 L750.8 412.3 L749.8 408.7 L748.8 405.2 L747.8 401.7 L746.8 398.4 L745.8 395.1 L744.8 392 L743.8 388.9 L742.8 385.8 L741.8 382.9 L740.8 380.1 L739.8 377.3 L738.8 374.6 L737.8 372 L736.8 369.5 L735.8 367.1 L734.8 364.7 L733.8 362.4 L732.8 360.3 L731.8 358.2 L730.8 356.2 L729.8 354.2 L728.8 352.4 L727.8 350.7 L726.8 349 L725.8 347.4 L724.8 345.9 L723.8 344.5 L722.8 343.2 L721.8 342 L720.8 340.8 L719.8 339.8 L718.8 338.8 L717.8 338 L716.8 337.2 L715.8 336.5 L714.8 335.9 L713.8 335.8 L712.8 335.8 L711.8 335.8 L710.8 335.8 L709.8 335.8 L708.8 335.8 L707.8 335.8 L706.8 335.8 L705.8 335.7 L704.8 336.3 L703.8 337 L702.8 337.8 L701.8 338.7 L700.8 339.7 L699.8 340.8 L698.8 342 L697.8 343.4 L696.8 344.9 L695.8 346.4 L694.8 348.1 L693.8 349.9 L692.8 351.9 L691.8 353.9 L690.8 356.1 L689.8 358.3 L688.8 360.7 L687.8 363.2 L686.8 365.9 L685.8 368.6 L684.8 371.5 L683.8 374.5 L682.8 377.5 L681.8 380.7 L680.8 384.1 L679.8 387.5 L678.8 391 L677.8 394.7 L676.8 398.4 L675.8 402.3 L674.8 406.2 L673.8 410.3 L672.8 414.4 L671.8 418.6 L670.8 422.9 L669.8 427.3 L668.8 431.8 L667.8 436.4 L666.8 441 L665.8 445.7 L664.8 450.4 L663.8 455.2 L662.8 460 L661.8 464.9 L660.8 469.8 L659.8 474.8 L658.8 479.8 L657.8 484.8 L656.8 489.8 L655.8 494.9 L654.8 499.9 L653.8 505 L652.8 510 L651.8 515.1 L650.8 520.1 L649.8 525.1 L648.8 530.1 L647.8 535.1 L646.8 540.1 L645.8 545 L644.8 549.9 L643.8 554.7 L642.8 559.5 L641.8 564.3 L640.8 569 L639.8 573.7 L638.8 578.3 L637.8 582.9 L636.8 587.4 L635.8 591.9 L634.8 596.2 L633.8 600.6 L632.8 604.9 L631.8 609.1 L630.8 613.2 L629.8 617.3 L628.8 621.3 L627.8 625.2 L626.8 629.1 L625.8 632.9 L624.8 636.6 L623.8 640.2 L622.8 643.8 L621.8 647.3 L620.8 650.7 L619.8 654 L618.8 657.3 L617.8 660.5 L616.8 663.6 L615.8 666.6 L614.8 669.5 L613.8 672.4 L612.8 675.2 L611.8 677.9 L610.8 680.5 L609.8 683 L608.8 685.5 L607.8 687.8 L606.8 690.1 L605.8 692.3 L604.8 694.4 L603.8 696.4 L602.8 698.3 L601.8 700.2 L600.8 701.9 L599.8 703.6 L598.8 705.2 L597.8 706.6 L596.8 708 L595.8 709.3 L594.8 710.5 L593.8 711.6 L592.8 712.6 L591.8 713.5 L590.8 714.4 L589.8 715.1 L588.8 715.7 L587.8 716.4 L586.8 717.3 L585.8 718 L584.8 718.4 L583.8 718.7 L582.8 718.8 L581.8 718.8 L580.8 718.7 L579.8 718.5 L578.8 718 L577.8 717.3 L576.8 716.4 L575.8 715.7 L574.8 715.1 L573.8 714.3 L572.8 713.4 L571.8 712.4 L570.8 711.3 L569.8 710.1 L568.8 708.8 L567.8 707.3 L566.8 705.7 L565.8 704 L564.8 702.2 L563.8 700.3 L562.8 698.2 L561.8 696.1 L560.8 693.8 L559.8 691.3 L558.8 688.8 L557.8 686.2 L556.8 683.4 L555.8 680.5 L554.8 677.5 L553.8 674.4 L552.8 671.1 L551.8 667.8 L550.8 664.3 L549.8 660.8 L548.8 657.1 L547.8 653.3 L546.8 649.5 L545.8 645.5 L544.8 641.4 L543.8 637.3 L542.8 633.1 L541.8 628.8 L540.8 624.4 L539.8 619.9 L538.8 615.3 L537.8 610.7 L536.8 606.1 L535.8 601.3 L534.8 596.6 L533.8 591.7 L532.8 586.9 L531.8 581.9 L530.8 577 L529.8 572 L528.8 567 L527.8 562 L526.8 557 L525.8 551.9 L524.8 546.9 L523.8 541.8 L522.8 536.7 L521.8 531.7 L520.8 526.6 L519.8 521.6 L518.8 516.6 L517.8 511.6 L516.8 506.7 L515.8 501.7 L514.8 496.8 L513.8 492 L512.8 487.2 L511.8 482.4 L510.8 477.7 L509.8 473 L508.8 468.4 L507.8 463.9 L506.8 459.4 L505.8 454.9 L504.8 450.6 L503.8 446.3 L502.8 442 L501.8 437.9 L500.8 433.8 L499.8 429.8 L498.8 425.8 L497.8 422 L496.8 418.2 L495.8 414.5 L494.8 410.8 L493.8 407.3 L492.8 403.8 L491.8 400.4 L490.8 397.1 L489.8 393.9 L488.8 390.7 L487.8 387.6 L486.8 384.7 L485.8 381.8 L484.8 378.9 L483.8 376.2 L482.8 373.6 L481.8 371 L480.8 368.5 L479.8 366.1 L478.8 363.8 L477.8 361.6 L476.8 359.4 L475.8 357.4 L474.8 355.4 L473.8 353.5 L472.8 351.7 L471.8 350 L470.8 348.4 L469.8 346.8 L468.8 345.3 L467.8 344 L466.8 342.7 L465.8 341.5 L464.8 340.4 L463.8 339.4 L462.8 338.5 L461.8 337.6 L460.8 336.9 L459.8 336.3 L458.8 335.7 L457.8 335.8 L456.8 335.8 L455.8 335.8 L454.8 335.8 L453.8 335.8 L452.8 335.8 L451.8 335.8 L450.8 335.8 L449.8 335.9 L448.8 336.6 L447.8 337.3 L446.8 338.1 L445.8 339 L444.8 340.1 L443.8 341.3 L442.8 342.6 L441.8 344 L440.8 345.5 L439.8 347.1 L438.8 348.9 L437.8 350.7 L436.8 352.7 L435.8 354.8 L434.8 357 L433.8 359.3 L432.8 361.7 L431.8 364.3 L430.8 367 L429.8 369.7 L428.8 372.7 L427.8 375.7 L426.8 378.8 L425.8 382.1 L424.8 385.4 L423.8 388.9 L422.8 392.5 L421.8 396.2 L420.8 400 L419.8 403.8 L418.8 407.8 L417.8 411.9 L416.8 416.1 L415.8 420.4 L414.8 424.7 L413.8 429.1 L412.8 433.6 L411.8 438.2 L410.8 442.8 L409.8 447.5 L408.8 452.3 L407.8 457.1 L406.8 462 L405.8 466.9 L404.8 471.8 L403.8 476.8 L402.8 481.8 L401.8 486.8 L400.8 491.8 L399.8 496.9 L398.8 501.9 L397.8 507 L396.8 512 L395.8 517.1 L394.8 522.1 L393.8 527.1 L392.8 532.1 L391.8 537.1 L390.8 542 L389.8 546.9 L388.8 551.8 L387.8 556.6 L386.8 561.4 L385.8 566.2 L384.8 570.9 L383.8 575.5 L382.8 580.1 L381.8 584.7 L380.8 589.2 L379.8 593.6 L378.8 598 L377.8 602.3 L376.8 606.5 L375.8 610.7 L374.8 614.8 L373.8 618.9 L372.8 622.9 L371.8 626.8 L370.8 630.6 L369.8 634.4 L368.8 638 L367.8 641.7 L366.8 645.2 L365.8 648.7 L364.8 652 L363.8 655.3 L362.8 658.6 L361.8 661.7 L360.8 664.8 L359.8 667.8 L358.8 670.7 L357.8 673.5 L356.8 676.3 L355.8 678.9 L354.8 681.5 L353.8 684 L352.8 686.4 L351.8 688.8 L350.8 691 L349.8 693.2 L348.8 695.2 L347.8 697.2 L346.8 699.1 L345.8 700.9 L344.8 702.6 L343.8 704.2 L342.8 705.8 L341.8 707.2 L340.8 708.6 L339.8 709.8 L338.8 711 L337.8 712 L336.8 713 L335.8 713.9 L334.8 714.7 L333.8 715.4 L332.8 716 L331.8 716.8 L330.8 717.6 L329.8 718.2 L328.8 718.6 L327.8 718.8 L326.8 718.8 L325.8 718.8 L324.8 718.7 L323.8 718.3 L322.8 717.7 L321.8 717 L320.8 716.1 L319.8 715.5 L318.8 714.8 L317.8 713.9 L316.8 713 L315.8 712 L314.8 710.8 L313.8 709.6 L312.8 708.2 L311.8 706.7 L310.8 705.1 L309.8 703.3 L308.8 701.5 L307.8 699.5 L306.8 697.4 L305.8 695.2 L304.8 692.8 L303.8 690.3 L302.8 687.8 L301.8 685.1 L300.8 682.2 L299.8 679.3 L298.8 676.3 L297.8 673.1 L296.8 669.8 L295.8 666.4 L294.8 662.9 L293.8 659.3 L292.8 655.6 L291.8 651.8 L290.8 647.9 L289.8 643.9 L288.8 639.8 L287.8 635.6 L286.8 631.3 L285.8 627 L284.8 622.6 L283.8 618.1 L282.8 613.5 L281.8 608.9 L280.8 604.2 L279.8 599.4 L278.8 594.6 L277.8 589.8 L276.8 584.9 L275.8 580 L274.8 575 L273.8 570 L272.8 565 L271.8 560 L270.8 554.9 L269.8 549.9 L268.8 544.8 L267.8 539.8 L266.8 534.7 L265.8 529.7 L264.8 524.6 L263.8 519.6 L262.8 514.6 L261.8 509.6 L260.8 504.7 L259.8 499.8 L258.8 494.9 L257.8 490.1 L256.8 485.3 L255.8 480.5 L254.8 475.8 L253.8 471.2 L252.8 466.6 L251.8 462.1 L250.8 457.6 L249.8 453.2 L248.8 448.8 L247.8 444.6 L246.8 440.4 L245.8 436.2 L244.8 432.2 L243.8 428.2 L242.8 424.3 L241.8 420.4 L240.8 416.7 L239.8 413 L238.8 409.4 L237.8 405.9 L236.8 402.4 L235.8 399.1 L234.8 395.8 L233.8 392.6 L232.8 389.5 L231.8 386.4 L230.8 383.5 L229.8 380.6 L228.8 377.8 L227.8 375.1 L226.8 372.5 L225.8 370 L224.8 367.5 L223.8 365.2 L222.8 362.9 L221.8 360.7 L220.8 358.6 L219.8 356.6 L218.8 354.6 L217.8 352.8 L216.8 351 L215.8 349.3 L214.8 347.7 L213.8 346.2 L212.8 344.8 L211.8 343.5 L210.8 342.2 L209.8 341 L208.8 340 L207.8 339 L206.8 338.1 L205.8 337.3 L204.8 336.6 L203.8 336 L202.8 335.7 L201.8 335.8 L200.8 335.8 L199.8 335.8 L198.8 335.8 L197.8 335.8 L196.8 335.8 L195.8 335.8 L194.8 335.7 L193.8 336.2 L192.8 336.8 L191.8 337.6 L190.8 338.5 L189.8 339.5 L188.8 340.6 L187.8 341.8 L186.8 343.1 L185.8 344.6 L184.8 346.1 L183.8 347.8 L182.8 349.6 L181.8 351.5 L180.8 353.5 L179.8 355.6 L178.8 357.9 L177.8 360.2 L176.8 362.7 L175.8 365.3 L174.8 368.1 L173.8 370.9 L172.8 373.8 L171.8 376.9 L170.8 380.1 L169.8 383.4 L168.8 386.8 L167.8 390.3 L166.8 393.9 L165.8 397.7 L164.8 401.5 L163.8 405.4 L162.8 409.5 L161.8 413.6 L160.8 417.8 L159.8 422.1 L158.8 426.5 L157.8 430.9 L156.8 435.4 L155.8 440 L154.8 444.7 L153.8 449.4 L152.8 454.2 L151.8 459 L150.8 463.9 L149.8 468.8 L148.8 473.8 L147.8 478.8 L146.8 483.8 L145.8 488.8 L144.8 493.8 L143.8 498.9 L142.8 504 L141.8 509 L140.8 514.1 L139.8 519.1 L138.8 524.1 L137.8 529.1 L136.8 534.1 L135.8 539.1 L134.8 544 L133.8 548.9 L132.8 553.8 L131.8 558.6 L130.8 563.3 L129.8 568.1 L128.8 572.8 L127.8 577.4 L126.8 582 L125.8 586.5 L124.8 591 L123.8 595.4 L122.8 599.7 L121.8 604 L120.8 608.2 L119.8 612.4 L118.8 616.5 L117.8 620.5 L116.8 624.4 L115.8 628.3 L114.8 632.1 L113.8 635.8 L112.8 639.5 L111.8 643.1 L110.8 646.6 L109.8 650 L108.8 653.4 L107.8 656.6 L106.8 659.8 L105.8 663 L104.8 666 L103.8 669 L102.8 671.8 L101.8 674.6 L100.8 677.3 L99.8 680 L98.8 682.5 L97.8 685 L96.8 687.4 L95.8 689.7 L94.8 691.9 L93.8 694 L92.8 696 L91.8 698 L90.8 699.8 L89.8 701.6 L88.8 703.3 L87.8 704.9 L86.8 706.4 L85.8 707.8 L84.8 709.1 L83.8 710.3 L82.8 711.4 L81.8 712.4 L80.8 713.4 L79.8 714.2 L78.8 715 L77.8 715.6 L76.8 716.2 L75.8 717.1 L74.8 717.8 L73.8 718.4 L72.8 718.7 L71.8 718.8 L70.8 718.8 L69.8 718.8 L68.8 718.5 L67.8 718.1 L66.8 717.5 L65.8 716.6 L64.8 715.8 Z"/>
<path fill="#ff9600" fill-opacity="0.45" d="M64.5 813.3 L65.5 814.7 L66.5 815.9 L67.5 816.9 L68.5 817.3 L69.5 817.2 L70.5 817.1 L71.5 817.1 L72.5 817.1 L73.5 817.1 L74.5 817.2 L75.5 817.2 L76.5 817.3 L77.5 816.7 L78.5 815.7 L79.5 814.5 L80.5 813.2 L81.5 811.7 L82.5 810.1 L83.5 808.4 L84.5 806.5 L85.5 804.5 L86.5 802.3 L87.5 800 L88.5 797.6 L89.5 795 L90.5 792.3 L91.5 789.4 L92.5 786.4 L93.5 783.3 L94.5 780 L95.5 776.6 L96.5 773.1 L97.5 769.4 L98.5 765.6 L99.5 761.7 L100.5 757.6 L101.5 753.4 L102.5 749.1 L103.5 744.6 L104.5 739.9 L105.5 735.2 L106.5 730.3 L107.5 725.3 L108.5 720.1 L109.5 714.8 L110.5 709.4 L111.5 703.8 L112.5 698.1 L113.5 692.3 L114.5 686.4 L115.5 680.3 L116.5 674.1 L117.5 667.8 L118.5 661.3 L119.5 654.8 L120.5 648.1 L121.5 641.3 L122.5 634.4 L123.5 627.3 L124.5 620.2 L125.5 613 L126.5 605.7 L127.5 598.2 L128.5 590.7 L129.5 583.1 L130.5 575.5 L131.5 567.7 L132.5 559.9 L133.5 552 L134.5 544.1 L135.5 536.1 L136.5 528.1 L137.5 520.1 L138.5 512 L139.5 503.9 L140.5 495.8 L141.5 487.7 L142.5 479.5 L143.5 471.4 L144.5 463.3 L145.5 455.3 L146.5 447.2 L147.5 439.2 L148.5 431.3 L149.5 423.4 L150.5 415.6 L151.5 407.8 L152.5 400.2 L153.5 392.6 L154.5 385.1 L155.5 377.7 L156.5 370.4 L157.5 363.3 L158.5 356.2 L159.5 349.3 L160.5 342.6 L161.5 335.9 L162.5 329.5 L163.5 323.1 L164.5 317 L165.5 311 L166.5 305.1 L167.5 299.5 L168.5 294 L169.5 288.6 L170.5 283.5 L171.5 278.5 L172.5 273.8 L173.5 269.2 L174.5 264.8 L175.5 260.6 L176.5 256.6 L177.5 252.7 L178.5 249.1 L179.5 245.7 L180.5 242.4 L181.5 239.3 L182.5 236.4 L183.5 233.7 L184.5 231.2 L185.5 228.9 L186.5 226.8 L187.5 224.8 L188.5 223 L189.5 221.3 L190.5 219.9 L191.5 218.6 L192.5 217.5 L193.5 216.5 L194.5 215 L195.5 213.8 L196.5 212.8 L197.5 212.1 L198.5 211.7 L199.5 211.5 L200.5 211.5 L201.5 211.6 L202.5 212 L203.5 212.6 L204.5 213.5 L205.5 214.6 L206.5 216.1 L207.5 217.1 L208.5 218.1 L209.5 219.3 L210.5 220.6 L211.5 222 L212.5 223.6 L213.5 225.4 L214.5 227.3 L215.5 229.3 L216.5 231.5 L217.5 233.8 L218.5 236.2 L219.5 238.8 L220.5 241.5 L221.5 244.4 L222.5 247.3 L223.5 250.5 L224.5 253.8 L225.5 257.2 L226.5 260.7 L227.5 264.4 L228.5 268.2 L229.5 272.2 L230.5 276.3 L231.5 280.5 L232.5 284.8 L233.5 289.3 L234.5 294 L235.5 298.7 L236.5 303.6 L237.5 308.6 L238.5 313.8 L239.5 319 L240.5 324.4 L241.5 330 L242.5 335.6 L243.5 341.4 L244.5 347.3 L245.5 353.3 L246.5 359.5 L247.5 365.8 L248.5 372.2 L249.5 378.7 L250.5 385.3 L251.5 392 L252.5 398.8 L253.5 405.8 L254.5 412.8 L255.5 420 L256.5 427.2 L257.5 434.5 L258.5 442 L259.5 449.5 L260.5 457.1 L261.5 464.7 L262.5 472.5 L263.5 480.3 L264.5 488.1 L265.5 496 L266.5 504 L267.5 512 L268.5 520.1 L269.5 528.1 L270.5 536.2 L271.5 544.3 L272.5 552.5 L273.5 560.6 L274.5 568.7 L275.5 576.7 L276.5 584.8 L277.5 592.8 L278.5 600.8 L279.5 608.7 L280.5 616.6 L281.5 624.4 L282.5 632.1 L283.5 639.7 L284.5 647.3 L285.5 654.7 L286.5 662 L287.5 669.2 L288.5 676.3 L289.5 683.3 L290.5 690.1 L291.5 696.8 L292.5 703.3 L293.5 709.7 L294.5 715.9 L295.5 721.9 L296.5 727.8 L297.5 733.5 L298.5 739 L299.5 744.4 L300.5 749.5 L301.5 754.5 L302.5 759.3 L303.5 763.9 L304.5 768.3 L305.5 772.6 L306.5 776.6 L307.5 780.5 L308.5 784.1 L309.5 787.6 L310.5 790.9 L311.5 794 L312.5 797 L313.5 799.7 L314.5 802.3 L315.5 804.7 L316.5 806.9 L317.5 808.9 L318.5 810.7 L319.5 812.4 L320.5 813.8 L321.5 815.2 L322.5 816.3 L323.5 817.3 L324.5 817.3 L325.5 817.2 L326.5 817.1 L327.5 817.1 L328.5 817.1 L329.5 817.1 L330.5 817.2 L331.5 817.3 L332.5 817.2 L333.5 816.3 L334.5 815.2 L335.5 814 L336.5 812.6 L337.5 811.1 L338.5 809.5 L339.5 807.7 L340.5 805.7 L341.5 803.7 L342.5 801.4 L343.5 799.1 L344.5 796.6 L345.5 793.9 L346.5 791.1 L347.5 788.2 L348.5 785.2 L349.5 782 L350.5 778.7 L351.5 775.2 L352.5 771.7 L353.5 767.9 L354.5 764.1 L355.5 760.1 L356.5 755.9 L357.5 751.7 L358.5 747.3 L359.5 742.7 L360.5 738.1 L361.5 733.3 L362.5 728.3 L363.5 723.2 L364.5 718 L365.5 712.7 L366.5 707.2 L367.5 701.6 L368.5 695.8 L369.5 690 L370.5 684 L371.5 677.8 L372.5 671.6 L373.5 665.2 L374.5 658.7 L375.5 652.1 L376.5 645.4 L377.5 638.5 L378.5 631.6 L379.5 624.5 L380.5 617.3 L381.5 610.1 L382.5 602.7 L383.5 595.2 L384.5 587.7 L385.5 580.1 L386.5 572.4 L387.5 564.6 L388.5 556.8 L389.5 548.9 L390.5 540.9 L391.5 532.9 L392.5 524.9 L393.5 516.8 L394.5 508.7 L395.5 500.6 L396.5 492.5 L397.5 484.4 L398.5 476.3 L399.5 468.2 L400.5 460.1 L401.5 452.1 L402.5 444 L403.5 436.1 L404.5 428.1 L405.5 420.3 L406.5 412.5 L407.5 404.8 L408.5 397.1 L409.5 389.6 L410.5 382.1 L411.5 374.8 L412.5 367.6 L413.5 360.4 L414.5 353.5 L415.5 346.6 L416.5 339.9 L417.5 333.3 L418.5 326.9 L419.5 320.6 L420.5 314.5 L421.5 308.6 L422.5 302.8 L423.5 297.2 L424.5 291.8 L425.5 286.6 L426.5 281.5 L427.5 276.6 L428.5 271.9 L429.5 267.4 L430.5 263.1 L431.5 259 L432.5 255 L433.5 251.3 L434.5 247.7 L435.5 244.3 L436.5 241.1 L437.5 238.1 L438.5 235.3 L439.5 232.7 L440.5 230.3 L441.5 228 L442.5 226 L443.5 224 L444.5 222.3 L445.5 220.7 L446.5 219.3 L447.5 218.1 L448.5 217.1 L449.5 216 L450.5 214.5 L451.5 213.3 L452.5 212.5 L453.5 211.9 L454.5 211.6 L455.5 211.5 L456.5 211.5 L457.5 211.7 L458.5 212.2 L459.5 212.9 L460.5 213.9 L461.5 215.2 L462.5 216.6 L463.5 217.5 L464.5 218.6 L465.5 219.8 L466.5 221.2 L467.5 222.7 L468.5 224.3 L469.5 226.1 L470.5 228.1 L471.5 230.2 L472.5 232.4 L473.5 234.7 L474.5 237.2 L475.5 239.8 L476.5 242.6 L477.5 245.5 L478.5 248.6 L479.5 251.8 L480.5 255.1 L481.5 258.6 L482.5 262.2 L483.5 265.9 L484.5 269.8 L485.5 273.8 L486.5 277.9 L487.5 282.2 L488.5 286.6 L489.5 291.2 L490.5 295.8 L491.5 300.7 L492.5 305.6 L493.5 310.7 L494.5 315.9 L495.5 321.2 L496.5 326.6 L497.5 332.2 L498.5 337.9 L499.5 343.8 L500.5 349.7 L501.5 355.8 L502.5 362 L503.5 368.3 L504.5 374.7 L505.5 381.3 L506.5 388 L507.5 394.7 L508.5 401.6 L509.5 408.6 L510.5 415.7 L511.5 422.9 L512.5 430.1 L513.5 437.5 L514.5 445 L515.5 452.5 L516.5 460.1 L517.5 467.8 L518.5 475.6 L519.5 483.4 L520.5 491.3 L521.5 499.2 L522.5 507.2 L523.5 515.2 L524.5 523.3 L525.5 531.4 L526.5 539.5 L527.5 547.6 L528.5 555.7 L529.5 563.8 L530.5 571.9 L531.5 580 L532.5 588 L533.5 596 L534.5 604 L535.5 611.9 L536.5 619.7 L537.5 627.5 L538.5 635.2 L539.5 642.8 L540.5 650.3 L541.5 657.7 L542.5 664.9 L543.5 672.1 L544.5 679.1 L545.5 686 L546.5 692.8 L547.5 699.4 L548.5 705.9 L549.5 712.2 L550.5 718.3 L551.5 724.3 L552.5 730.1 L553.5 735.7 L554.5 741.2 L555.5 746.4 L556.5 751.5 L557.5 756.4 L558.5 761.2 L559.5 765.7 L560.5 770.1 L561.5 774.2 L562.5 778.2 L563.5 782 L564.5 785.6 L565.5 789 L566.5 792.2 L567.5 795.2 L568.5 798.1 L569.5 800.8 L570.5 803.3 L571.5 805.6 L572.5 807.7 L573.5 809.6 L574.5 811.4 L575.5 813 L576.5 814.4 L577.5 815.6 L578.5 816.7 L579.5 817.3 L580.5 817.2 L581.5 817.1 L582.5 817.1 L583.5 817.1 L584.5 817.1 L585.5 817.1 L586.5 817.2 L587.5 817.3 L588.5 816.9 L589.5 815.9 L590.5 814.7 L591.5 813.5 L592.5 812 L593.5 810.5 L594.5 808.8 L595.5 806.9 L596.5 804.9 L597.5 802.8 L598.5 800.5 L599.5 798.1 L600.5 795.5 L601.5 792.8 L602.5 790 L603.5 787 L604.5 783.9 L605.5 780.7 L606.5 777.3 L607.5 773.8 L608.5 770.2 L609.5 766.4 L610.5 762.5 L611.5 758.4 L612.5 754.3 L613.5 749.9 L614.5 745.5 L615.5 740.9 L616.5 736.2 L617.5 731.3 L618.5 726.3 L619.5 721.2 L620.5 715.9 L621.5 710.5 L622.5 705 L623.5 699.3 L624.5 693.5 L625.5 687.6 L626.5 681.5 L627.5 675.4 L628.5 669.1 L629.5 662.6 L630.5 656.1 L631.5 649.4 L632.5 642.6 L633.5 635.7 L634.5 628.7 L635.5 621.6 L636.5 614.4 L637.5 607.1 L638.5 599.7 L639.5 592.2 L640.5 584.7 L641.5 577 L642.5 569.3 L643.5 561.5 L644.5 553.6 L645.5 545.7 L646.5 537.7 L647.5 529.7 L648.5 521.7 L649.5 513.6 L650.5 505.5 L651.5 497.4 L652.5 489.3 L653.5 481.2 L654.5 473 L655.5 465 L656.5 456.9 L657.5 448.8 L658.5 440.8 L659.5 432.9 L660.5 425 L661.5 417.1 L662.5 409.4 L663.5 401.7 L664.5 394.1 L665.5 386.6 L666.5 379.2 L667.5 371.9 L668.5 364.7 L669.5 357.6 L670.5 350.7 L671.5 343.9 L672.5 337.2 L673.5 330.7 L674.5 324.4 L675.5 318.2 L676.5 312.1 L677.5 306.3 L678.5 300.6 L679.5 295 L680.5 289.7 L681.5 284.5 L682.5 279.5 L683.5 274.7 L684.5 270.1 L685.5 265.7 L686.5 261.4 L687.5 257.4 L688.5 253.5 L689.5 249.8 L690.5 246.3 L691.5 243 L692.5 239.9 L693.5 237 L694.5 234.3 L695.5 231.7 L696.5 229.4 L697.5 227.2 L698.5 225.2 L699.5 223.3 L700.5 221.6 L701.5 220.1 L702.5 218.8 L703.5 217.7 L704.5 216.7 L705.5 215.3 L706.5 214 L707.5 213 L708.5 212.2 L709.5 211.8 L710.5 211.5 L711.5 211.5 L712.5 211.6 L713.5 211.9 L714.5 212.5 L715.5 213.3 L716.5 214.4 L717.5 215.8 L718.5 216.9 L719.5 217.9 L720.5 219 L721.5 220.3 L722.5 221.7 L723.5 223.3 L724.5 225 L725.5 226.9 L726.5 228.9 L727.5 231 L728.5 233.3 L729.5 235.7 L730.5 238.2 L731.5 240.9 L732.5 243.8 L733.5 246.7 L734.5 249.8 L735.5 253.1 L736.5 256.5 L737.5 260 L738.5 263.7 L739.5 267.4 L740.5 271.4 L741.5 275.4 L742.5 279.6 L743.5 284 L744.5 288.4 L745.5 293 L746.5 297.8 L747.5 302.6 L748.5 307.6 L749.5 312.7 L750.5 318 L751.5 323.3 L752.5 328.9 L753.5 334.5 L754.5 340.2 L755.5 346.1 L756.5 352.1 L757.5 358.3 L758.5 364.5 L759.5 370.9 L760.5 377.3 L761.5 383.9 L762.5 390.6 L763.5 397.5 L764.5 404.4 L765.5 411.4 L766.5 418.5 L767.5 425.8 L768.5 433.1 L769.5 440.5 L770.5 448 L771.5 455.5 L772.5 463.2 L773.5 470.9 L774.5 478.7 L775.5 486.6 L776.5 494.5 L777.5 502.4 L778.5 510.4 L779.5 518.5 L780.5 526.5 L781.5 534.6 L782.5 542.7 L783.5 550.8 L784.5 558.9 L785.5 567 L786.5 575.1 L787.5 583.2 L788.5 591.2 L789.5 599.2 L790.5 607.2 L791.5 615 L792.5 622.8 L793.5 630.6 L794.5 638.2 L795.5 645.8 L796.5 653.2 L797.5 660.6 L798.5 667.8 L799.5 674.9 L800.5 681.9 L801.5 688.7 L802.5 695.4 L803.5 702 L804.5 708.4 L805.5 714.6 L806.5 720.7 L807.5 726.6 L808.5 732.4 L809.5 737.9 L810.5 743.3 L811.5 748.5 L812.5 753.5 L813.5 758.4 L814.5 763 L815.5 767.5 L816.5 771.7 L817.5 775.8 L818.5 779.7 L819.5 783.4 L820.5 787 L821.5 790.3 L822.5 793.4 L823.5 796.4 L824.5 799.2 L825.5 801.8 L826.5 804.2 L827.5 806.5 L828.5 808.5 L829.5 810.4 L830.5 812 L831.5 813.6 L832.5 814.9 L833.5 816.1 L834.5 817.1 L835.5 817.3 L836.5 817.2 L837.5 817.1 L838.5 817.1 L839.5 817.1 L840.5 817.1 L841.5 817.2 L842.5 817.3 L843.5 817.4 L844.5 816.5 L845.5 815.4 L846.5 814.2 L847.5 812.9 L848.5 811.4 L849.5 809.8 L850.5 808 L851.5 806.1 L852.5 804.1 L853.5 801.9 L854.5 799.5 L855.5 797.1 L856.5 794.5 L857.5 791.7 L858.5 788.8 L859.5 785.8 L860.5 782.7 L861.5 779.4 L862.5 775.9 L863.5 772.4 L864.5 768.7 L865.5 764.9 L866.5 760.9 L867.5 756.8 L868.5 752.5 L869.5 748.2 L870.5 743.7 L871.5 739 L872.5 734.2 L873.5 729.3 L874.5 724.3 L875.5 719.1 L876.5 713.7 L877.5 708.3 L878.5 702.7 L879.5 697 L880.5 691.2 L881.5 685.2 L882.5 679.1 L883.5 672.8 L884.5 666.5 L885.5 660 L886.5 653.4 L887.5 646.7 L888.5 639.9 L889.5 633 L890.5 625.9 L891.5 618.8 L892.5 611.5 L893.5 604.2 L894.5 596.7 L895.5 589.2 L896.5 581.6 L897.5 573.9 L898.5 566.2 L899.5 558.3 L900.5 550.5 L901.5 542.5 L902.5 534.5 L903.5 526.5 L904.5 518.4 L905.5 510.4 L906.5 502.3 L907.5 494.1 L908.5 486 L909.5 477.9 L910.5 469.8 L911.5 461.7 L912.5 453.7 L913.5 445.6 L914.5 437.6 L915.5 429.7 L916.5 421.8 L917.5 414 L918.5 406.3 L919.5 398.6 L920.5 391.1 L921.5 383.6 L922.5 376.2 L923.5 369 L924.5 361.9 L925.5 354.8 L926.5 348 L927.5 341.2 L928.5 334.6 L929.5 328.2 L930.5 321.9 L931.5 315.7 L932.5 309.8 L933.5 304 L934.5 298.3 L935.5 292.9 L936.5 287.6 L937.5 282.5 L938.5 277.6 L939.5 272.8 L940.5 268.3 L941.5 263.9 L942.5 259.8 L943.5 255.8 L944.5 252 L945.5 248.4 L946.5 245 L947.5 241.8 L948.5 238.7 L949.5 235.9 L950.5 233.2 L951.5 230.8 L952.5 228.5 L953.5 226.4 L954.5 224.4 L955.5 222.6 L956.5 221 L957.5 219.6 L958.5 218.3 L959.5 217.3 L960.5 216.3 L961.5 214.8 L962.5 213.6 L963.5 212.6 L964.5 212 L965.5 211.6 L966.5 211.5 L967.5 211.5 L968.5 211.7 L969.5 212.1 L970.5 212.7 L971.5 213.7 L972.5 214.9 L973.5 216.4 L974.5 217.3 L975.5 218.3 L976.5 219.5 L977.5 220.9 L978.5 222.4 L979.5 224 L980.5 225.8 L981.5 227.7 L982.5 229.7 L983.5 231.9 L984.5 234.2 L985.5 236.7 L986.5 239.3 L987.5 242.1 L988.5 244.9 L989.5 248 L990.5 251.1 L991.5 254.4 L992.5 257.9 L993.5 261.4 L994.5 265.2 L995.5 269 L996.5 273 L997.5 277.1 L998.5 281.3 L999.5 285.7 L1000.5 290.2 L1001.5 294.9 L1002.5 299.7 L1003.5 304.6 L1004.5 309.6 L1005.5 314.8 L1006.5 320.1 L1007.5 325.5 L1008.5 331.1 L1009.5 336.8 L1010.5 342.6 L1011.5 348.5 L1012.5 354.6 L1013.5 360.7 L1014.5 367 L1015.5 373.4 L1016.5 380 L1017.5 386.6 L1018.5 393.4 L1019.5 400.2 L1020.5 407.2 L1021.5 414.2 L1022.5 421.4 L1023.5 428.7 L1024.5 436 L1025.5 443.5 L1026.5 451 L1027.5 458.6 L1028.5 466.3 L1029.5 474 L1030.5 481.8 L1031.5 489.7 L1032.5 497.6 L1033.5 505.6 L1034.5 513.6 L1035.5 521.7 L1036.5 529.8 L1037.5 537.9 L1038.5 546 L1039.5 554.1 L1040.5 562.2 L1041.5 570.3 L1042.5 578.4 L1043.5 586.4 L1044.5 594.4 L1045.5 602.4 L1046.5 610.3 L1047.5 618.2 L1048.5 625.9 L1049.5 633.6 L1050.5 641.3 L1051.5 648.8 L1052.5 656.2 L1053.5 663.5 L1054.5 670.7 L1055.5 677.7 L1056.5 684.7 L1057.5 691.4 L1058.5 698.1 L1059.5 704.6 L1060.5 710.9 L1061.5 717.1 L1062.5 723.1 L1063.5 728.9 L1064.5 734.6 L1065.5 740.1 L1066.5 745.4 L1067.5 750.5 L1068.5 755.5 L1069.5 760.2 L1070.5 764.8 L1071.5 769.2 L1072.5 773.4 L1073.5 777.4 L1074.5 781.2 L1075.5 784.9 L1076.5 788.3 L1077.5 791.6 L1078.5 794.6 L1079.5 797.5 L1080.5 800.2 L1081.5 802.8 L1082.5 805.1 L1083.5 807.3 L1084.5 809.3 L1085.5 811.1 L1086.5 812.7 L1087.5 814.1 L1088.5 815.4 L1089.5 816.5 L1090.5 817.4 L1091.5 817.2 L1092.5 817.2 L1093.5 817.1 L1094.5 817.1 L1095.5 817.1 L1096.5 817.1 L1097.5 817.2 L1098.5 817.3 L1099.5 817.1 L1100.5 816.1 L1101.5 815 L1102.5 813.7 L1103.5 812.3 L1104.5 810.8 L1105.5 809.1 L1106.5 807.3 L1107.5 805.3 L1108.5 803.2 L1109.5 801 L1110.5 798.6 L1111.5 796 L1112.5 793.4 L1113.5 790.6 L1114.5 787.6 L1115.5 784.6 L1116.5 781.4 L1117.5 778 L1118.5 774.5 L1119.5 770.9 L1120.5 767.2 L1121.5 763.3 L1122.5 759.3 L1123.5 755.1 L1124.5 750.8 L1125.5 746.4 L1126.5 741.8 L1127.5 737.1 L1128.5 732.3 L1129.5 727.3 L1130.5 722.2 L1131.5 717 L1132.5 711.6 L1133.5 706.1 L1134.5 700.4 L1135.5 694.7 L1136.5 688.8 L1137.5 682.7 L1138.5 676.6 L1139.5 670.3 L1140.5 663.9 L1141.5 657.4 L1142.5 650.8 L1143.5 644 L1144.5 637.1 L1145.5 630.2 L1146.5 623.1 L1147.5 615.9 L1148.5 608.6 L1149.5 601.2 L1150.5 593.7 L1151.5 586.2 L1152.5 578.5 L1153.5 570.8 L1154.5 563 L1155.5 555.2 L1156.5 547.3 L1157.5 539.3 L1158.5 531.3 L1159.5 523.3 L1160.5 515.2 L1161.5 507.1 L1162.5 499 L1163.5 490.9 L1164.5 482.8 L1165.5 474.7 L1166.5 466.6 L1167.5 458.5 L1168.5 450.4 L1169.5 442.4 L1170.5 434.5 L1171.5 426.6 L1172.5 418.7 L1173.5 410.9 L1174.5 403.2 L1175.5 395.6 L1176.5 388.1 L1177.5 380.6 L1178.5 373.3 L1179.5 366.1 L1180.5 359 L1181.5 352.1 L1182.5 345.3 L1183.5 338.6 L1184.5 332 L1185.5 325.6 L1186.5 319.4 L1187.5 313.3 L1188.5 307.4 L1189.5 301.7 L1190.5 296.1 L1191.5 290.7 L1192.5 285.5 L1193.5 280.5 L1194.5 275.7 L1195.5 271 L1196.5 266.5 L1197.5 262.2 L1198.5 258.2 L1199.5 254.2 L1200.5 250.5 L1201.5 247 L1202.5 243.7 L1203.5 240.5 L1204.5 237.6 L1205.5 234.8 L1206.5 232.2 L1207.5 229.8 L1208.5 227.6 L1209.5 225.6 L1210.5 223.7 L1211.5 222 L1212.5 220.4 L1213.5 219.1 L1214.5 217.9 L1215.5 216.9 L1216.5 215.6 L1217.5 214.2 L1218.5 213.1 L1219.5 212.4 L1220.5 211.8 L1221.5 211.6 L1222.5 211.5 L1223.5 211.5 L1224.5 211.8 L1225.5 212.3 L1226.5 213.1 L1227.5 214.1 L1228.5 215.5 L1229.5 216.7 L1230.5 217.7 L1231.5 218.8 L1232.5 220 L1233.5 221.4 L1234.5 223 L1235.5 224.7 L1236.5 226.5 L1237.5 228.5 L1238.5 230.6 L1239.5 232.8 L1240.5 235.2 L1241.5 237.7 L1242.5 240.4 L1243.5 243.2 L1244.5 246.1 L1245.5 249.2 L1246.5 252.4 L1247.5 255.8 L1248.5 259.3 L1249.5 262.9 L1250.5 266.7 L1251.5 270.6 L1252.5 274.6 L1253.5 278.8 L1254.5 283.1 L1255.5 287.5 L1256.5 292.1 L1257.5 296.8 L1258.5 301.6 L1259.5 306.6 L1260.5 311.7 L1261.5 316.9 L1262.5 322.3 L1263.5 327.7 L1264.5 333.4 L1265.5 339.1 L1266.5 344.9 L1267.5 350.9 L1268.5 357 L1269.5 363.2 L1270.5 369.6 L1271.5 376 L1272.5 382.6 L1273.5 389.3 L1274.5 396.1 L1275.5 403 L1276.5 410 L1277.5 417.1 L1278.5 424.3 L1279.5 431.6 L1280.5 439 L1281.5 446.5 L1282.5 454 L1283.5 461.7 L1284.5 469.4 L1285.5 477.1 L1286.5 485 L1287.5 492.9 L1288.5 500.8 L1289.5 508.8 L1290.5 516.8 L1291.5 524.9 L1292.5 533 L1293.5 541.1 L1294.5 549.2 L1295.5 557.3 L1296.5 565.4 L1297.5 573.5 L1298.5 581.6 L1299.5 589.6 L1300.5 597.6 L1301.5 605.6 L1302.5 613.5 L1303.5 621.3 L1304.5 629 L1305.5 636.7 L1306.5 644.3 L1307.5 651.7 L1308.5 659.1 L1309.5 666.4 L1310.5 673.5 L1311.5 680.5 L1312.5 687.4 L1313.5 694.1 L1314.5 700.7 L1315.5 707.1 L1316.5 713.4 L1317.5 719.5 L1318.5 725.5 L1319.5 731.2 L1320.5 736.8 L1321.5 742.2 L1322.5 747.5 L1323.5 752.5 L1324.5 757.4 L1325.5 762.1 L1326.5 766.6 L1327.5 770.9 L1328.5 775 L1329.5 779 L1330.5 782.7 L1331.5 786.3 L1332.5 789.6 L1333.5 792.8 L1334.5 795.8 L1335.5 798.6 L1336.5 801.3 L1337.5 803.7 L1338.5 806 L1339.5 808.1 L1340.5 810 L1341.5 811.7 L1341.8 825.8 L1340.8 824.5 L1339.8 823.1 L1338.8 821.4 L1337.8 819.6 L1336.8 817.6 L1335.8 815.5 L1334.8 813.2 L1333.8 810.7 L1332.8 808 L1331.8 805.1 L1330.8 802.1 L1329.8 798.8 L1328.8 795.4 L1327.8 791.7 L1326.8 787.9 L1325.8 783.9 L1324.8 779.7 L1323.8 775.3 L1322.8 770.8 L1321.8 766 L1320.8 761 L1319.8 755.9 L1318.8 750.6 L1317.8 745.1 L1316.8 739.5 L1315.8 733.6 L1314.8 727.6 L1313.8 721.5 L1312.8 715.2 L1311.8 708.7 L1310.8 702.1 L1309.8 695.3 L1308.8 688.4 L1307.8 681.4 L1306.8 674.2 L1305.8 667 L1304.8 659.6 L1303.8 652.1 L1302.8 644.5 L1301.8 636.9 L1300.8 629.1 L1299.8 621.3 L1298.8 613.4 L1297.8 605.5 L1296.8 597.5 L1295.8 589.4 L1294.8 581.4 L1293.8 573.3 L1292.8 565.2 L1291.8 557.1 L1290.8 548.9 L1289.8 540.8 L1288.8 532.7 L1287.8 524.6 L1286.8 516.6 L1285.8 508.6 L1284.8 500.6 L1283.8 492.7 L1282.8 484.8 L1281.8 477 L1280.8 469.2 L1279.8 461.5 L1278.8 454 L1277.8 446.4 L1276.8 439 L1275.8 431.7 L1274.8 424.4 L1273.8 417.3 L1272.8 410.3 L1271.8 403.4 L1270.8 396.6 L1269.8 389.9 L1268.8 383.3 L1267.8 376.8 L1266.8 370.5 L1265.8 364.3 L1264.8 358.2 L1263.8 352.3 L1262.8 346.4 L1261.8 340.7 L1260.8 335.2 L1259.8 329.7 L1258.8 324.4 L1257.8 319.3 L1256.8 314.2 L1255.8 309.3 L1254.8 304.6 L1253.8 300 L1252.8 295.5 L1251.8 291.1 L1250.8 286.9 L1249.8 282.8 L1248.8 278.9 L1247.8 275 L1246.8 271.4 L1245.8 267.8 L1244.8 264.4 L1243.8 261.2 L1242.8 258 L1241.8 255 L1240.8 252.2 L1239.8 249.4 L1238.8 246.8 L1237.8 244.4 L1236.8 242.1 L1235.8 239.9 L1234.8 237.9 L1233.8 236 L1232.8 234.3 L1231.8 232.7 L1230.8 231.2 L1229.8 229.9 L1228.8 228.7 L1227.8 227.7 L1226.8 227 L1225.8 227.1 L1224.8 227.1 L1223.8 227.2 L1222.8 227.2 L1221.8 227.2 L1220.8 227.2 L1219.8 227.1 L1218.8 227 L1217.8 227.3 L1216.8 228.4 L1215.8 229.6 L1214.8 231 L1213.8 232.5 L1212.8 234.2 L1211.8 236.1 L1210.8 238.2 L1209.8 240.4 L1208.8 242.9 L1207.8 245.5 L1206.8 248.3 L1205.8 251.3 L1204.8 254.5 L1203.8 257.9 L1202.8 261.4 L1201.8 265.2 L1200.8 269.1 L1199.8 273.2 L1198.8 277.5 L1197.8 282 L1196.8 286.7 L1195.8 291.5 L1194.8 296.6 L1193.8 301.8 L1192.8 307.2 L1191.8 312.8 L1190.8 318.6 L1189.8 324.5 L1188.8 330.6 L1187.8 336.8 L1186.8 343.3 L1185.8 349.8 L1184.8 356.6 L1183.8 363.4 L1182.8 370.4 L1181.8 377.6 L1180.8 384.8 L1179.8 392.2 L1178.8 399.7 L1177.8 407.2 L1176.8 414.9 L1175.8 422.6 L1174.8 430.4 L1173.8 438.3 L1172.8 446.3 L1171.8 454.3 L1170.8 462.3 L1169.8 470.4 L1168.8 478.5 L1167.8 486.6 L1166.8 494.7 L1165.8 502.8 L1164.8 510.9 L1163.8 519 L1162.8 527.1 L1161.8 535.1 L1160.8 543.1 L1159.8 551 L1158.8 558.9 L1157.8 566.8 L1156.8 574.5 L1155.8 582.3 L1154.8 589.9 L1153.8 597.5 L1152.8 604.9 L1151.8 612.3 L1150.8 619.6 L1149.8 626.8 L1148.8 634 L1147.8 641 L1146.8 647.9 L1145.8 654.7 L1144.8 661.4 L1143.8 667.9 L1142.8 674.4 L1141.8 680.7 L1140.8 687 L1139.8 693.1 L1138.8 699.1 L1137.8 704.9 L1136.8 710.7 L1135.8 716.3 L1134.8 721.8 L1133.8 727.1 L1132.8 732.4 L1131.8 737.5 L1130.8 742.4 L1129.8 747.3 L1128.8 752 L1127.8 756.6 L1126.8 761 L1125.8 765.3 L1124.8 769.5 L1123.8 773.5 L1122.8 777.4 L1121.8 781.2 L1120.8 784.8 L1119.8 788.3 L1118.8 791.7 L1117.8 794.9 L1116.8 798 L1115.8 801 L1114.8 803.8 L1113.8 806.4 L1112.8 809 L1111.8 811.4 L1110.8 813.6 L1109.8 815.7 L1108.8 817.7 L1107.8 819.5 L1106.8 821.2 L1105.8 822.8 L1104.8 824.2 L1103.8 825.4 L1102.8 826.5 L1101.8 827.5 L1100.8 828.7 L1099.8 830.1 L1098.8 831.2 L1097.8 831.9 L1096.8 832.5 L1095.8 832.7 L1094.8 832.8 L1093.8 832.8 L1092.8 832.5 L1091.8 832 L1090.8 831.2 L1089.8 830.1 L1088.8 828.7 L1087.8 827.5 L1086.8 826.5 L1085.8 825.3 L1084.8 823.9 L1083.8 822.4 L1082.8 820.7 L1081.8 818.8 L1080.8 816.8 L1079.8 814.6 L1078.8 812.2 L1077.8 809.6 L1076.8 806.9 L1075.8 803.9 L1074.8 800.8 L1073.8 797.5 L1072.8 793.9 L1071.8 790.2 L1070.8 786.3 L1069.8 782.3 L1068.8 778 L1067.8 773.5 L1066.8 768.9 L1065.8 764 L1064.8 759 L1063.8 753.8 L1062.8 748.4 L1061.8 742.9 L1060.8 737.2 L1059.8 731.3 L1058.8 725.2 L1057.8 719 L1056.8 712.6 L1055.8 706.1 L1054.8 699.4 L1053.8 692.6 L1052.8 685.6 L1051.8 678.5 L1050.8 671.3 L1049.8 664 L1048.8 656.6 L1047.8 649.1 L1046.8 641.5 L1045.8 633.8 L1044.8 626 L1043.8 618.1 L1042.8 610.2 L1041.8 602.3 L1040.8 594.3 L1039.8 586.2 L1038.8 578.1 L1037.8 570 L1036.8 561.9 L1035.8 553.8 L1034.8 545.7 L1033.8 537.6 L1032.8 529.5 L1031.8 521.4 L1030.8 513.4 L1029.8 505.4 L1028.8 497.4 L1027.8 489.5 L1026.8 481.6 L1025.8 473.9 L1024.8 466.1 L1023.8 458.5 L1022.8 450.9 L1021.8 443.5 L1020.8 436.1 L1019.8 428.8 L1018.8 421.6 L1017.8 414.5 L1016.8 407.5 L1015.8 400.6 L1014.8 393.9 L1013.8 387.2 L1012.8 380.7 L1011.8 374.3 L1010.8 368 L1009.8 361.9 L1008.8 355.8 L1007.8 349.9 L1006.8 344.1 L1005.8 338.5 L1004.8 333 L1003.8 327.6 L1002.8 322.4 L1001.8 317.2 L1000.8 312.3 L999.8 307.4 L998.8 302.7 L997.8 298.1 L996.8 293.7 L995.8 289.4 L994.8 285.2 L993.8 281.2 L992.8 277.3 L991.8 273.6 L990.8 269.9 L989.8 266.5 L988.8 263.1 L987.8 259.9 L986.8 256.8 L985.8 253.9 L984.8 251.1 L983.8 248.4 L982.8 245.9 L981.8 243.5 L980.8 241.2 L979.8 239.1 L978.8 237.1 L977.8 235.3 L976.8 233.6 L975.8 232.1 L974.8 230.6 L973.8 229.4 L972.8 228.3 L971.8 227.3 L970.8 227 L969.8 227.1 L968.8 227.2 L967.8 227.2 L966.8 227.2 L965.8 227.2 L964.8 227.1 L963.8 227.1 L962.8 227 L961.8 227.7 L960.8 228.8 L959.8 230.1 L958.8 231.6 L957.8 233.2 L956.8 234.9 L955.8 236.9 L954.8 239.1 L953.8 241.4 L952.8 243.9 L951.8 246.6 L950.8 249.5 L949.8 252.6 L948.8 255.8 L947.8 259.3 L946.8 262.9 L945.8 266.7 L944.8 270.7 L943.8 274.9 L942.8 279.3 L941.8 283.8 L940.8 288.6 L939.8 293.5 L938.8 298.6 L937.8 303.9 L936.8 309.4 L935.8 315.1 L934.8 320.9 L933.8 326.9 L932.8 333.1 L931.8 339.4 L930.8 345.9 L929.8 352.5 L928.8 359.3 L927.8 366.2 L926.8 373.3 L925.8 380.4 L924.8 387.7 L923.8 395.2 L922.8 402.7 L921.8 410.3 L920.8 418 L919.8 425.7 L918.8 433.6 L917.8 441.5 L916.8 449.5 L915.8 457.5 L914.8 465.5 L913.8 473.6 L912.8 481.7 L911.8 489.8 L910.8 497.9 L909.8 506 L908.8 514.1 L907.8 522.2 L906.8 530.3 L905.8 538.3 L904.8 546.3 L903.8 554.2 L902.8 562.1 L901.8 569.9 L900.8 577.6 L899.8 585.3 L898.8 592.9 L897.8 600.5 L896.8 607.9 L895.8 615.3 L894.8 622.5 L893.8 629.7 L892.8 636.8 L891.8 643.7 L890.8 650.6 L889.8 657.4 L888.8 664 L887.8 670.5 L886.8 676.9 L885.8 683.2 L884.8 689.4 L883.8 695.5 L882.8 701.4 L881.8 707.2 L880.8 712.9 L879.8 718.5 L878.8 723.9 L877.8 729.2 L876.8 734.4 L875.8 739.5 L874.8 744.4 L873.8 749.2 L872.8 753.8 L871.8 758.3 L870.8 762.7 L869.8 767 L868.8 771.1 L867.8 775.1 L866.8 779 L865.8 782.7 L864.8 786.3 L863.8 789.7 L862.8 793 L861.8 796.2 L860.8 799.2 L859.8 802.1 L858.8 804.9 L857.8 807.5 L856.8 809.9 L855.8 812.3 L854.8 814.5 L853.8 816.5 L852.8 818.4 L851.8 820.2 L850.8 821.9 L849.8 823.4 L848.8 824.7 L847.8 825.9 L846.8 826.9 L845.8 827.9 L844.8 829.3 L843.8 830.5 L842.8 831.5 L841.8 832.2 L840.8 832.6 L839.8 832.8 L838.8 832.8 L837.8 832.7 L836.8 832.3 L835.8 831.7 L834.8 830.8 L833.8 829.6 L832.8 828.1 L831.8 827.1 L830.8 826 L829.8 824.8 L828.8 823.4 L827.8 821.8 L826.8 820 L825.8 818 L824.8 815.9 L823.8 813.7 L822.8 811.2 L821.8 808.6 L820.8 805.7 L819.8 802.7 L818.8 799.5 L817.8 796.1 L816.8 792.5 L815.8 788.7 L814.8 784.7 L813.8 780.6 L812.8 776.2 L811.8 771.7 L810.8 767 L809.8 762.1 L808.8 757 L807.8 751.7 L806.8 746.2 L805.8 740.6 L804.8 734.8 L803.8 728.9 L802.8 722.7 L801.8 716.4 L800.8 710 L799.8 703.4 L798.8 696.7 L797.8 689.8 L796.8 682.8 L795.8 675.7 L794.8 668.4 L793.8 661.1 L792.8 653.6 L791.8 646 L790.8 638.4 L789.8 630.7 L788.8 622.9 L787.8 615 L786.8 607 L785.8 599.1 L784.8 591 L783.8 583 L782.8 574.9 L781.8 566.8 L780.8 558.7 L779.8 550.6 L778.8 542.4 L777.8 534.3 L776.8 526.3 L775.8 518.2 L774.8 510.2 L773.8 502.2 L772.8 494.2 L771.8 486.4 L770.8 478.5 L769.8 470.8 L768.8 463.1 L767.8 455.5 L766.8 447.9 L765.8 440.5 L764.8 433.1 L763.8 425.9 L762.8 418.7 L761.8 411.7 L760.8 404.7 L759.8 397.9 L758.8 391.2 L757.8 384.6 L756.8 378.1 L755.8 371.8 L754.8 365.5 L753.8 359.4 L752.8 353.4 L751.8 347.6 L750.8 341.9 L749.8 336.3 L748.8 330.8 L747.8 325.5 L746.8 320.3 L745.8 315.2 L744.8 310.3 L743.8 305.5 L742.8 300.9 L741.8 296.4 L740.8 292 L739.8 287.7 L738.8 283.6 L737.8 279.6 L736.8 275.8 L735.8 272.1 L734.8 268.5 L733.8 265.1 L732.8 261.8 L731.8 258.6 L730.8 255.6 L729.8 252.7 L728.8 250 L727.8 247.4 L726.8 244.9 L725.8 242.5 L724.8 240.3 L723.8 238.3 L722.8 236.4 L721.8 234.6 L720.8 233 L719.8 231.5 L718.8 230.1 L717.8 228.9 L716.8 227.8 L715.8 227 L714.8 227 L713.8 227.1 L712.8 227.2 L711.8 227.2 L710.8 227.2 L709.8 227.2 L708.8 227.1 L707.8 227 L706.8 227.2 L705.8 228.1 L704.8 229.3 L703.8 230.7 L702.8 232.2 L701.8 233.8 L700.8 235.7 L699.8 237.7 L698.8 240 L697.8 242.4 L696.8 245 L695.8 247.8 L694.8 250.7 L693.8 253.9 L692.8 257.2 L691.8 260.7 L690.8 264.4 L689.8 268.3 L688.8 272.3 L687.8 276.6 L686.8 281.1 L685.8 285.7 L684.8 290.5 L683.8 295.5 L682.8 300.7 L681.8 306.1 L680.8 311.7 L679.8 317.4 L678.8 323.3 L677.8 329.4 L676.8 335.6 L675.8 342 L674.8 348.5 L673.8 355.2 L672.8 362.1 L671.8 369 L670.8 376.1 L669.8 383.4 L668.8 390.7 L667.8 398.1 L666.8 405.7 L665.8 413.3 L664.8 421.1 L663.8 428.9 L662.8 436.8 L661.8 444.7 L660.8 452.7 L659.8 460.7 L658.8 468.8 L657.8 476.8 L656.8 485 L655.8 493.1 L654.8 501.2 L653.8 509.3 L652.8 517.4 L651.8 525.4 L650.8 533.5 L649.8 541.5 L648.8 549.4 L647.8 557.3 L646.8 565.2 L645.8 573 L644.8 580.7 L643.8 588.4 L642.8 596 L641.8 603.4 L640.8 610.9 L639.8 618.2 L638.8 625.4 L637.8 632.5 L636.8 639.6 L635.8 646.5 L634.8 653.3 L633.8 660 L632.8 666.6 L631.8 673.1 L630.8 679.5 L629.8 685.7 L628.8 691.9 L627.8 697.9 L626.8 703.8 L625.8 709.5 L624.8 715.2 L623.8 720.7 L622.8 726.1 L621.8 731.3 L620.8 736.4 L619.8 741.4 L618.8 746.3 L617.8 751 L616.8 755.6 L615.8 760.1 L614.8 764.5 L613.8 768.7 L612.8 772.7 L611.8 776.7 L610.8 780.5 L609.8 784.1 L608.8 787.7 L607.8 791 L606.8 794.3 L605.8 797.4 L604.8 800.4 L603.8 803.2 L602.8 805.9 L601.8 808.5 L600.8 810.9 L599.8 813.2 L598.8 815.3 L597.8 817.3 L596.8 819.2 L595.8 820.9 L594.8 822.5 L593.8 823.9 L592.8 825.2 L591.8 826.3 L590.8 827.3 L589.8 828.4 L588.8 829.8 L587.8 831 L586.8 831.8 L585.8 832.4 L584.8 832.7 L583.8 832.8 L582.8 832.8 L581.8 832.6 L580.8 832.1 L579.8 831.4 L578.8 830.4 L577.8 829 L576.8 827.7 L575.8 826.7 L574.8 825.5 L573.8 824.2 L572.8 822.7 L571.8 821.1 L570.8 819.2 L569.8 817.2 L568.8 815 L567.8 812.7 L566.8 810.2 L565.8 807.4 L564.8 804.5 L563.8 801.4 L562.8 798.1 L561.8 794.7 L560.8 791 L559.8 787.1 L558.8 783.1 L557.8 778.9 L556.8 774.4 L555.8 769.8 L554.8 765 L553.8 760 L552.8 754.9 L551.8 749.5 L550.8 744 L549.8 738.3 L548.8 732.5 L547.8 726.4 L546.8 720.2 L545.8 713.9 L544.8 707.4 L543.8 700.7 L542.8 693.9 L541.8 687 L540.8 680 L539.8 672.8 L538.8 665.5 L537.8 658.1 L536.8 650.6 L535.8 643 L534.8 635.3 L533.8 627.5 L532.8 619.7 L531.8 611.8 L530.8 603.9 L529.8 595.9 L528.8 587.8 L527.8 579.8 L526.8 571.7 L525.8 563.5 L524.8 555.4 L523.8 547.3 L522.8 539.2 L521.8 531.1 L520.8 523 L519.8 515 L518.8 507 L517.8 499 L516.8 491.1 L515.8 483.2 L514.8 475.4 L513.8 467.7 L512.8 460 L511.8 452.4 L510.8 444.9 L509.8 437.5 L508.8 430.2 L507.8 423 L506.8 415.9 L505.8 408.9 L504.8 402 L503.8 395.2 L502.8 388.5 L501.8 382 L500.8 375.6 L499.8 369.3 L498.8 363.1 L497.8 357 L496.8 351.1 L495.8 345.3 L494.8 339.6 L493.8 334.1 L492.8 328.7 L491.8 323.4 L490.8 318.3 L489.8 313.3 L488.8 308.4 L487.8 303.6 L486.8 299 L485.8 294.6 L484.8 290.3 L483.8 286.1 L482.8 282 L481.8 278.1 L480.8 274.3 L479.8 270.7 L478.8 267.1 L477.8 263.8 L476.8 260.5 L475.8 257.4 L474.8 254.4 L473.8 251.6 L472.8 248.9 L471.8 246.3 L470.8 243.9 L469.8 241.6 L468.8 239.5 L467.8 237.5 L466.8 235.6 L465.8 233.9 L464.8 232.4 L463.8 230.9 L462.8 229.6 L461.8 228.5 L460.8 227.5 L459.8 227 L458.8 227.1 L457.8 227.2 L456.8 227.2 L455.8 227.2 L454.8 227.2 L453.8 227.2 L452.8 227.1 L451.8 227 L450.8 227.5 L449.8 228.6 L448.8 229.8 L447.8 231.2 L446.8 232.8 L445.8 234.6 L444.8 236.5 L443.8 238.6 L442.8 240.9 L441.8 243.4 L440.8 246.1 L439.8 248.9 L438.8 251.9 L437.8 255.2 L436.8 258.6 L435.8 262.1 L434.8 265.9 L433.8 269.9 L432.8 274 L431.8 278.4 L430.8 282.9 L429.8 287.6 L428.8 292.5 L427.8 297.6 L426.8 302.9 L425.8 308.3 L424.8 313.9 L423.8 319.7 L422.8 325.7 L421.8 331.8 L420.8 338.1 L419.8 344.6 L418.8 351.2 L417.8 357.9 L416.8 364.8 L415.8 371.9 L414.8 379 L413.8 386.3 L412.8 393.7 L411.8 401.2 L410.8 408.7 L409.8 416.4 L408.8 424.2 L407.8 432 L406.8 439.9 L405.8 447.9 L404.8 455.9 L403.8 463.9 L402.8 472 L401.8 480.1 L400.8 488.2 L399.8 496.3 L398.8 504.4 L397.8 512.5 L396.8 520.6 L395.8 528.7 L394.8 536.7 L393.8 544.7 L392.8 552.6 L391.8 560.5 L390.8 568.3 L389.8 576.1 L388.8 583.8 L387.8 591.4 L386.8 599 L385.8 606.4 L384.8 613.8 L383.8 621.1 L382.8 628.3 L381.8 635.4 L380.8 642.4 L379.8 649.2 L378.8 656 L377.8 662.7 L376.8 669.2 L375.8 675.7 L374.8 682 L373.8 688.2 L372.8 694.3 L371.8 700.2 L370.8 706.1 L369.8 711.8 L368.8 717.4 L367.8 722.8 L366.8 728.2 L365.8 733.4 L364.8 738.5 L363.8 743.4 L362.8 748.2 L361.8 752.9 L360.8 757.5 L359.8 761.9 L358.8 766.2 L357.8 770.3 L356.8 774.3 L355.8 778.2 L354.8 781.9 L353.8 785.6 L352.8 789 L351.8 792.4 L350.8 795.6 L349.8 798.6 L348.8 801.5 L347.8 804.3 L346.8 807 L345.8 809.5 L344.8 811.8 L343.8 814 L342.8 816.1 L341.8 818.1 L340.8 819.9 L339.8 821.6 L338.8 823.1 L337.8 824.4 L336.8 825.7 L335.8 826.7 L334.8 827.7 L333.8 829 L332.8 830.3 L331.8 831.3 L330.8 832.1 L329.8 832.5 L328.8 832.8 L327.8 832.8 L326.8 832.7 L325.8 832.4 L324.8 831.8 L323.8 831 L322.8 829.9 L321.8 828.4 L320.8 827.3 L319.8 826.2 L318.8 825 L317.8 823.7 L316.8 822.1 L315.8 820.4 L314.8 818.4 L313.8 816.4 L312.8 814.1 L311.8 811.7 L310.8 809.1 L309.8 806.3 L308.8 803.3 L307.8 800.1 L306.8 796.8 L305.8 793.2 L304.8 789.5 L303.8 785.5 L302.8 781.4 L301.8 777.1 L300.8 772.6 L299.8 767.9 L298.8 763 L297.8 758 L296.8 752.8 L295.8 747.3 L294.8 741.8 L293.8 736 L292.8 730.1 L291.8 724 L290.8 717.7 L289.8 711.3 L288.8 704.7 L287.8 698 L286.8 691.2 L285.8 684.2 L284.8 677.1 L283.8 669.9 L282.8 662.5 L281.8 655.1 L280.8 647.6 L279.8 639.9 L278.8 632.2 L277.8 624.4 L276.8 616.6 L275.8 608.6 L274.8 600.7 L273.8 592.7 L272.8 584.6 L271.8 576.5 L270.8 568.4 L269.8 560.3 L268.8 552.2 L267.8 544.1 L266.8 536 L265.8 527.9 L264.8 519.8 L263.8 511.8 L262.8 503.8 L261.8 495.8 L260.8 487.9 L259.8 480.1 L258.8 472.3 L257.8 464.6 L256.8 457 L255.8 449.4 L254.8 442 L253.8 434.6 L252.8 427.3 L251.8 420.2 L250.8 413.1 L249.8 406.1 L248.8 399.3 L247.8 392.5 L246.8 385.9 L245.8 379.4 L244.8 373 L243.8 366.8 L242.8 360.6 L241.8 354.6 L240.8 348.8 L239.8 343 L238.8 337.4 L237.8 331.9 L236.8 326.5 L235.8 321.3 L234.8 316.2 L233.8 311.3 L232.8 306.5 L231.8 301.8 L230.8 297.2 L229.8 292.8 L228.8 288.6 L227.8 284.4 L226.8 280.4 L225.8 276.6 L224.8 272.8 L223.8 269.2 L222.8 265.8 L221.8 262.4 L220.8 259.3 L219.8 256.2 L218.8 253.3 L217.8 250.5 L216.8 247.9 L215.8 245.4 L214.8 243 L213.8 240.8 L212.8 238.7 L211.8 236.7 L210.8 234.9 L209.8 233.3 L208.8 231.8 L207.8 230.4 L206.8 229.1 L205.8 228 L204.8 227.1 L203.8 227 L202.8 227.1 L201.8 227.2 L200.8 227.2 L199.8 227.2 L198.8 227.2 L197.8 227.1 L196.8 227 L195.8 227 L194.8 227.9 L193.8 229.1 L192.8 230.4 L191.8 231.9 L190.8 233.5 L189.8 235.3 L188.8 237.3 L187.8 239.5 L186.8 241.9 L185.8 244.5 L184.8 247.2 L183.8 250.1 L182.8 253.2 L181.8 256.5 L180.8 260 L179.8 263.6 L178.8 267.5 L177.8 271.5 L176.8 275.7 L175.8 280.2 L174.8 284.8 L173.8 289.5 L172.8 294.5 L171.8 299.7 L170.8 305 L169.8 310.5 L168.8 316.2 L167.8 322.1 L166.8 328.1 L165.8 334.3 L164.8 340.7 L163.8 347.2 L162.8 353.9 L161.8 360.7 L160.8 367.6 L159.8 374.7 L158.8 381.9 L157.8 389.2 L156.8 396.6 L155.8 404.2 L154.8 411.8 L153.8 419.5 L152.8 427.3 L151.8 435.2 L150.8 443.1 L149.8 451.1 L148.8 459.1 L147.8 467.1 L146.8 475.2 L145.8 483.3 L144.8 491.4 L143.8 499.6 L142.8 507.7 L141.8 515.8 L140.8 523.8 L139.8 531.9 L138.8 539.9 L137.8 547.9 L136.8 555.8 L135.8 563.6 L134.8 571.4 L133.8 579.2 L132.8 586.8 L131.8 594.4 L130.8 602 L129.8 609.4 L128.8 616.7 L127.8 624 L126.8 631.1 L125.8 638.2 L124.8 645.1 L123.8 652 L122.8 658.7 L121.8 665.3 L120.8 671.8 L119.8 678.2 L118.8 684.5 L117.8 690.6 L116.8 696.7 L115.8 702.6 L114.8 708.4 L113.8 714 L112.8 719.6 L111.8 725 L110.8 730.3 L109.8 735.4 L108.8 740.5 L107.8 745.3 L106.8 750.1 L105.8 754.7 L104.8 759.2 L103.8 763.6 L102.8 767.8 L101.8 771.9 L100.8 775.9 L99.8 779.7 L98.8 783.4 L97.8 787 L96.8 790.4 L95.8 793.7 L94.8 796.8 L93.8 799.8 L92.8 802.7 L91.8 805.4 L90.8 808 L89.8 810.4 L88.8 812.7 L87.8 814.9 L86.8 816.9 L85.8 818.8 L84.8 820.6 L83.8 822.2 L82.8 823.6 L81.8 825 L80.8 826.1 L79.8 827.1 L78.8 828.1 L77.8 829.6 L76.8 830.8 L75.8 831.7 L74.8 832.3 L73.8 832.7 L72.8 832.8 L71.8 832.8 L70.8 832.6 L69.8 832.2 L68.8 831.6 L67.8 830.6 L66.8 829.3 L65.8 827.9 L64.8 826.9 Z"/>
<path id="orange" fill="#ff9600" d="M64.5 814.2 L65.5 815.5 L66.5 816.6 L67.5 817.6 L68.5 817.8 L69.5 817.7 L70.5 817.6 L71.5 817.6 L72.5 817.6 L73.5 817.6 L74.5 817.7 L75.5 817.7 L76.5 817.8 L77.5 817.4 L78.5 816.4 L79.5 815.3 L80.5 814 L81.5 812.7 L82.5 811.1 L83.5 809.4 L84.5 807.6 L85.5 805.6 L86.5 803.5 L87.5 801.3 L88.5 798.9 L89.5 796.4 L90.5 793.7 L91.5 790.9 L92.5 788 L93.5 785 L94.5 781.8 L95.5 778.4 L96.5 775 L97.5 771.4 L98.5 767.6 L99.5 763.8 L100.5 759.7 L101.5 755.6 L102.5 751.3 L103.5 746.9 L104.5 742.4 L105.5 737.7 L106.5 732.8 L107.5 727.9 L108.5 722.8 L109.5 717.6 L110.5 712.2 L111.5 706.7 L112.5 701.1 L113.5 695.3 L114.5 689.4 L115.5 683.4 L116.5 677.3 L117.5 671 L118.5 664.6 L119.5 658.1 L120.5 651.5 L121.5 644.8 L122.5 637.9 L123.5 630.9 L124.5 623.9 L125.5 616.7 L126.5 609.4 L127.5 602 L128.5 594.6 L129.5 587 L130.5 579.4 L131.5 571.7 L132.5 563.9 L133.5 556.1 L134.5 548.2 L135.5 540.2 L136.5 532.2 L137.5 524.2 L138.5 516.1 L139.5 508 L140.5 499.9 L141.5 491.8 L142.5 483.7 L143.5 475.6 L144.5 467.5 L145.5 459.4 L146.5 451.3 L147.5 443.3 L148.5 435.3 L149.5 427.4 L150.5 419.6 L151.5 411.8 L152.5 404.1 L153.5 396.4 L154.5 388.9 L155.5 381.5 L156.5 374.1 L157.5 366.9 L158.5 359.8 L159.5 352.8 L160.5 346 L161.5 339.3 L162.5 332.8 L163.5 326.3 L164.5 320.1 L165.5 314 L166.5 308.1 L167.5 302.3 L168.5 296.8 L169.5 291.3 L170.5 286.1 L171.5 281.1 L172.5 276.2 L173.5 271.5 L174.5 267 L175.5 262.7 L176.5 258.6 L177.5 254.7 L178.5 251 L179.5 247.4 L180.5 244.1 L181.5 240.9 L182.5 237.9 L183.5 235.1 L184.5 232.5 L185.5 230.1 L186.5 227.9 L187.5 225.8 L188.5 224 L189.5 222.3 L190.5 220.8 L191.5 219.4 L192.5 218.2 L193.5 217.2 L194.5 216 L195.5 214.5 L196.5 213.5 L197.5 212.7 L198.5 212.2 L199.5 212 L200.5 212 L201.5 212.1 L202.5 212.5 L203.5 213.2 L204.5 214.2 L205.5 215.5 L206.5 216.9 L207.5 217.8 L208.5 218.9 L209.5 220.1 L210.5 221.5 L211.5 223 L212.5 224.7 L213.5 226.4 L214.5 228.4 L215.5 230.5 L216.5 232.7 L217.5 235 L218.5 237.5 L219.5 240.2 L220.5 243 L221.5 245.9 L222.5 249 L223.5 252.2 L224.5 255.5 L225.5 259 L226.5 262.6 L227.5 266.4 L228.5 270.3 L229.5 274.3 L230.5 278.4 L231.5 282.7 L232.5 287.1 L233.5 291.7 L234.5 296.4 L235.5 301.2 L236.5 306.2 L237.5 311.2 L238.5 316.5 L239.5 321.8 L240.5 327.3 L241.5 332.9 L242.5 338.6 L243.5 344.4 L244.5 350.4 L245.5 356.5 L246.5 362.7 L247.5 369 L248.5 375.5 L249.5 382 L250.5 388.7 L251.5 395.5 L252.5 402.4 L253.5 409.4 L254.5 416.5 L255.5 423.7 L256.5 430.9 L257.5 438.3 L258.5 445.8 L259.5 453.3 L260.5 461 L261.5 468.7 L262.5 476.4 L263.5 484.3 L264.5 492.2 L265.5 500.1 L266.5 508.1 L267.5 516.1 L268.5 524.2 L269.5 532.3 L270.5 540.4 L271.5 548.5 L272.5 556.6 L273.5 564.7 L274.5 572.8 L275.5 580.9 L276.5 588.9 L277.5 596.9 L278.5 604.8 L279.5 612.7 L280.5 620.6 L281.5 628.3 L282.5 636 L283.5 643.6 L284.5 651.1 L285.5 658.5 L286.5 665.7 L287.5 672.9 L288.5 679.9 L289.5 686.8 L290.5 693.5 L291.5 700.1 L292.5 706.6 L293.5 712.9 L294.5 719 L295.5 724.9 L296.5 730.7 L297.5 736.3 L298.5 741.8 L299.5 747 L300.5 752.1 L301.5 757 L302.5 761.7 L303.5 766.2 L304.5 770.6 L305.5 774.7 L306.5 778.6 L307.5 782.4 L308.5 786 L309.5 789.4 L310.5 792.6 L311.5 795.6 L312.5 798.4 L313.5 801.1 L314.5 803.6 L315.5 805.9 L316.5 808 L317.5 809.9 L318.5 811.7 L319.5 813.3 L320.5 814.7 L321.5 815.9 L322.5 817 L323.5 817.9 L324.5 817.8 L325.5 817.7 L326.5 817.6 L327.5 817.6 L328.5 817.6 L329.5 817.6 L330.5 817.7 L331.5 817.8 L332.5 817.9 L333.5 817 L334.5 816 L335.5 814.8 L336.5 813.5 L337.5 812.1 L338.5 810.5 L339.5 808.7 L340.5 806.8 L341.5 804.8 L342.5 802.6 L343.5 800.3 L344.5 797.9 L345.5 795.3 L346.5 792.6 L347.5 789.8 L348.5 786.8 L349.5 783.7 L350.5 780.4 L351.5 777.1 L352.5 773.5 L353.5 769.9 L354.5 766.1 L355.5 762.2 L356.5 758.1 L357.5 753.9 L358.5 749.6 L359.5 745.1 L360.5 740.5 L361.5 735.7 L362.5 730.9 L363.5 725.9 L364.5 720.7 L365.5 715.4 L366.5 710 L367.5 704.5 L368.5 698.8 L369.5 693 L370.5 687.1 L371.5 681 L372.5 674.8 L373.5 668.5 L374.5 662.1 L375.5 655.5 L376.5 648.8 L377.5 642 L378.5 635.1 L379.5 628.1 L380.5 621 L381.5 613.8 L382.5 606.5 L383.5 599.1 L384.5 591.6 L385.5 584 L386.5 576.3 L387.5 568.6 L388.5 560.8 L389.5 552.9 L390.5 545 L391.5 537 L392.5 529 L393.5 520.9 L394.5 512.9 L395.5 504.8 L396.5 496.7 L397.5 488.5 L398.5 480.4 L399.5 472.3 L400.5 464.2 L401.5 456.1 L402.5 448.1 L403.5 440.1 L404.5 432.2 L405.5 424.3 L406.5 416.4 L407.5 408.7 L408.5 401 L409.5 393.4 L410.5 385.9 L411.5 378.5 L412.5 371.2 L413.5 364.1 L414.5 357 L415.5 350.1 L416.5 343.3 L417.5 336.7 L418.5 330.2 L419.5 323.8 L420.5 317.6 L421.5 311.6 L422.5 305.8 L423.5 300.1 L424.5 294.6 L425.5 289.2 L426.5 284.1 L427.5 279.1 L428.5 274.3 L429.5 269.7 L430.5 265.3 L431.5 261.1 L432.5 257 L433.5 253.2 L434.5 249.5 L435.5 246.1 L436.5 242.8 L437.5 239.7 L438.5 236.8 L439.5 234.1 L440.5 231.6 L441.5 229.2 L442.5 227.1 L443.5 225.1 L444.5 223.3 L445.5 221.7 L446.5 220.2 L447.5 218.9 L448.5 217.8 L449.5 216.8 L450.5 215.4 L451.5 214.1 L452.5 213.1 L453.5 212.5 L454.5 212.1 L455.5 212 L456.5 212 L457.5 212.3 L458.5 212.8 L459.5 213.6 L460.5 214.7 L461.5 216.2 L462.5 217.2 L463.5 218.2 L464.5 219.4 L465.5 220.6 L466.5 222.1 L467.5 223.6 L468.5 225.3 L469.5 227.2 L470.5 229.2 L471.5 231.3 L472.5 233.6 L473.5 236 L474.5 238.6 L475.5 241.3 L476.5 244.1 L477.5 247.1 L478.5 250.2 L479.5 253.5 L480.5 256.9 L481.5 260.4 L482.5 264.1 L483.5 267.9 L484.5 271.8 L485.5 275.9 L486.5 280.1 L487.5 284.5 L488.5 289 L489.5 293.6 L490.5 298.3 L491.5 303.2 L492.5 308.2 L493.5 313.3 L494.5 318.6 L495.5 324 L496.5 329.5 L497.5 335.1 L498.5 340.9 L499.5 346.8 L500.5 352.8 L501.5 358.9 L502.5 365.2 L503.5 371.6 L504.5 378.1 L505.5 384.7 L506.5 391.4 L507.5 398.2 L508.5 405.2 L509.5 412.2 L510.5 419.3 L511.5 426.6 L512.5 433.9 L513.5 441.3 L514.5 448.8 L515.5 456.4 L516.5 464 L517.5 471.8 L518.5 479.6 L519.5 487.4 L520.5 495.3 L521.5 503.3 L522.5 511.3 L523.5 519.3 L524.5 527.4 L525.5 535.5 L526.5 543.6 L527.5 551.7 L528.5 559.8 L529.5 567.9 L530.5 576 L531.5 584.1 L532.5 592.1 L533.5 600.1 L534.5 608 L535.5 615.9 L536.5 623.7 L537.5 631.4 L538.5 639.1 L539.5 646.6 L540.5 654 L541.5 661.4 L542.5 668.6 L543.5 675.7 L544.5 682.7 L545.5 689.5 L546.5 696.2 L547.5 702.7 L548.5 709.1 L549.5 715.3 L550.5 721.4 L551.5 727.3 L552.5 733 L553.5 738.5 L554.5 743.9 L555.5 749.1 L556.5 754.1 L557.5 758.9 L558.5 763.5 L559.5 768 L560.5 772.2 L561.5 776.3 L562.5 780.2 L563.5 783.9 L564.5 787.4 L565.5 790.7 L566.5 793.8 L567.5 796.8 L568.5 799.5 L569.5 802.1 L570.5 804.5 L571.5 806.7 L572.5 808.8 L573.5 810.7 L574.5 812.4 L575.5 813.9 L576.5 815.2 L577.5 816.4 L578.5 817.4 L579.5 817.8 L580.5 817.7 L581.5 817.7 L582.5 817.6 L583.5 817.6 L584.5 817.6 L585.5 817.7 L586.5 817.7 L587.5 817.8 L588.5 817.5 L589.5 816.6 L590.5 815.5 L591.5 814.3 L592.5 812.9 L593.5 811.4 L594.5 809.8 L595.5 808 L596.5 806 L597.5 803.9 L598.5 801.7 L599.5 799.4 L600.5 796.9 L601.5 794.3 L602.5 791.5 L603.5 788.6 L604.5 785.6 L605.5 782.4 L606.5 779.1 L607.5 775.7 L608.5 772.1 L609.5 768.4 L610.5 764.5 L611.5 760.6 L612.5 756.4 L613.5 752.2 L614.5 747.8 L615.5 743.3 L616.5 738.6 L617.5 733.8 L618.5 728.9 L619.5 723.8 L620.5 718.6 L621.5 713.3 L622.5 707.8 L623.5 702.2 L624.5 696.5 L625.5 690.6 L626.5 684.6 L627.5 678.5 L628.5 672.3 L629.5 665.9 L630.5 659.4 L631.5 652.8 L632.5 646.1 L633.5 639.3 L634.5 632.3 L635.5 625.3 L636.5 618.1 L637.5 610.9 L638.5 603.5 L639.5 596.1 L640.5 588.5 L641.5 580.9 L642.5 573.2 L643.5 565.5 L644.5 557.6 L645.5 549.7 L646.5 541.8 L647.5 533.8 L648.5 525.8 L649.5 517.7 L650.5 509.6 L651.5 501.5 L652.5 493.4 L653.5 485.3 L654.5 477.2 L655.5 469.1 L656.5 461 L657.5 452.9 L658.5 444.9 L659.5 436.9 L660.5 429 L661.5 421.1 L662.5 413.3 L663.5 405.6 L664.5 398 L665.5 390.4 L666.5 382.9 L667.5 375.6 L668.5 368.3 L669.5 361.2 L670.5 354.2 L671.5 347.4 L672.5 340.6 L673.5 334.1 L674.5 327.6 L675.5 321.3 L676.5 315.2 L677.5 309.3 L678.5 303.5 L679.5 297.9 L680.5 292.4 L681.5 287.2 L682.5 282.1 L683.5 277.2 L684.5 272.5 L685.5 267.9 L686.5 263.6 L687.5 259.4 L688.5 255.5 L689.5 251.7 L690.5 248.1 L691.5 244.7 L692.5 241.5 L693.5 238.5 L694.5 235.7 L695.5 233 L696.5 230.6 L697.5 228.3 L698.5 226.2 L699.5 224.3 L700.5 222.6 L701.5 221.1 L702.5 219.6 L703.5 218.4 L704.5 217.4 L705.5 216.3 L706.5 214.8 L707.5 213.6 L708.5 212.8 L709.5 212.3 L710.5 212 L711.5 212 L712.5 212.1 L713.5 212.4 L714.5 213.1 L715.5 214 L716.5 215.2 L717.5 216.7 L718.5 217.6 L719.5 218.6 L720.5 219.8 L721.5 221.2 L722.5 222.7 L723.5 224.3 L724.5 226.1 L725.5 228 L726.5 230 L727.5 232.2 L728.5 234.6 L729.5 237 L730.5 239.6 L731.5 242.4 L732.5 245.3 L733.5 248.3 L734.5 251.5 L735.5 254.8 L736.5 258.3 L737.5 261.9 L738.5 265.6 L739.5 269.5 L740.5 273.5 L741.5 277.6 L742.5 281.9 L743.5 286.3 L744.5 290.8 L745.5 295.4 L746.5 300.2 L747.5 305.2 L748.5 310.2 L749.5 315.4 L750.5 320.7 L751.5 326.2 L752.5 331.7 L753.5 337.4 L754.5 343.2 L755.5 349.2 L756.5 355.3 L757.5 361.4 L758.5 367.7 L759.5 374.2 L760.5 380.7 L761.5 387.4 L762.5 394.1 L763.5 401 L764.5 408 L765.5 415 L766.5 422.2 L767.5 429.5 L768.5 436.8 L769.5 444.3 L770.5 451.8 L771.5 459.4 L772.5 467.1 L773.5 474.9 L774.5 482.7 L775.5 490.6 L776.5 498.5 L777.5 506.5 L778.5 514.5 L779.5 522.6 L780.5 530.6 L781.5 538.7 L782.5 546.8 L783.5 555 L784.5 563.1 L785.5 571.2 L786.5 579.2 L787.5 587.3 L788.5 595.3 L789.5 603.3 L790.5 611.2 L791.5 619 L792.5 626.8 L793.5 634.5 L794.5 642.1 L795.5 649.6 L796.5 657 L797.5 664.3 L798.5 671.5 L799.5 678.5 L800.5 685.4 L801.5 692.2 L802.5 698.8 L803.5 705.3 L804.5 711.6 L805.5 717.8 L806.5 723.8 L807.5 729.6 L808.5 735.2 L809.5 740.7 L810.5 746 L811.5 751.1 L812.5 756 L813.5 760.8 L814.5 765.3 L815.5 769.7 L816.5 773.9 L817.5 777.9 L818.5 781.7 L819.5 785.3 L820.5 788.7 L821.5 792 L822.5 795 L823.5 797.9 L824.5 800.6 L825.5 803.1 L826.5 805.4 L827.5 807.6 L828.5 809.6 L829.5 811.4 L830.5 813 L831.5 814.4 L832.5 815.7 L833.5 816.8 L834.5 817.8 L835.5 817.8 L836.5 817.7 L837.5 817.6 L838.5 817.6 L839.5 817.6 L840.5 817.6 L841.5 817.7 L842.5 817.8 L843.5 817.9 L844.5 817.2 L845.5 816.2 L846.5 815.1 L847.5 813.8 L848.5 812.4 L849.5 810.8 L850.5 809.1 L851.5 807.2 L852.5 805.2 L853.5 803.1 L854.5 800.8 L855.5 798.4 L856.5 795.9 L857.5 793.2 L858.5 790.4 L859.5 787.4 L860.5 784.3 L861.5 781.1 L862.5 777.8 L863.5 774.3 L864.5 770.6 L865.5 766.9 L866.5 763 L867.5 758.9 L868.5 754.8 L869.5 750.4 L870.5 746 L871.5 741.4 L872.5 736.7 L873.5 731.9 L874.5 726.9 L875.5 721.8 L876.5 716.5 L877.5 711.1 L878.5 705.6 L879.5 699.9 L880.5 694.2 L881.5 688.3 L882.5 682.2 L883.5 676 L884.5 669.8 L885.5 663.3 L886.5 656.8 L887.5 650.2 L888.5 643.4 L889.5 636.5 L890.5 629.5 L891.5 622.4 L892.5 615.2 L893.5 607.9 L894.5 600.5 L895.5 593.1 L896.5 585.5 L897.5 577.8 L898.5 570.1 L899.5 562.3 L900.5 554.5 L901.5 546.6 L902.5 538.6 L903.5 530.6 L904.5 522.6 L905.5 514.5 L906.5 506.4 L907.5 498.3 L908.5 490.2 L909.5 482 L910.5 473.9 L911.5 465.8 L912.5 457.8 L913.5 449.7 L914.5 441.7 L915.5 433.7 L916.5 425.8 L917.5 418 L918.5 410.2 L919.5 402.5 L920.5 394.9 L921.5 387.4 L922.5 380 L923.5 372.7 L924.5 365.5 L925.5 358.4 L926.5 351.5 L927.5 344.7 L928.5 338 L929.5 331.5 L930.5 325.1 L931.5 318.9 L932.5 312.8 L933.5 306.9 L934.5 301.2 L935.5 295.7 L936.5 290.3 L937.5 285.1 L938.5 280.1 L939.5 275.3 L940.5 270.6 L941.5 266.2 L942.5 261.9 L943.5 257.8 L944.5 253.9 L945.5 250.2 L946.5 246.7 L947.5 243.4 L948.5 240.3 L949.5 237.4 L950.5 234.6 L951.5 232 L952.5 229.7 L953.5 227.5 L954.5 225.5 L955.5 223.6 L956.5 222 L957.5 220.5 L958.5 219.1 L959.5 218 L960.5 217 L961.5 215.7 L962.5 214.3 L963.5 213.3 L964.5 212.6 L965.5 212.2 L966.5 212 L967.5 212 L968.5 212.2 L969.5 212.7 L970.5 213.4 L971.5 214.5 L972.5 215.8 L973.5 217 L974.5 218 L975.5 219.1 L976.5 220.4 L977.5 221.8 L978.5 223.3 L979.5 225 L980.5 226.8 L981.5 228.8 L982.5 230.9 L983.5 233.1 L984.5 235.5 L985.5 238.1 L986.5 240.7 L987.5 243.6 L988.5 246.5 L989.5 249.6 L990.5 252.8 L991.5 256.2 L992.5 259.7 L993.5 263.4 L994.5 267.1 L995.5 271 L996.5 275.1 L997.5 279.3 L998.5 283.6 L999.5 288 L1000.5 292.6 L1001.5 297.3 L1002.5 302.2 L1003.5 307.2 L1004.5 312.3 L1005.5 317.5 L1006.5 322.9 L1007.5 328.4 L1008.5 334 L1009.5 339.7 L1010.5 345.6 L1011.5 351.6 L1012.5 357.7 L1013.5 363.9 L1014.5 370.3 L1015.5 376.8 L1016.5 383.3 L1017.5 390 L1018.5 396.8 L1019.5 403.8 L1020.5 410.8 L1021.5 417.9 L1022.5 425.1 L1023.5 432.4 L1024.5 439.8 L1025.5 447.3 L1026.5 454.9 L1027.5 462.5 L1028.5 470.2 L1029.5 478 L1030.5 485.8 L1031.5 493.7 L1032.5 501.7 L1033.5 509.7 L1034.5 517.7 L1035.5 525.8 L1036.5 533.9 L1037.5 542 L1038.5 550.1 L1039.5 558.2 L1040.5 566.3 L1041.5 574.4 L1042.5 582.5 L1043.5 590.5 L1044.5 598.5 L1045.5 606.4 L1046.5 614.3 L1047.5 622.1 L1048.5 629.9 L1049.5 637.5 L1050.5 645.1 L1051.5 652.6 L1052.5 659.9 L1053.5 667.2 L1054.5 674.3 L1055.5 681.3 L1056.5 688.1 L1057.5 694.9 L1058.5 701.4 L1059.5 707.8 L1060.5 714.1 L1061.5 720.2 L1062.5 726.1 L1063.5 731.9 L1064.5 737.4 L1065.5 742.8 L1066.5 748.1 L1067.5 753.1 L1068.5 758 L1069.5 762.6 L1070.5 767.1 L1071.5 771.4 L1072.5 775.5 L1073.5 779.4 L1074.5 783.1 L1075.5 786.7 L1076.5 790 L1077.5 793.2 L1078.5 796.2 L1079.5 799 L1080.5 801.6 L1081.5 804 L1082.5 806.3 L1083.5 808.4 L1084.5 810.3 L1085.5 812.1 L1086.5 813.6 L1087.5 815 L1088.5 816.2 L1089.5 817.2 L1090.5 817.9 L1091.5 817.7 L1092.5 817.7 L1093.5 817.6 L1094.5 817.6 L1095.5 817.6 L1096.5 817.6 L1097.5 817.7 L1098.5 817.8 L1099.5 817.7 L1100.5 816.8 L1101.5 815.7 L1102.5 814.6 L1103.5 813.2 L1104.5 811.8 L1105.5 810.1 L1106.5 808.3 L1107.5 806.4 L1108.5 804.4 L1109.5 802.2 L1110.5 799.9 L1111.5 797.4 L1112.5 794.8 L1113.5 792.1 L1114.5 789.2 L1115.5 786.2 L1116.5 783.1 L1117.5 779.8 L1118.5 776.4 L1119.5 772.8 L1120.5 769.1 L1121.5 765.3 L1122.5 761.4 L1123.5 757.3 L1124.5 753 L1125.5 748.7 L1126.5 744.2 L1127.5 739.6 L1128.5 734.8 L1129.5 729.9 L1130.5 724.8 L1131.5 719.7 L1132.5 714.4 L1133.5 708.9 L1134.5 703.3 L1135.5 697.6 L1136.5 691.8 L1137.5 685.9 L1138.5 679.8 L1139.5 673.5 L1140.5 667.2 L1141.5 660.7 L1142.5 654.2 L1143.5 647.5 L1144.5 640.7 L1145.5 633.7 L1146.5 626.7 L1147.5 619.6 L1148.5 612.3 L1149.5 605 L1150.5 597.6 L1151.5 590 L1152.5 582.4 L1153.5 574.8 L1154.5 567 L1155.5 559.2 L1156.5 551.3 L1157.5 543.4 L1158.5 535.4 L1159.5 527.4 L1160.5 519.3 L1161.5 511.2 L1162.5 503.1 L1163.5 495 L1164.5 486.9 L1165.5 478.8 L1166.5 470.7 L1167.5 462.6 L1168.5 454.5 L1169.5 446.5 L1170.5 438.5 L1171.5 430.6 L1172.5 422.7 L1173.5 414.9 L1174.5 407.1 L1175.5 399.5 L1176.5 391.9 L1177.5 384.4 L1178.5 377 L1179.5 369.8 L1180.5 362.6 L1181.5 355.6 L1182.5 348.7 L1183.5 342 L1184.5 335.4 L1185.5 328.9 L1186.5 322.6 L1187.5 316.4 L1188.5 310.4 L1189.5 304.6 L1190.5 299 L1191.5 293.5 L1192.5 288.2 L1193.5 283.1 L1194.5 278.1 L1195.5 273.4 L1196.5 268.8 L1197.5 264.4 L1198.5 260.3 L1199.5 256.3 L1200.5 252.4 L1201.5 248.8 L1202.5 245.4 L1203.5 242.2 L1204.5 239.1 L1205.5 236.2 L1206.5 233.6 L1207.5 231.1 L1208.5 228.8 L1209.5 226.6 L1210.5 224.7 L1211.5 222.9 L1212.5 221.4 L1213.5 219.9 L1214.5 218.6 L1215.5 217.6 L1216.5 216.6 L1217.5 215.1 L1218.5 213.8 L1219.5 213 L1220.5 212.4 L1221.5 212.1 L1222.5 212 L1223.5 212.1 L1224.5 212.4 L1225.5 212.9 L1226.5 213.8 L1227.5 215 L1228.5 216.5 L1229.5 217.4 L1230.5 218.4 L1231.5 219.6 L1232.5 220.9 L1233.5 222.4 L1234.5 224 L1235.5 225.7 L1236.5 227.6 L1237.5 229.6 L1238.5 231.8 L1239.5 234.1 L1240.5 236.5 L1241.5 239.1 L1242.5 241.8 L1243.5 244.7 L1244.5 247.7 L1245.5 250.9 L1246.5 254.2 L1247.5 257.6 L1248.5 261.2 L1249.5 264.8 L1250.5 268.7 L1251.5 272.7 L1252.5 276.8 L1253.5 281 L1254.5 285.4 L1255.5 289.9 L1256.5 294.5 L1257.5 299.3 L1258.5 304.2 L1259.5 309.2 L1260.5 314.4 L1261.5 319.6 L1262.5 325.1 L1263.5 330.6 L1264.5 336.3 L1265.5 342.1 L1266.5 348 L1267.5 354 L1268.5 360.2 L1269.5 366.5 L1270.5 372.9 L1271.5 379.4 L1272.5 386 L1273.5 392.8 L1274.5 399.6 L1275.5 406.6 L1276.5 413.6 L1277.5 420.8 L1278.5 428 L1279.5 435.4 L1280.5 442.8 L1281.5 450.3 L1282.5 457.9 L1283.5 465.6 L1284.5 473.3 L1285.5 481.1 L1286.5 489 L1287.5 496.9 L1288.5 504.9 L1289.5 512.9 L1290.5 520.9 L1291.5 529 L1292.5 537.1 L1293.5 545.2 L1294.5 553.3 L1295.5 561.4 L1296.5 569.5 L1297.5 577.6 L1298.5 585.7 L1299.5 593.7 L1300.5 601.7 L1301.5 609.6 L1302.5 617.5 L1303.5 625.2 L1304.5 632.9 L1305.5 640.6 L1306.5 648.1 L1307.5 655.5 L1308.5 662.8 L1309.5 670 L1310.5 677.1 L1311.5 684 L1312.5 690.8 L1313.5 697.5 L1314.5 704 L1315.5 710.4 L1316.5 716.6 L1317.5 722.6 L1318.5 728.4 L1319.5 734.1 L1320.5 739.6 L1321.5 745 L1322.5 750.1 L1323.5 755.1 L1324.5 759.8 L1325.5 764.4 L1326.5 768.8 L1327.5 773.1 L1328.5 777.1 L1329.5 780.9 L1330.5 784.6 L1331.5 788 L1332.5 791.3 L1333.5 794.4 L1334.5 797.3 L1335.5 800.1 L1336.5 802.6 L1337.5 805 L1338.5 807.2 L1339.5 809.2 L1340.5 811 L1341.5 812.7 L1341.8 825 L1340.8 823.6 L1339.8 822.1 L1338.8 820.4 L1337.8 818.5 L1336.8 816.5 L1335.8 814.3 L1334.8 811.9 L1333.8 809.3 L1332.8 806.5 L1331.8 803.5 L1330.8 800.4 L1329.8 797 L1328.8 793.5 L1327.8 789.8 L1326.8 785.9 L1325.8 781.8 L1324.8 777.5 L1323.8 773 L1322.8 768.3 L1321.8 763.5 L1320.8 758.4 L1319.8 753.2 L1318.8 747.8 L1317.8 742.2 L1316.8 736.5 L1315.8 730.6 L1314.8 724.5 L1313.8 718.3 L1312.8 711.9 L1311.8 705.3 L1310.8 698.6 L1309.8 691.8 L1308.8 684.8 L1307.8 677.7 L1306.8 670.5 L1305.8 663.2 L1304.8 655.8 L1303.8 648.2 L1302.8 640.6 L1301.8 632.9 L1300.8 625.1 L1299.8 617.3 L1298.8 609.4 L1297.8 601.4 L1296.8 593.4 L1295.8 585.3 L1294.8 577.3 L1293.8 569.2 L1292.8 561 L1291.8 552.9 L1290.8 544.8 L1289.8 536.7 L1288.8 528.6 L1287.8 520.5 L1286.8 512.5 L1285.8 504.5 L1284.8 496.5 L1283.8 488.6 L1282.8 480.8 L1281.8 473 L1280.8 465.3 L1279.8 457.7 L1278.8 450.1 L1277.8 442.6 L1276.8 435.3 L1275.8 428 L1274.8 420.8 L1273.8 413.7 L1272.8 406.7 L1271.8 399.9 L1270.8 393.1 L1269.8 386.5 L1268.8 380 L1267.8 373.6 L1266.8 367.3 L1265.8 361.2 L1264.8 355.2 L1263.8 349.3 L1262.8 343.5 L1261.8 337.9 L1260.8 332.4 L1259.8 327 L1258.8 321.8 L1257.8 316.7 L1256.8 311.7 L1255.8 306.9 L1254.8 302.2 L1253.8 297.6 L1252.8 293.2 L1251.8 288.9 L1250.8 284.8 L1249.8 280.7 L1248.8 276.9 L1247.8 273.1 L1246.8 269.5 L1245.8 266 L1244.8 262.7 L1243.8 259.5 L1242.8 256.4 L1241.8 253.5 L1240.8 250.7 L1239.8 248.1 L1238.8 245.5 L1237.8 243.1 L1236.8 240.9 L1235.8 238.8 L1234.8 236.8 L1233.8 235 L1232.8 233.3 L1231.8 231.7 L1230.8 230.3 L1229.8 229.1 L1228.8 228 L1227.8 227 L1226.8 226.4 L1225.8 226.6 L1224.8 226.6 L1223.8 226.7 L1222.8 226.7 L1221.8 226.7 L1220.8 226.7 L1219.8 226.6 L1218.8 226.5 L1217.8 226.7 L1216.8 227.6 L1215.8 228.8 L1214.8 230.1 L1213.8 231.5 L1212.8 233.2 L1211.8 235 L1210.8 237 L1209.8 239.2 L1208.8 241.6 L1207.8 244.1 L1206.8 246.8 L1205.8 249.7 L1204.8 252.8 L1203.8 256.1 L1202.8 259.5 L1201.8 263.2 L1200.8 267 L1199.8 271 L1198.8 275.2 L1197.8 279.6 L1196.8 284.2 L1195.8 289 L1194.8 293.9 L1193.8 299.1 L1192.8 304.4 L1191.8 309.9 L1190.8 315.6 L1189.8 321.4 L1188.8 327.4 L1187.8 333.6 L1186.8 340 L1185.8 346.5 L1184.8 353.1 L1183.8 359.9 L1182.8 366.8 L1181.8 373.9 L1180.8 381.1 L1179.8 388.4 L1178.8 395.8 L1177.8 403.4 L1176.8 411 L1175.8 418.7 L1174.8 426.5 L1173.8 434.3 L1172.8 442.2 L1171.8 450.2 L1170.8 458.2 L1169.8 466.3 L1168.8 474.3 L1167.8 482.4 L1166.8 490.6 L1165.8 498.7 L1164.8 506.8 L1163.8 514.9 L1162.8 523 L1161.8 531 L1160.8 539 L1159.8 547 L1158.8 554.9 L1157.8 562.8 L1156.8 570.6 L1155.8 578.3 L1154.8 586 L1153.8 593.6 L1152.8 601.1 L1151.8 608.6 L1150.8 615.9 L1149.8 623.2 L1148.8 630.3 L1147.8 637.4 L1146.8 644.4 L1145.8 651.2 L1144.8 658 L1143.8 664.6 L1142.8 671.1 L1141.8 677.5 L1140.8 683.8 L1139.8 690 L1138.8 696 L1137.8 701.9 L1136.8 707.7 L1135.8 713.4 L1134.8 719 L1133.8 724.4 L1132.8 729.7 L1131.8 734.8 L1130.8 739.9 L1129.8 744.8 L1128.8 749.6 L1127.8 754.2 L1126.8 758.7 L1125.8 763.1 L1124.8 767.3 L1123.8 771.4 L1122.8 775.4 L1121.8 779.3 L1120.8 783 L1119.8 786.5 L1118.8 790 L1117.8 793.3 L1116.8 796.4 L1115.8 799.4 L1114.8 802.3 L1113.8 805.1 L1112.8 807.7 L1111.8 810.1 L1110.8 812.4 L1109.8 814.6 L1108.8 816.6 L1107.8 818.5 L1106.8 820.2 L1105.8 821.8 L1104.8 823.3 L1103.8 824.6 L1102.8 825.8 L1101.8 826.8 L1100.8 827.8 L1099.8 829.3 L1098.8 830.5 L1097.8 831.3 L1096.8 831.9 L1095.8 832.2 L1094.8 832.3 L1093.8 832.3 L1092.8 832 L1091.8 831.4 L1090.8 830.5 L1089.8 829.3 L1088.8 827.7 L1087.8 826.8 L1086.8 825.7 L1085.8 824.5 L1084.8 823 L1083.8 821.4 L1082.8 819.7 L1081.8 817.8 L1080.8 815.6 L1079.8 813.3 L1078.8 810.9 L1077.8 808.2 L1076.8 805.3 L1075.8 802.3 L1074.8 799.1 L1073.8 795.7 L1072.8 792 L1071.8 788.2 L1070.8 784.3 L1069.8 780.1 L1068.8 775.7 L1067.8 771.1 L1066.8 766.4 L1065.8 761.5 L1064.8 756.4 L1063.8 751.1 L1062.8 745.6 L1061.8 740 L1060.8 734.2 L1059.8 728.2 L1058.8 722 L1057.8 715.7 L1056.8 709.3 L1055.8 702.7 L1054.8 695.9 L1053.8 689 L1052.8 682 L1051.8 674.9 L1050.8 667.6 L1049.8 660.3 L1048.8 652.8 L1047.8 645.2 L1046.8 637.5 L1045.8 629.8 L1044.8 622 L1043.8 614.1 L1042.8 606.2 L1041.8 598.2 L1040.8 590.2 L1039.8 582.1 L1038.8 574 L1037.8 565.9 L1036.8 557.8 L1035.8 549.7 L1034.8 541.6 L1033.8 533.5 L1032.8 525.4 L1031.8 517.3 L1030.8 509.3 L1029.8 501.3 L1028.8 493.4 L1027.8 485.5 L1026.8 477.7 L1025.8 469.9 L1024.8 462.2 L1023.8 454.6 L1022.8 447.1 L1021.8 439.7 L1020.8 432.3 L1019.8 425.1 L1018.8 418 L1017.8 410.9 L1016.8 404 L1015.8 397.2 L1014.8 390.5 L1013.8 383.9 L1012.8 377.4 L1011.8 371.1 L1010.8 364.8 L1009.8 358.7 L1008.8 352.8 L1007.8 346.9 L1006.8 341.2 L1005.8 335.7 L1004.8 330.2 L1003.8 324.9 L1002.8 319.7 L1001.8 314.7 L1000.8 309.8 L999.8 305 L998.8 300.3 L997.8 295.8 L996.8 291.5 L995.8 287.2 L994.8 283.1 L993.8 279.2 L992.8 275.3 L991.8 271.7 L990.8 268.1 L989.8 264.7 L988.8 261.4 L987.8 258.3 L986.8 255.2 L985.8 252.4 L984.8 249.6 L983.8 247 L982.8 244.6 L981.8 242.2 L980.8 240 L979.8 238 L978.8 236.1 L977.8 234.3 L976.8 232.6 L975.8 231.1 L974.8 229.8 L973.8 228.6 L972.8 227.6 L971.8 226.6 L970.8 226.5 L969.8 226.6 L968.8 226.7 L967.8 226.7 L966.8 226.7 L965.8 226.7 L964.8 226.6 L963.8 226.6 L962.8 226.5 L961.8 227 L960.8 228.1 L959.8 229.3 L958.8 230.6 L957.8 232.2 L956.8 233.9 L955.8 235.8 L954.8 237.9 L953.8 240.1 L952.8 242.6 L951.8 245.2 L950.8 248 L949.8 250.9 L948.8 254.1 L947.8 257.4 L946.8 261 L945.8 264.7 L944.8 268.6 L943.8 272.7 L942.8 277 L941.8 281.4 L940.8 286.1 L939.8 290.9 L938.8 296 L937.8 301.2 L936.8 306.6 L935.8 312.1 L934.8 317.9 L933.8 323.8 L932.8 329.9 L931.8 336.1 L930.8 342.5 L929.8 349.1 L928.8 355.8 L927.8 362.7 L926.8 369.7 L925.8 376.8 L924.8 384 L923.8 391.4 L922.8 398.8 L921.8 406.4 L920.8 414 L919.8 421.8 L918.8 429.6 L917.8 437.5 L916.8 445.4 L915.8 453.4 L914.8 461.4 L913.8 469.5 L912.8 477.6 L911.8 485.7 L910.8 493.8 L909.8 501.9 L908.8 510 L907.8 518.1 L906.8 526.2 L905.8 534.2 L904.8 542.2 L903.8 550.2 L902.8 558.1 L901.8 565.9 L900.8 573.7 L899.8 581.4 L898.8 589.1 L897.8 596.6 L896.8 604.1 L895.8 611.5 L894.8 618.8 L893.8 626.1 L892.8 633.2 L891.8 640.2 L890.8 647.1 L889.8 653.9 L888.8 660.6 L887.8 667.2 L886.8 673.7 L885.8 680 L884.8 686.3 L883.8 692.4 L882.8 698.4 L881.8 704.3 L880.8 710 L879.8 715.7 L878.8 721.1 L877.8 726.5 L876.8 731.8 L875.8 736.9 L874.8 741.9 L873.8 746.7 L872.8 751.4 L871.8 756 L870.8 760.5 L869.8 764.8 L868.8 769 L867.8 773.1 L866.8 777 L865.8 780.8 L864.8 784.4 L863.8 787.9 L862.8 791.3 L861.8 794.5 L860.8 797.6 L859.8 800.6 L858.8 803.4 L857.8 806.1 L856.8 808.7 L855.8 811.1 L854.8 813.3 L853.8 815.4 L852.8 817.4 L851.8 819.2 L850.8 820.9 L849.8 822.4 L848.8 823.9 L847.8 825.1 L846.8 826.2 L845.8 827.2 L844.8 828.4 L843.8 829.8 L842.8 830.9 L841.8 831.6 L840.8 832.1 L839.8 832.3 L838.8 832.3 L837.8 832.2 L836.8 831.8 L835.8 831.1 L834.8 830.1 L833.8 828.7 L832.8 827.4 L831.8 826.4 L830.8 825.2 L829.8 823.9 L828.8 822.4 L827.8 820.8 L826.8 818.9 L825.8 816.9 L824.8 814.7 L823.8 812.4 L822.8 809.8 L821.8 807.1 L820.8 804.2 L819.8 801 L818.8 797.7 L817.8 794.2 L816.8 790.5 L815.8 786.7 L814.8 782.6 L813.8 778.3 L812.8 773.9 L811.8 769.3 L810.8 764.5 L809.8 759.5 L808.8 754.3 L807.8 748.9 L806.8 743.4 L805.8 737.7 L804.8 731.8 L803.8 725.7 L802.8 719.5 L801.8 713.2 L800.8 706.6 L799.8 700 L798.8 693.2 L797.8 686.2 L796.8 679.2 L795.8 672 L794.8 664.7 L793.8 657.3 L792.8 649.8 L791.8 642.2 L790.8 634.5 L789.8 626.7 L788.8 618.9 L787.8 610.9 L786.8 603 L785.8 595 L784.8 586.9 L783.8 578.9 L782.8 570.8 L781.8 562.7 L780.8 554.5 L779.8 546.4 L778.8 538.3 L777.8 530.2 L776.8 522.1 L775.8 514.1 L774.8 506.1 L773.8 498.1 L772.8 490.2 L771.8 482.4 L770.8 474.6 L769.8 466.8 L768.8 459.2 L767.8 451.6 L766.8 444.1 L765.8 436.7 L764.8 429.4 L763.8 422.2 L762.8 415.1 L761.8 408.1 L760.8 401.2 L759.8 394.5 L758.8 387.8 L757.8 381.3 L756.8 374.9 L755.8 368.6 L754.8 362.4 L753.8 356.3 L752.8 350.4 L751.8 344.6 L750.8 339 L749.8 333.5 L748.8 328.1 L747.8 322.8 L746.8 317.7 L745.8 312.7 L744.8 307.8 L743.8 303.1 L742.8 298.5 L741.8 294.1 L740.8 289.8 L739.8 285.6 L738.8 281.5 L737.8 277.6 L736.8 273.9 L735.8 270.2 L734.8 266.7 L733.8 263.4 L732.8 260.1 L731.8 257 L730.8 254.1 L729.8 251.3 L728.8 248.6 L727.8 246 L726.8 243.6 L725.8 241.3 L724.8 239.2 L723.8 237.2 L722.8 235.3 L721.8 233.6 L720.8 232 L719.8 230.6 L718.8 229.3 L717.8 228.2 L716.8 227.2 L715.8 226.4 L714.8 226.5 L713.8 226.6 L712.8 226.7 L711.8 226.7 L710.8 226.7 L709.8 226.7 L708.8 226.6 L707.8 226.5 L706.8 226.5 L705.8 227.4 L704.8 228.5 L703.8 229.8 L702.8 231.2 L701.8 232.8 L700.8 234.6 L699.8 236.6 L698.8 238.8 L697.8 241.1 L696.8 243.6 L695.8 246.3 L694.8 249.1 L693.8 252.2 L692.8 255.4 L691.8 258.8 L690.8 262.4 L689.8 266.2 L688.8 270.2 L687.8 274.4 L686.8 278.7 L685.8 283.3 L684.8 288 L683.8 292.9 L682.8 298 L681.8 303.3 L680.8 308.8 L679.8 314.4 L678.8 320.2 L677.8 326.2 L676.8 332.4 L675.8 338.7 L674.8 345.2 L673.8 351.8 L672.8 358.5 L671.8 365.4 L670.8 372.5 L669.8 379.7 L668.8 386.9 L667.8 394.3 L666.8 401.8 L665.8 409.4 L664.8 417.1 L663.8 424.9 L662.8 432.7 L661.8 440.6 L660.8 448.6 L659.8 456.6 L658.8 464.7 L657.8 472.7 L656.8 480.8 L655.8 488.9 L654.8 497 L653.8 505.2 L652.8 513.3 L651.8 521.3 L650.8 529.4 L649.8 537.4 L648.8 545.4 L647.8 553.3 L646.8 561.2 L645.8 569 L644.8 576.8 L643.8 584.5 L642.8 592.1 L641.8 599.6 L640.8 607.1 L639.8 614.5 L638.8 621.7 L637.8 628.9 L636.8 636 L635.8 643 L634.8 649.8 L633.8 656.6 L632.8 663.3 L631.8 669.8 L630.8 676.2 L629.8 682.5 L628.8 688.7 L627.8 694.8 L626.8 700.8 L625.8 706.6 L624.8 712.3 L623.8 717.9 L622.8 723.3 L621.8 728.6 L620.8 733.8 L619.8 738.9 L618.8 743.8 L617.8 748.6 L616.8 753.3 L615.8 757.8 L614.8 762.2 L613.8 766.5 L612.8 770.6 L611.8 774.6 L610.8 778.5 L609.8 782.2 L608.8 785.8 L607.8 789.3 L606.8 792.6 L605.8 795.8 L604.8 798.8 L603.8 801.7 L602.8 804.5 L601.8 807.1 L600.8 809.6 L599.8 812 L598.8 814.2 L597.8 816.2 L596.8 818.1 L595.8 819.9 L594.8 821.5 L593.8 823 L592.8 824.4 L591.8 825.6 L590.8 826.7 L589.8 827.6 L588.8 829 L587.8 830.3 L586.8 831.2 L585.8 831.8 L584.8 832.2 L583.8 832.3 L582.8 832.3 L581.8 832 L580.8 831.5 L579.8 830.7 L578.8 829.6 L577.8 828.1 L576.8 827 L575.8 825.9 L574.8 824.7 L573.8 823.3 L572.8 821.8 L571.8 820 L570.8 818.2 L569.8 816.1 L568.8 813.8 L567.8 811.4 L566.8 808.8 L565.8 805.9 L564.8 802.9 L563.8 799.7 L562.8 796.4 L561.8 792.8 L560.8 789 L559.8 785.1 L558.8 780.9 L557.8 776.6 L556.8 772.1 L555.8 767.4 L554.8 762.5 L553.8 757.4 L552.8 752.2 L551.8 746.7 L550.8 741.1 L549.8 735.3 L548.8 729.4 L547.8 723.3 L546.8 717 L545.8 710.6 L544.8 704 L543.8 697.3 L542.8 690.4 L541.8 683.4 L540.8 676.3 L539.8 669.1 L538.8 661.7 L537.8 654.3 L536.8 646.7 L535.8 639.1 L534.8 631.4 L533.8 623.6 L532.8 615.7 L531.8 607.8 L530.8 599.8 L529.8 591.8 L528.8 583.7 L527.8 575.6 L526.8 567.5 L525.8 559.4 L524.8 551.3 L523.8 543.2 L522.8 535.1 L521.8 527 L520.8 518.9 L519.8 510.9 L518.8 502.9 L517.8 495 L516.8 487.1 L515.8 479.2 L514.8 471.5 L513.8 463.8 L512.8 456.1 L511.8 448.6 L510.8 441.2 L509.8 433.8 L508.8 426.5 L507.8 419.4 L506.8 412.3 L505.8 405.4 L504.8 398.5 L503.8 391.8 L502.8 385.2 L501.8 378.7 L500.8 372.3 L499.8 366.1 L498.8 360 L497.8 354 L496.8 348.1 L495.8 342.4 L494.8 336.8 L493.8 331.3 L492.8 325.9 L491.8 320.7 L490.8 315.7 L489.8 310.7 L488.8 305.9 L487.8 301.3 L486.8 296.7 L485.8 292.3 L484.8 288.1 L483.8 283.9 L482.8 280 L481.8 276.1 L480.8 272.4 L479.8 268.8 L478.8 265.4 L477.8 262 L476.8 258.9 L475.8 255.8 L474.8 252.9 L473.8 250.2 L472.8 247.5 L471.8 245 L470.8 242.7 L469.8 240.5 L468.8 238.4 L467.8 236.4 L466.8 234.6 L465.8 232.9 L464.8 231.4 L463.8 230.1 L462.8 228.8 L461.8 227.8 L460.8 226.8 L459.8 226.5 L458.8 226.6 L457.8 226.6 L456.8 226.7 L455.8 226.7 L454.8 226.7 L453.8 226.7 L452.8 226.6 L451.8 226.5 L450.8 226.9 L449.8 227.9 L448.8 229 L447.8 230.3 L446.8 231.8 L445.8 233.5 L444.8 235.4 L443.8 237.5 L442.8 239.7 L441.8 242.1 L440.8 244.6 L439.8 247.4 L438.8 250.3 L437.8 253.5 L436.8 256.8 L435.8 260.3 L434.8 263.9 L433.8 267.8 L432.8 271.9 L431.8 276.1 L430.8 280.5 L429.8 285.2 L428.8 290 L427.8 295 L426.8 300.1 L425.8 305.5 L424.8 311 L423.8 316.7 L422.8 322.6 L421.8 328.7 L420.8 334.9 L419.8 341.3 L418.8 347.8 L417.8 354.5 L416.8 361.3 L415.8 368.2 L414.8 375.3 L413.8 382.6 L412.8 389.9 L411.8 397.3 L410.8 404.9 L409.8 412.5 L408.8 420.2 L407.8 428 L406.8 435.9 L405.8 443.8 L404.8 451.8 L403.8 459.8 L402.8 467.9 L401.8 476 L400.8 484.1 L399.8 492.2 L398.8 500.3 L397.8 508.4 L396.8 516.5 L395.8 524.6 L394.8 532.6 L393.8 540.6 L392.8 548.6 L391.8 556.5 L390.8 564.3 L389.8 572.1 L388.8 579.9 L387.8 587.5 L386.8 595.1 L385.8 602.6 L384.8 610 L383.8 617.4 L382.8 624.6 L381.8 631.8 L380.8 638.8 L379.8 645.7 L378.8 652.6 L377.8 659.3 L376.8 665.9 L375.8 672.4 L374.8 678.8 L373.8 685 L372.8 691.2 L371.8 697.2 L370.8 703.1 L369.8 708.9 L368.8 714.5 L367.8 720.1 L366.8 725.5 L365.8 730.7 L364.8 735.9 L363.8 740.9 L362.8 745.8 L361.8 750.5 L360.8 755.1 L359.8 759.6 L358.8 764 L357.8 768.2 L356.8 772.3 L355.8 776.2 L354.8 780 L353.8 783.7 L352.8 787.2 L351.8 790.6 L350.8 793.9 L349.8 797 L348.8 800 L347.8 802.9 L346.8 805.6 L345.8 808.2 L344.8 810.6 L343.8 812.9 L342.8 815 L341.8 817 L340.8 818.9 L339.8 820.6 L338.8 822.1 L337.8 823.6 L336.8 824.9 L335.8 826 L334.8 827 L333.8 828.1 L332.8 829.5 L331.8 830.7 L330.8 831.5 L329.8 832 L328.8 832.3 L327.8 832.3 L326.8 832.2 L325.8 831.9 L324.8 831.2 L323.8 830.3 L322.8 829 L321.8 827.5 L320.8 826.6 L319.8 825.5 L318.8 824.2 L317.8 822.7 L316.8 821.1 L315.8 819.3 L314.8 817.3 L313.8 815.2 L312.8 812.9 L311.8 810.4 L310.8 807.6 L309.8 804.8 L308.8 801.7 L307.8 798.4 L306.8 794.9 L305.8 791.3 L304.8 787.5 L303.8 783.4 L302.8 779.2 L301.8 774.8 L300.8 770.2 L299.8 765.4 L298.8 760.5 L297.8 755.3 L296.8 750 L295.8 744.5 L294.8 738.8 L293.8 733 L292.8 727 L291.8 720.8 L290.8 714.4 L289.8 708 L288.8 701.3 L287.8 694.6 L286.8 687.6 L285.8 680.6 L284.8 673.4 L283.8 666.2 L282.8 658.8 L281.8 651.3 L280.8 643.7 L279.8 636 L278.8 628.3 L277.8 620.4 L276.8 612.5 L275.8 604.6 L274.8 596.6 L273.8 588.6 L272.8 580.5 L271.8 572.4 L270.8 564.3 L269.8 556.2 L268.8 548.1 L267.8 539.9 L266.8 531.8 L265.8 523.8 L264.8 515.7 L263.8 507.7 L262.8 499.7 L261.8 491.8 L260.8 483.9 L259.8 476.1 L258.8 468.4 L257.8 460.7 L256.8 453.1 L255.8 445.6 L254.8 438.2 L253.8 430.9 L252.8 423.7 L251.8 416.5 L250.8 409.5 L249.8 402.6 L248.8 395.8 L247.8 389.1 L246.8 382.6 L245.8 376.1 L244.8 369.8 L243.8 363.6 L242.8 357.5 L241.8 351.6 L240.8 345.8 L239.8 340.1 L238.8 334.6 L237.8 329.1 L236.8 323.8 L235.8 318.7 L234.8 313.7 L233.8 308.8 L232.8 304 L231.8 299.4 L230.8 295 L229.8 290.6 L228.8 286.4 L227.8 282.3 L226.8 278.4 L225.8 274.6 L224.8 270.9 L223.8 267.4 L222.8 264 L221.8 260.8 L220.8 257.6 L219.8 254.7 L218.8 251.8 L217.8 249.1 L216.8 246.5 L215.8 244.1 L214.8 241.8 L213.8 239.6 L212.8 237.6 L211.8 235.7 L210.8 233.9 L209.8 232.3 L208.8 230.9 L207.8 229.6 L206.8 228.4 L205.8 227.4 L204.8 226.5 L203.8 226.5 L202.8 226.6 L201.8 226.7 L200.8 226.7 L199.8 226.7 L198.8 226.7 L197.8 226.6 L196.8 226.5 L195.8 226.4 L194.8 227.2 L193.8 228.3 L192.8 229.5 L191.8 230.9 L190.8 232.5 L189.8 234.3 L188.8 236.2 L187.8 238.3 L186.8 240.6 L185.8 243.1 L184.8 245.7 L183.8 248.6 L182.8 251.6 L181.8 254.8 L180.8 258.1 L179.8 261.7 L178.8 265.5 L177.8 269.4 L176.8 273.5 L175.8 277.9 L174.8 282.4 L173.8 287.1 L172.8 291.9 L171.8 297 L170.8 302.2 L169.8 307.7 L168.8 313.3 L167.8 319.1 L166.8 325 L165.8 331.1 L164.8 337.4 L163.8 343.8 L162.8 350.4 L161.8 357.2 L160.8 364.1 L159.8 371.1 L158.8 378.2 L157.8 385.5 L156.8 392.8 L155.8 400.3 L154.8 407.9 L153.8 415.6 L152.8 423.3 L151.8 431.2 L150.8 439.1 L149.8 447 L148.8 455 L147.8 463 L146.8 471.1 L145.8 479.2 L144.8 487.3 L143.8 495.4 L142.8 503.5 L141.8 511.6 L140.8 519.7 L139.8 527.8 L138.8 535.8 L137.8 543.8 L136.8 551.7 L135.8 559.6 L134.8 567.5 L133.8 575.2 L132.8 583 L131.8 590.6 L130.8 598.1 L129.8 605.6 L128.8 613 L127.8 620.3 L126.8 627.5 L125.8 634.6 L124.8 641.6 L123.8 648.5 L122.8 655.3 L121.8 661.9 L120.8 668.5 L119.8 675 L118.8 681.3 L117.8 687.5 L116.8 693.6 L115.8 699.6 L114.8 705.4 L113.8 711.2 L112.8 716.8 L111.8 722.2 L110.8 727.6 L109.8 732.8 L108.8 737.9 L107.8 742.8 L106.8 747.7 L105.8 752.4 L104.8 756.9 L103.8 761.4 L102.8 765.7 L101.8 769.8 L100.8 773.8 L99.8 777.7 L98.8 781.5 L97.8 785.1 L96.8 788.6 L95.8 792 L94.8 795.2 L93.8 798.2 L92.8 801.2 L91.8 804 L90.8 806.6 L89.8 809.1 L88.8 811.5 L87.8 813.7 L86.8 815.8 L85.8 817.8 L84.8 819.6 L83.8 821.2 L82.8 822.7 L81.8 824.1 L80.8 825.4 L79.8 826.5 L78.8 827.4 L77.8 828.7 L76.8 830 L75.8 831 L74.8 831.7 L73.8 832.1 L72.8 832.3 L71.8 832.3 L70.8 832.1 L69.8 831.6 L68.8 830.9 L67.8 829.8 L66.8 828.4 L65.8 827.2 L64.8 826.2 Z"/>

<!-- overbar on 4 -->
<rect x="543" y="80" width="14" height="2" fill="#ff2a90"/>
<!-- ms stacked units -->
<g fill="#333" font-family="Liberation Sans" font-weight="bold" font-size="14">
<text x="946.2" y="91">m</text><text x="947" y="104.6" font-size="15.5">s</text>
<text x="1106.6" y="91">m</text><text x="1107.4" y="104.6" font-size="15.5">s</text>
</g>

<!-- trigger markers top -->
<path d="M693.5 120 L705 130.5 L716.5 120" fill="none" stroke="#ff8a00" stroke-width="2.2"/>
<path d="M679 119 L701 119 L691 131 Z" fill="#ff8a00"/>
<path d="M679 119.8 L701 119.8" stroke="#e06a00" stroke-width="1.8"/>

<!-- left markers -->
<g fill="#ff1a8c">
<rect x="47" y="318.8" width="14" height="2.4"/>
<rect x="53" y="318.8" width="2.4" height="16"/>
<path d="M53 341 L64 350 L53 359 Z"/>
</g>
<g>
<rect x="32" y="507" width="5" height="22" fill="#8aa0ff"/>
<rect x="35" y="509" width="4" height="18" fill="#ff8a20"/>
<rect x="38.5" y="507" width="2.5" height="22" fill="#ff1a70"/>
<path d="M53 510 L63 519.5 L53 529 Z" fill="#ff9a1a"/>
<path d="M46 534 L46 519 L53 519" fill="none" stroke="#ff9a1a" stroke-width="2.2"/>
<rect x="37" y="534.5" width="18" height="2.2" fill="#ff9a1a"/>
<rect x="39" y="539" width="14" height="1.8" fill="#ff9a1a"/>
<rect x="43" y="543" width="6" height="1.8" fill="#ff9a1a"/>
</g>

<!-- annotation lines -->
<g stroke="#000" stroke-width="7.6" stroke-linecap="round">
<line x1="746.7" y1="251" x2="793.1" y2="204.6"/>
<line x1="810.6" y1="588.8" x2="921" y2="673.9"/>
<line x1="334.2" y1="723.6" x2="304.8" y2="807.9"/>
</g>

<!-- annotation labels -->
<g class="lab" font-size="76" stroke="#000" stroke-width="0.6">
<text x="804.8" y="186.4" font-style="italic">v</text>
<text x="837" y="196.7" font-style="italic" font-size="50">o</text>
<text x="861.6" y="186.4">(50V/div)</text>

<text x="896.7" y="744.3" font-style="italic">i</text>
<text x="914.7" y="755.4" font-style="italic" font-size="50">L</text>
<text x="943.8" y="744.3">(20A/div)</text>

<text x="186.5" y="879.2" font-style="italic">i</text>
<text x="205.9" y="890.4" font-style="italic" font-size="50">o</text>
<text x="230.6" y="879.2">(5A/div)</text>
</g>
</svg>
</body></html>
